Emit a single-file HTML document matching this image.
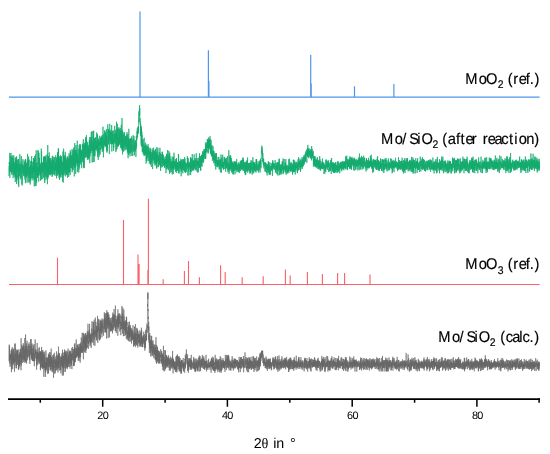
<!DOCTYPE html>
<html><head><meta charset="utf-8"><style>
html,body{margin:0;padding:0;background:#fff;}
body{width:550px;height:454px;overflow:hidden;}
svg{display:block;will-change:transform;}
text{font-family:"Liberation Sans", sans-serif;fill:#000;text-rendering:geometricPrecision;}
.lab text{stroke:#000;stroke-width:0.15px;}
</style></head><body>
<svg width="550" height="454" viewBox="0 0 550 454">
<rect width="550" height="454" fill="#fff"/>
<path d="M9.0,97.2H539.6M140.0,97.2V11.5M208.4,97.2V50.2M208.9,97.2V81.0M310.7,97.2V54.8M311.2,97.2V83.6M354.5,97.2V86.3M393.9,97.2V84.1" stroke="#4f95ea" stroke-width="1.2" fill="none"/>
<polyline points="9.00,166.2 9.08,175.9 9.17,175.0 9.25,162.4 9.33,164.0 9.42,162.3 9.50,170.4 9.58,165.9 9.67,171.8 9.75,152.9 9.83,177.8 9.92,165.7 10.00,171.4 10.08,165.5 10.17,163.8 10.25,170.0 10.33,171.0 10.42,165.2 10.50,165.6 10.58,171.8 10.67,160.5 10.75,155.8 10.83,169.8 10.92,162.1 11.00,153.0 11.08,161.1 11.17,163.7 11.25,158.4 11.33,156.3 11.42,167.5 11.50,173.8 11.58,165.6 11.67,161.9 11.75,170.2 11.83,172.6 11.92,165.3 12.00,171.4 12.08,175.1 12.17,166.1 12.25,161.7 12.33,170.2 12.42,169.5 12.50,157.5 12.58,158.4 12.67,163.0 12.75,161.8 12.83,155.3 12.92,168.9 13.00,171.8 13.08,162.6 13.17,178.1 13.25,174.1 13.33,172.7 13.42,171.1 13.50,175.2 13.58,158.6 13.67,172.8 13.75,172.7 13.83,155.5 13.92,171.0 14.00,166.7 14.08,174.2 14.17,165.4 14.25,168.5 14.33,171.1 14.42,162.3 14.50,173.1 14.58,168.0 14.67,172.4 14.75,165.1 14.83,176.8 14.92,173.3 15.00,167.7 15.08,173.6 15.17,178.2 15.25,182.0 15.33,157.6 15.42,175.5 15.50,172.4 15.58,168.4 15.67,161.8 15.75,178.2 15.83,159.9 15.92,173.2 16.00,178.6 16.08,157.5 16.17,167.0 16.25,159.7 16.33,170.9 16.42,180.2 16.50,183.9 16.58,156.3 16.67,165.0 16.75,174.3 16.83,180.7 16.92,172.3 17.00,163.9 17.08,171.4 17.17,169.2 17.25,167.8 17.33,164.0 17.42,172.1 17.50,171.6 17.58,168.7 17.67,167.8 17.75,160.1 17.83,165.9 17.92,178.1 18.00,168.0 18.08,159.0 18.17,179.1 18.25,173.3 18.33,184.7 18.42,169.9 18.50,166.1 18.58,159.0 18.67,179.1 18.75,186.9 18.83,163.6 18.92,164.9 19.00,173.9 19.08,163.6 19.17,167.6 19.25,167.1 19.33,171.0 19.42,166.7 19.50,169.8 19.58,176.3 19.67,166.6 19.75,172.0 19.83,154.2 19.92,159.2 20.00,175.5 20.08,165.4 20.17,173.9 20.25,173.7 20.33,179.3 20.42,175.6 20.50,177.1 20.58,169.0 20.67,164.7 20.75,164.5 20.83,166.3 20.92,161.7 21.00,165.9 21.08,169.2 21.17,171.7 21.25,167.4 21.33,156.0 21.42,169.4 21.50,171.5 21.58,177.8 21.67,174.1 21.75,165.3 21.83,164.7 21.92,184.5 22.00,175.4 22.08,183.2 22.17,185.4 22.25,164.1 22.33,172.8 22.42,173.3 22.50,174.1 22.58,173.9 22.67,171.5 22.75,171.3 22.83,159.2 22.92,168.9 23.00,164.7 23.08,171.0 23.17,166.7 23.25,174.5 23.33,176.0 23.42,172.3 23.50,172.4 23.58,170.8 23.67,166.9 23.75,168.9 23.83,166.6 23.92,172.9 24.00,170.2 24.08,174.3 24.17,160.6 24.25,176.6 24.33,164.7 24.42,164.9 24.50,168.8 24.58,166.1 24.67,172.3 24.75,166.1 24.83,162.5 24.92,164.1 25.00,179.7 25.08,170.6 25.17,161.8 25.25,170.3 25.33,159.0 25.42,183.2 25.50,159.3 25.58,173.7 25.67,174.2 25.75,159.8 25.83,172.5 25.92,177.5 26.00,173.7 26.08,172.2 26.17,177.2 26.25,171.5 26.33,172.8 26.42,169.4 26.50,174.9 26.58,163.6 26.67,176.1 26.75,166.7 26.83,162.5 26.92,173.0 27.00,182.6 27.08,177.3 27.17,166.7 27.25,175.4 27.33,167.2 27.42,169.5 27.50,171.1 27.58,153.8 27.67,171.8 27.75,163.1 27.83,165.5 27.92,159.9 28.00,159.6 28.08,163.7 28.17,176.4 28.25,182.4 28.33,170.2 28.42,178.2 28.50,168.5 28.58,156.6 28.67,171.4 28.75,173.5 28.83,167.2 28.92,172.5 29.00,174.4 29.08,164.0 29.17,159.6 29.25,168.6 29.33,168.7 29.42,167.6 29.50,177.2 29.58,182.5 29.67,167.1 29.75,175.1 29.83,176.8 29.92,175.2 30.00,177.6 30.08,167.2 30.17,175.3 30.25,184.5 30.33,175.7 30.42,165.5 30.50,174.3 30.58,179.0 30.67,172.6 30.75,165.8 30.83,180.9 30.92,160.9 31.00,173.4 31.08,169.7 31.17,161.2 31.25,178.5 31.33,172.3 31.42,161.4 31.50,174.0 31.58,166.6 31.67,156.1 31.75,164.7 31.83,171.5 31.92,174.2 32.00,170.8 32.08,169.9 32.17,173.0 32.25,168.1 32.33,178.0 32.42,169.8 32.50,171.6 32.58,173.4 32.67,161.9 32.75,164.4 32.83,180.4 32.92,171.8 33.00,167.4 33.08,171.8 33.17,165.9 33.25,171.3 33.33,164.6 33.42,171.3 33.50,158.0 33.58,178.8 33.67,165.6 33.75,157.9 33.83,162.0 33.92,166.6 34.00,170.3 34.08,161.0 34.17,172.0 34.25,186.3 34.33,160.0 34.42,171.5 34.50,166.9 34.58,170.4 34.67,156.1 34.75,160.8 34.83,172.3 34.92,168.7 35.00,180.7 35.08,163.9 35.17,170.2 35.25,186.1 35.33,163.5 35.42,154.5 35.50,168.7 35.58,168.6 35.67,174.9 35.75,169.8 35.83,163.5 35.92,170.4 36.00,186.0 36.08,177.9 36.17,150.3 36.25,167.8 36.33,162.6 36.42,173.2 36.50,167.6 36.58,182.6 36.67,175.4 36.75,175.1 36.83,170.1 36.92,168.4 37.00,171.2 37.08,178.0 37.17,172.5 37.25,166.2 37.33,177.8 37.42,170.0 37.50,168.1 37.58,163.0 37.67,164.6 37.75,164.1 37.83,150.1 37.92,175.9 38.00,172.6 38.08,167.1 38.17,176.0 38.25,171.7 38.33,171.2 38.42,150.9 38.50,166.9 38.58,172.3 38.67,180.0 38.75,181.6 38.83,178.7 38.92,160.2 39.00,152.8 39.08,172.5 39.17,168.7 39.25,175.3 39.33,167.5 39.42,170.0 39.50,157.7 39.58,171.6 39.67,165.2 39.75,170.9 39.83,171.6 39.92,167.5 40.00,170.6 40.08,168.2 40.17,173.7 40.25,171.9 40.33,164.4 40.42,164.1 40.50,180.7 40.58,167.6 40.67,175.3 40.75,171.1 40.83,164.2 40.92,162.9 41.00,169.1 41.08,170.0 41.17,172.6 41.25,148.6 41.33,164.0 41.42,167.5 41.50,179.5 41.58,151.4 41.67,171.3 41.75,164.3 41.83,171.2 41.92,164.6 42.00,170.7 42.08,179.2 42.17,170.6 42.25,171.1 42.33,170.7 42.42,162.7 42.50,171.9 42.58,166.5 42.67,162.3 42.75,167.7 42.83,166.4 42.92,173.3 43.00,167.7 43.08,164.2 43.17,178.3 43.25,175.0 43.33,176.9 43.42,172.2 43.50,167.1 43.58,164.9 43.67,156.5 43.75,174.6 43.83,168.6 43.92,157.3 44.00,167.6 44.08,157.8 44.17,169.0 44.25,159.3 44.33,158.8 44.42,168.6 44.50,167.2 44.58,156.0 44.67,173.0 44.75,183.1 44.83,157.2 44.92,180.6 45.00,162.8 45.08,164.2 45.17,166.4 45.25,157.4 45.33,176.8 45.42,171.1 45.50,162.3 45.58,165.6 45.67,156.8 45.75,165.1 45.83,174.2 45.92,155.4 46.00,164.5 46.08,168.6 46.17,174.9 46.25,177.1 46.33,164.3 46.42,162.2 46.50,170.7 46.58,164.9 46.67,165.3 46.75,175.1 46.83,179.4 46.92,169.3 47.00,166.0 47.08,171.4 47.17,154.0 47.25,167.2 47.33,159.8 47.42,184.2 47.50,172.4 47.58,168.3 47.67,165.9 47.75,145.0 47.83,172.3 47.92,178.8 48.00,162.1 48.08,172.1 48.17,172.3 48.25,156.3 48.33,173.8 48.42,176.8 48.50,168.8 48.58,166.7 48.67,172.7 48.75,156.3 48.83,167.8 48.92,174.6 49.00,158.3 49.08,174.1 49.17,164.1 49.25,152.4 49.33,166.3 49.42,160.2 49.50,169.3 49.58,158.8 49.67,174.4 49.75,161.8 49.83,169.5 49.92,162.8 50.00,164.7 50.08,175.4 50.17,168.5 50.25,164.2 50.33,158.1 50.42,175.1 50.50,172.1 50.58,164.6 50.67,168.6 50.75,159.6 50.83,159.7 50.92,161.1 51.00,169.4 51.08,169.0 51.17,161.6 51.25,172.1 51.33,172.4 51.42,168.1 51.50,174.2 51.58,164.8 51.67,166.0 51.75,170.2 51.83,166.6 51.92,172.4 52.00,158.0 52.08,176.9 52.17,161.3 52.25,165.6 52.33,156.0 52.42,171.0 52.50,175.8 52.58,174.3 52.67,172.6 52.75,155.8 52.83,161.2 52.92,163.5 53.00,160.2 53.08,174.6 53.17,168.0 53.25,166.5 53.33,170.1 53.42,160.0 53.50,160.3 53.58,160.5 53.67,170.2 53.75,169.1 53.83,170.7 53.92,174.3 54.00,157.1 54.08,162.7 54.17,167.7 54.25,157.2 54.33,162.9 54.42,167.7 54.50,174.4 54.58,174.2 54.67,166.8 54.75,165.1 54.83,174.2 54.92,164.0 55.00,169.0 55.08,175.9 55.17,164.0 55.25,162.3 55.33,166.5 55.42,170.8 55.50,169.9 55.58,167.6 55.67,170.4 55.75,155.3 55.83,160.5 55.92,167.7 56.00,160.0 56.08,157.1 56.17,158.0 56.25,160.0 56.33,165.2 56.42,159.3 56.50,168.1 56.58,178.4 56.67,165.4 56.75,175.4 56.83,168.5 56.92,158.6 57.00,164.6 57.08,159.5 57.17,171.8 57.25,158.3 57.33,175.7 57.42,170.5 57.50,152.2 57.58,171.9 57.67,160.5 57.75,160.8 57.83,173.3 57.92,153.7 58.00,168.1 58.08,154.7 58.17,169.7 58.25,153.8 58.33,148.1 58.42,169.1 58.50,174.6 58.58,149.3 58.67,172.1 58.75,167.1 58.83,164.0 58.92,169.2 59.00,177.8 59.08,157.6 59.17,170.2 59.25,168.7 59.33,156.3 59.42,177.6 59.50,179.9 59.58,159.6 59.67,178.4 59.75,166.6 59.83,165.1 59.92,176.7 60.00,167.8 60.08,168.5 60.17,176.8 60.25,175.2 60.33,172.4 60.42,156.4 60.50,155.2 60.58,174.0 60.67,159.7 60.75,167.2 60.83,158.6 60.92,164.8 61.00,157.2 61.08,177.5 61.17,159.0 61.25,165.2 61.33,164.8 61.42,174.5 61.50,156.2 61.58,165.8 61.67,164.6 61.75,169.8 61.83,169.3 61.92,162.8 62.00,167.7 62.08,163.4 62.17,169.3 62.25,165.3 62.33,161.5 62.42,165.8 62.50,168.5 62.58,181.7 62.67,162.6 62.75,168.1 62.83,176.1 62.92,151.5 63.00,153.9 63.08,157.7 63.17,165.1 63.25,182.5 63.33,168.5 63.42,174.1 63.50,164.2 63.58,148.6 63.67,149.6 63.75,172.6 63.83,166.8 63.92,156.5 64.00,173.2 64.08,154.8 64.17,173.2 64.25,175.4 64.33,160.0 64.42,157.6 64.50,171.0 64.58,157.6 64.67,171.1 64.75,156.8 64.83,170.6 64.92,165.7 65.00,162.0 65.08,158.7 65.17,166.5 65.25,151.8 65.33,162.9 65.42,162.0 65.50,169.4 65.58,156.0 65.67,176.4 65.75,162.4 65.83,156.7 65.92,174.0 66.00,169.5 66.08,163.1 66.17,158.3 66.25,164.4 66.33,159.6 66.42,162.1 66.50,174.9 66.58,166.9 66.67,165.1 66.75,166.5 66.83,163.6 66.92,169.8 67.00,170.0 67.08,161.4 67.17,164.6 67.25,174.3 67.33,166.7 67.42,162.5 67.50,177.8 67.58,163.7 67.67,156.1 67.75,168.2 67.83,157.4 67.92,160.1 68.00,165.7 68.08,162.6 68.17,158.2 68.25,159.6 68.33,159.2 68.42,171.2 68.50,158.3 68.58,159.3 68.67,177.0 68.75,159.3 68.83,173.2 68.92,172.0 69.00,161.9 69.08,153.2 69.17,166.0 69.25,167.4 69.33,169.4 69.42,163.2 69.50,170.9 69.58,172.1 69.67,155.4 69.75,172.3 69.83,163.7 69.92,158.7 70.00,160.3 70.08,175.2 70.17,169.1 70.25,150.2 70.33,162.9 70.42,161.3 70.50,161.0 70.58,156.4 70.67,152.2 70.75,167.9 70.83,155.7 70.92,159.5 71.00,157.9 71.08,157.0 71.17,166.9 71.25,164.4 71.33,157.2 71.42,155.4 71.50,158.5 71.58,168.2 71.67,162.5 71.75,163.2 71.83,159.3 71.92,159.8 72.00,162.9 72.08,149.0 72.17,172.3 72.25,156.0 72.33,157.5 72.42,170.3 72.50,162.7 72.58,161.4 72.67,157.2 72.75,150.6 72.83,162.3 72.92,169.1 73.00,154.9 73.08,170.1 73.17,153.3 73.25,155.9 73.33,164.2 73.42,160.7 73.50,165.4 73.58,155.7 73.67,153.7 73.75,148.0 73.83,152.4 73.92,153.3 74.00,150.2 74.08,162.5 74.17,155.9 74.25,147.0 74.33,176.4 74.42,154.6 74.50,151.8 74.58,165.0 74.67,167.9 74.75,143.1 74.83,150.2 74.92,153.3 75.00,167.5 75.08,157.8 75.17,154.4 75.25,159.5 75.33,167.7 75.42,150.3 75.50,156.9 75.58,150.2 75.67,173.9 75.75,171.5 75.83,165.6 75.92,158.3 76.00,163.5 76.08,145.0 76.17,160.8 76.25,149.9 76.33,149.9 76.42,154.0 76.50,156.3 76.58,161.9 76.67,163.2 76.75,160.2 76.83,152.1 76.92,162.8 77.00,157.4 77.08,166.0 77.17,152.0 77.25,140.7 77.33,154.7 77.42,172.1 77.50,160.9 77.58,156.4 77.67,163.5 77.75,160.9 77.83,160.5 77.92,154.0 78.00,157.8 78.08,158.6 78.17,152.9 78.25,148.9 78.33,158.0 78.42,163.4 78.50,161.2 78.58,160.1 78.67,160.1 78.75,172.6 78.83,158.3 78.92,163.4 79.00,169.4 79.08,156.7 79.17,145.2 79.25,163.1 79.33,167.3 79.42,158.2 79.50,158.4 79.58,156.5 79.67,147.9 79.75,163.2 79.83,154.1 79.92,144.3 80.00,154.6 80.08,144.1 80.17,148.8 80.25,155.5 80.33,149.2 80.42,162.3 80.50,145.5 80.58,156.8 80.67,158.7 80.75,164.6 80.83,161.0 80.92,156.4 81.00,155.3 81.08,154.3 81.17,162.1 81.25,150.2 81.33,157.9 81.42,153.8 81.50,155.9 81.58,152.5 81.67,168.2 81.75,149.8 81.83,155.7 81.92,155.8 82.00,157.9 82.08,156.8 82.17,156.5 82.25,160.1 82.33,143.7 82.42,153.6 82.50,145.4 82.58,154.9 82.67,145.6 82.75,147.0 82.83,152.8 82.92,162.2 83.00,156.8 83.08,154.9 83.17,162.1 83.25,146.7 83.33,139.2 83.42,150.0 83.50,150.9 83.58,160.8 83.67,166.6 83.75,144.0 83.83,168.2 83.92,162.7 84.00,158.0 84.08,154.8 84.17,168.0 84.25,152.9 84.33,149.2 84.42,153.2 84.50,143.3 84.58,155.3 84.67,151.4 84.75,154.2 84.83,154.4 84.92,145.1 85.00,158.0 85.08,145.3 85.17,157.6 85.25,141.5 85.33,154.2 85.42,146.4 85.50,152.0 85.58,147.4 85.67,137.4 85.75,144.3 85.83,152.0 85.92,155.5 86.00,141.9 86.08,137.6 86.17,145.7 86.25,149.9 86.33,147.1 86.42,135.2 86.50,156.7 86.58,157.3 86.67,155.9 86.75,144.9 86.83,151.5 86.92,149.7 87.00,141.7 87.08,156.5 87.17,151.4 87.25,147.6 87.33,159.8 87.42,155.6 87.50,156.1 87.58,158.3 87.67,155.1 87.75,142.3 87.83,147.9 87.92,156.8 88.00,145.4 88.08,150.5 88.17,152.8 88.25,159.5 88.33,158.5 88.42,155.9 88.50,148.9 88.58,155.9 88.67,153.4 88.75,148.9 88.83,158.6 88.92,153.0 89.00,144.9 89.08,157.9 89.17,148.0 89.25,153.4 89.33,139.8 89.42,149.4 89.50,143.4 89.58,143.2 89.67,137.2 89.75,163.1 89.83,148.3 89.92,150.8 90.00,156.3 90.08,148.4 90.17,152.4 90.25,140.4 90.33,150.3 90.42,146.3 90.50,152.1 90.58,150.0 90.67,140.0 90.75,137.0 90.83,142.3 90.92,153.4 91.00,151.4 91.08,151.2 91.17,135.7 91.25,131.9 91.33,144.5 91.42,146.3 91.50,137.5 91.58,150.6 91.67,147.2 91.75,140.7 91.83,142.6 91.92,149.0 92.00,131.3 92.08,147.6 92.17,162.4 92.25,146.3 92.33,148.7 92.42,141.5 92.50,145.5 92.58,151.1 92.67,151.3 92.75,146.7 92.83,150.1 92.92,147.9 93.00,135.6 93.08,131.0 93.17,162.1 93.25,152.6 93.33,147.0 93.42,136.3 93.50,139.2 93.58,155.8 93.67,130.7 93.75,145.1 93.83,152.6 93.92,147.9 94.00,151.7 94.08,146.1 94.17,162.0 94.25,140.3 94.33,138.2 94.42,148.5 94.50,155.7 94.58,146.3 94.67,153.2 94.75,143.2 94.83,139.0 94.92,155.3 95.00,156.3 95.08,156.0 95.17,143.6 95.25,139.0 95.33,138.1 95.42,144.8 95.50,149.9 95.58,149.4 95.67,137.1 95.75,147.3 95.83,146.2 95.92,146.6 96.00,145.8 96.08,144.7 96.17,149.6 96.25,146.7 96.33,147.2 96.42,141.5 96.50,148.2 96.58,145.0 96.67,132.4 96.75,148.7 96.83,143.9 96.92,151.4 97.00,144.5 97.08,144.9 97.17,146.8 97.25,145.3 97.33,142.6 97.42,134.1 97.50,156.8 97.58,135.4 97.67,143.1 97.75,149.3 97.83,147.5 97.92,148.6 98.00,149.9 98.08,152.9 98.17,146.8 98.25,159.9 98.33,138.6 98.42,146.3 98.50,142.6 98.58,141.4 98.67,146.6 98.75,153.8 98.83,140.3 98.92,140.2 99.00,149.1 99.08,148.0 99.17,156.7 99.25,150.9 99.33,145.9 99.42,142.4 99.50,145.7 99.58,143.3 99.67,135.8 99.75,144.3 99.83,143.2 99.92,142.8 100.00,141.5 100.08,154.6 100.17,148.4 100.25,149.9 100.33,140.2 100.42,137.6 100.50,142.2 100.58,145.4 100.67,141.7 100.75,142.7 100.83,149.7 100.92,145.6 101.00,137.6 101.08,141.0 101.17,139.6 101.25,144.7 101.33,136.3 101.42,142.4 101.50,147.8 101.58,143.6 101.67,137.8 101.75,139.6 101.83,144.1 101.92,146.3 102.00,148.4 102.08,142.3 102.17,135.0 102.25,152.0 102.33,145.0 102.42,145.6 102.50,144.9 102.58,136.6 102.67,141.0 102.75,144.5 102.83,149.3 102.92,143.2 103.00,126.7 103.08,141.3 103.17,144.9 103.25,150.7 103.33,147.0 103.42,157.4 103.50,151.4 103.58,150.9 103.67,148.3 103.75,133.9 103.83,147.7 103.92,146.1 104.00,139.1 104.08,145.9 104.17,144.9 104.25,139.4 104.33,141.4 104.42,140.5 104.50,143.5 104.58,139.5 104.67,145.4 104.75,130.2 104.83,140.2 104.92,131.5 105.00,138.9 105.08,145.0 105.17,141.9 105.25,141.1 105.33,142.1 105.42,142.8 105.50,134.8 105.58,147.0 105.67,132.2 105.75,138.6 105.83,142.4 105.92,136.1 106.00,142.6 106.08,145.7 106.17,133.8 106.25,140.7 106.33,138.8 106.42,129.1 106.50,139.8 106.58,136.0 106.67,149.1 106.75,135.5 106.83,151.3 106.92,137.5 107.00,152.6 107.08,144.0 107.17,143.4 107.25,145.5 107.33,146.0 107.42,149.1 107.50,151.0 107.58,131.8 107.67,132.6 107.75,124.3 107.83,137.8 107.92,144.8 108.00,142.4 108.08,140.7 108.17,137.8 108.25,136.0 108.33,138.1 108.42,142.2 108.50,128.9 108.58,144.2 108.67,130.7 108.75,138.7 108.83,135.7 108.92,137.3 109.00,133.0 109.08,132.3 109.17,137.9 109.25,132.6 109.33,154.0 109.42,136.6 109.50,135.1 109.58,135.7 109.67,132.5 109.75,123.9 109.83,137.4 109.92,140.8 110.00,129.6 110.08,138.9 110.17,131.4 110.25,138.6 110.33,141.0 110.42,141.8 110.50,141.5 110.58,134.5 110.67,144.2 110.75,136.1 110.83,141.0 110.92,143.1 111.00,137.0 111.08,130.9 111.17,142.6 111.25,132.0 111.33,133.4 111.42,132.1 111.50,144.0 111.58,137.8 111.67,125.0 111.75,143.3 111.83,151.5 111.92,149.8 112.00,135.3 112.08,139.3 112.17,141.9 112.25,144.3 112.33,139.0 112.42,132.1 112.50,143.4 112.58,142.6 112.67,130.7 112.75,136.5 112.83,140.4 112.92,138.8 113.00,142.0 113.08,143.6 113.17,142.1 113.25,138.1 113.33,130.5 113.42,142.5 113.50,147.3 113.58,150.8 113.67,138.6 113.75,138.6 113.83,147.6 113.92,140.0 114.00,140.8 114.08,143.1 114.17,134.1 114.25,142.3 114.33,133.7 114.42,137.9 114.50,138.0 114.58,135.9 114.67,125.9 114.75,133.7 114.83,140.8 114.92,138.4 115.00,136.3 115.08,141.4 115.17,143.0 115.25,144.0 115.33,133.9 115.42,139.0 115.50,136.8 115.58,133.5 115.67,129.8 115.75,138.3 115.83,133.6 115.92,152.1 116.00,138.4 116.08,137.7 116.17,136.6 116.25,150.5 116.33,133.4 116.42,138.1 116.50,121.7 116.58,138.4 116.67,139.0 116.75,145.9 116.83,130.6 116.92,139.1 117.00,149.1 117.08,136.2 117.17,138.2 117.25,134.0 117.33,123.7 117.42,138.8 117.50,146.6 117.58,136.6 117.67,128.2 117.75,141.1 117.83,140.0 117.92,145.6 118.00,145.1 118.08,137.9 118.17,142.0 118.25,128.7 118.33,146.4 118.42,140.8 118.50,143.0 118.58,146.2 118.67,138.0 118.75,138.8 118.83,134.5 118.92,127.2 119.00,139.0 119.08,140.8 119.17,133.3 119.25,144.2 119.33,140.5 119.42,142.7 119.50,135.3 119.58,129.3 119.67,144.7 119.75,143.7 119.83,139.4 119.92,137.5 120.00,138.4 120.08,139.3 120.17,137.0 120.25,128.0 120.33,144.9 120.42,131.1 120.50,138.2 120.58,138.4 120.67,141.9 120.75,130.5 120.83,147.6 120.92,144.3 121.00,145.0 121.08,148.1 121.17,135.6 121.25,124.8 121.33,142.5 121.42,148.4 121.50,147.6 121.58,137.3 121.67,140.0 121.75,142.3 121.83,129.7 121.92,136.6 122.00,118.0 122.08,150.3 122.17,136.8 122.25,150.3 122.33,141.0 122.42,130.8 122.50,154.4 122.58,131.1 122.67,144.8 122.75,148.8 122.83,138.0 122.92,133.8 123.00,147.6 123.08,141.7 123.17,134.0 123.25,134.9 123.33,139.1 123.42,147.4 123.50,139.8 123.58,145.6 123.67,151.7 123.75,149.4 123.83,150.4 123.92,149.3 124.00,132.1 124.08,149.3 124.17,143.9 124.25,141.2 124.33,135.5 124.42,132.5 124.50,135.4 124.58,142.1 124.67,135.1 124.75,137.3 124.83,138.6 124.92,146.4 125.00,140.6 125.08,141.6 125.17,150.5 125.25,140.6 125.33,146.2 125.42,136.3 125.50,144.7 125.58,143.5 125.67,143.8 125.75,140.0 125.83,136.7 125.92,141.1 126.00,140.1 126.08,149.2 126.17,148.5 126.25,135.9 126.33,146.9 126.42,140.3 126.50,146.0 126.58,140.4 126.67,134.5 126.75,149.5 126.83,146.1 126.92,136.1 127.00,132.1 127.08,140.3 127.17,136.5 127.25,141.4 127.33,147.4 127.42,152.6 127.50,141.6 127.58,152.1 127.67,150.8 127.75,141.3 127.83,133.9 127.92,149.1 128.00,147.7 128.08,158.2 128.17,152.7 128.25,148.8 128.33,154.3 128.42,137.9 128.50,145.4 128.58,138.6 128.67,154.8 128.75,147.8 128.83,128.8 128.92,152.7 129.00,139.1 129.08,149.2 129.17,141.7 129.25,146.1 129.33,148.5 129.42,145.9 129.50,139.1 129.58,153.2 129.67,147.3 129.75,144.8 129.83,149.2 129.92,141.8 130.00,156.3 130.08,146.4 130.17,147.3 130.25,147.2 130.33,139.7 130.42,138.2 130.50,146.5 130.58,147.4 130.67,153.3 130.75,148.0 130.83,138.9 130.92,148.5 131.00,150.4 131.08,151.4 131.17,147.5 131.25,138.3 131.33,152.4 131.42,141.3 131.50,149.0 131.58,136.4 131.67,150.2 131.75,141.1 131.83,152.1 131.92,156.1 132.00,152.6 132.08,138.9 132.17,140.3 132.25,140.7 132.33,149.7 132.42,147.9 132.50,146.8 132.58,147.7 132.67,149.3 132.75,149.7 132.83,155.8 132.92,145.6 133.00,147.1 133.08,135.2 133.17,138.2 133.25,141.9 133.33,139.0 133.42,147.1 133.50,151.8 133.58,143.3 133.67,143.0 133.75,142.8 133.83,146.4 133.92,142.5 134.00,136.0 134.08,147.3 134.17,147.5 134.25,149.9 134.33,145.6 134.42,146.2 134.50,155.3 134.58,145.0 134.67,149.7 134.75,145.4 134.83,142.4 134.92,142.4 135.00,140.2 135.08,144.8 135.17,141.3 135.25,142.2 135.33,151.4 135.42,143.6 135.50,150.7 135.58,145.6 135.67,148.8 135.75,140.4 135.83,144.5 135.92,156.9 136.00,147.9 136.08,148.7 136.17,144.2 136.25,147.4 136.33,135.9 136.42,137.4 136.50,144.2 136.58,146.1 136.67,138.9 136.75,139.8 136.83,138.5 136.92,139.1 137.00,133.0 137.08,131.3 137.17,138.3 137.25,128.6 137.33,132.2 137.42,133.3 137.50,130.5 137.58,136.9 137.67,132.4 137.75,133.6 137.83,127.6 137.92,128.2 138.00,134.0 138.08,132.1 138.17,126.5 138.25,129.9 138.33,127.7 138.42,126.2 138.50,132.7 138.58,120.6 138.67,120.4 138.75,122.4 138.83,117.6 138.92,111.4 139.00,120.3 139.08,117.1 139.17,115.2 139.25,114.6 139.33,114.3 139.42,109.3 139.50,115.8 139.58,105.0 139.67,115.2 139.75,108.1 139.83,115.2 139.92,122.1 140.00,118.1 140.08,118.2 140.17,124.8 140.25,121.9 140.33,122.5 140.42,123.9 140.50,135.3 140.58,132.0 140.67,132.1 140.75,124.4 140.83,135.0 140.92,125.9 141.00,136.2 141.08,128.6 141.17,145.6 141.25,127.2 141.33,143.2 141.42,141.6 141.50,128.8 141.58,137.4 141.67,146.7 141.75,145.6 141.83,131.6 141.92,138.0 142.00,135.0 142.08,136.2 142.17,138.6 142.25,151.8 142.33,143.3 142.42,141.8 142.50,141.5 142.58,147.0 142.67,147.4 142.75,139.4 142.83,152.0 142.92,139.1 143.00,139.0 143.08,147.5 143.17,154.2 143.25,143.9 143.33,147.3 143.42,152.7 143.50,149.5 143.58,152.3 143.67,152.0 143.75,148.2 143.83,150.3 143.92,152.0 144.00,147.4 144.08,155.8 144.17,137.8 144.25,143.4 144.33,155.5 144.42,150.6 144.50,145.4 144.58,150.7 144.67,154.4 144.75,146.3 144.83,153.2 144.92,148.9 145.00,149.1 145.08,149.5 145.17,155.5 145.25,144.5 145.33,148.4 145.42,153.7 145.50,144.4 145.58,142.7 145.67,153.6 145.75,150.9 145.83,150.3 145.92,151.9 146.00,146.4 146.08,163.7 146.17,146.6 146.25,149.5 146.33,144.7 146.42,149.8 146.50,159.6 146.58,152.2 146.67,155.2 146.75,150.0 146.83,161.5 146.92,153.4 147.00,146.5 147.08,156.7 147.17,151.1 147.25,156.1 147.33,153.8 147.42,154.3 147.50,154.0 147.58,149.0 147.67,146.1 147.75,158.5 147.83,153.1 147.92,155.3 148.00,151.6 148.08,144.0 148.17,147.8 148.25,161.1 148.33,150.4 148.42,152.5 148.50,147.2 148.58,151.9 148.67,152.8 148.75,153.6 148.83,154.4 148.92,151.7 149.00,152.1 149.08,154.9 149.17,156.7 149.25,154.5 149.33,163.8 149.42,156.3 149.50,156.2 149.58,152.2 149.67,160.5 149.75,150.5 149.83,147.7 149.92,150.9 150.00,158.8 150.08,150.2 150.17,162.2 150.25,155.8 150.33,148.5 150.42,154.9 150.50,164.8 150.58,151.9 150.67,149.7 150.75,158.7 150.83,162.6 150.92,161.2 151.00,154.7 151.08,157.3 151.17,158.0 151.25,162.2 151.33,167.0 151.42,156.0 151.50,162.9 151.58,154.9 151.67,159.5 151.75,152.1 151.83,153.0 151.92,158.8 152.00,152.4 152.08,161.1 152.17,148.5 152.25,157.3 152.33,156.5 152.42,155.3 152.50,157.6 152.58,162.3 152.67,169.1 152.75,150.2 152.83,158.6 152.92,156.3 153.00,152.8 153.08,158.6 153.17,153.0 153.25,156.9 153.33,154.8 153.42,147.6 153.50,158.6 153.58,159.6 153.67,152.9 153.75,160.1 153.83,159.3 153.92,155.9 154.00,163.5 154.08,151.3 154.17,160.8 154.25,156.6 154.33,152.7 154.42,156.9 154.50,156.1 154.58,161.8 154.67,150.7 154.75,157.0 154.83,155.8 154.92,165.6 155.00,152.6 155.08,163.1 155.17,149.6 155.25,159.8 155.33,157.5 155.42,160.0 155.50,154.8 155.58,148.8 155.67,150.8 155.75,164.6 155.83,159.3 155.92,154.2 156.00,162.7 156.08,154.8 156.17,154.9 156.25,152.6 156.33,164.1 156.42,167.9 156.50,153.9 156.58,159.9 156.67,163.3 156.75,168.7 156.83,147.2 156.92,159.3 157.00,161.8 157.08,151.6 157.17,160.7 157.25,159.7 157.33,162.2 157.42,156.0 157.50,160.8 157.58,156.0 157.67,161.6 157.75,159.7 157.83,157.2 157.92,147.7 158.00,166.9 158.08,164.3 158.17,163.2 158.25,155.9 158.33,157.4 158.42,167.1 158.50,162.7 158.58,155.1 158.67,159.4 158.75,159.9 158.83,158.3 158.92,154.8 159.00,165.3 159.08,162.2 159.17,158.5 159.25,152.0 159.33,156.7 159.42,159.5 159.50,163.6 159.58,157.8 159.67,164.8 159.75,160.3 159.83,156.1 159.92,147.8 160.00,154.2 160.08,152.7 160.17,159.1 160.25,161.4 160.33,166.4 160.42,159.8 160.50,154.4 160.58,171.0 160.67,161.4 160.75,158.7 160.83,158.8 160.92,153.7 161.00,163.1 161.08,161.9 161.17,167.6 161.25,165.3 161.33,164.3 161.42,166.1 161.50,158.9 161.58,158.2 161.67,160.1 161.75,154.5 161.83,159.7 161.92,158.9 162.00,163.6 162.08,160.4 162.17,151.6 162.25,160.7 162.33,167.2 162.42,152.0 162.50,157.1 162.58,160.7 162.67,154.5 162.75,158.1 162.83,161.0 162.92,154.6 163.00,162.2 163.08,162.7 163.17,154.9 163.25,161.0 163.33,166.0 163.42,160.1 163.50,163.0 163.58,164.0 163.67,160.0 163.75,165.7 163.83,162.9 163.92,156.5 164.00,163.6 164.08,165.2 164.17,165.0 164.25,158.3 164.33,163.4 164.42,167.7 164.50,162.4 164.58,166.9 164.67,167.5 164.75,161.3 164.83,164.5 164.92,160.2 165.00,166.5 165.08,161.1 165.17,159.0 165.25,161.5 165.33,161.3 165.42,163.4 165.50,163.9 165.58,156.3 165.67,158.8 165.75,163.5 165.83,164.0 165.92,162.2 166.00,173.1 166.08,167.1 166.17,161.6 166.25,165.3 166.33,168.2 166.42,163.7 166.50,154.0 166.58,162.5 166.67,162.4 166.75,162.5 166.83,153.7 166.92,169.3 167.00,161.5 167.08,166.6 167.17,161.0 167.25,163.2 167.33,167.6 167.42,162.8 167.50,167.3 167.58,150.0 167.67,160.6 167.75,161.5 167.83,160.2 167.92,162.0 168.00,168.8 168.08,157.3 168.17,155.1 168.25,162.6 168.33,170.4 168.42,167.5 168.50,168.8 168.58,168.5 168.67,159.5 168.75,163.4 168.83,150.9 168.92,160.1 169.00,165.7 169.08,155.9 169.17,153.6 169.25,157.1 169.33,164.1 169.42,168.4 169.50,173.9 169.58,169.7 169.67,156.3 169.75,152.7 169.83,163.9 169.92,168.1 170.00,156.0 170.08,161.0 170.17,161.3 170.25,163.6 170.33,162.6 170.42,165.8 170.50,168.3 170.58,163.9 170.67,167.0 170.75,172.7 170.83,159.0 170.92,158.9 171.00,166.0 171.08,172.1 171.17,164.5 171.25,168.8 171.33,162.4 171.42,168.0 171.50,161.1 171.58,167.0 171.67,162.0 171.75,165.8 171.83,170.2 171.92,168.9 172.00,161.4 172.08,168.1 172.17,156.5 172.25,168.7 172.33,174.6 172.42,166.7 172.50,166.6 172.58,164.6 172.67,168.1 172.75,162.4 172.83,167.5 172.92,163.3 173.00,162.6 173.08,165.1 173.17,164.3 173.25,156.8 173.33,174.0 173.42,165.3 173.50,157.1 173.58,169.6 173.67,164.6 173.75,165.7 173.83,168.0 173.92,160.8 174.00,152.7 174.08,164.4 174.17,166.0 174.25,169.4 174.33,161.6 174.42,162.0 174.50,166.8 174.58,163.6 174.67,163.9 174.75,166.2 174.83,160.7 174.92,161.6 175.00,161.0 175.08,165.3 175.17,163.7 175.25,162.1 175.33,167.6 175.42,169.8 175.50,171.7 175.58,167.9 175.67,163.3 175.75,169.2 175.83,159.0 175.92,165.6 176.00,167.7 176.08,167.9 176.17,160.3 176.25,158.8 176.33,172.8 176.42,163.2 176.50,158.2 176.58,160.0 176.67,165.6 176.75,170.8 176.83,165.6 176.92,170.9 177.00,166.6 177.08,167.7 177.17,170.0 177.25,164.0 177.33,167.0 177.42,164.0 177.50,162.9 177.58,168.6 177.67,162.1 177.75,166.1 177.83,162.3 177.92,165.4 178.00,163.5 178.08,170.6 178.17,166.2 178.25,166.2 178.33,173.1 178.42,154.1 178.50,161.0 178.58,154.2 178.67,165.8 178.75,167.8 178.83,168.7 178.92,167.1 179.00,162.1 179.08,173.6 179.17,167.3 179.25,164.8 179.33,161.1 179.42,167.8 179.50,163.9 179.58,164.1 179.67,167.0 179.75,167.0 179.83,162.5 179.92,171.6 180.00,161.7 180.08,161.2 180.17,167.4 180.25,166.6 180.33,166.4 180.42,164.3 180.50,166.2 180.58,163.6 180.67,158.9 180.75,169.2 180.83,161.6 180.92,165.0 181.00,169.2 181.08,166.1 181.17,176.3 181.25,159.9 181.33,162.7 181.42,166.4 181.50,171.8 181.58,164.9 181.67,159.7 181.75,170.9 181.83,161.9 181.92,165.1 182.00,169.7 182.08,163.0 182.17,163.9 182.25,168.0 182.33,165.0 182.42,167.1 182.50,161.8 182.58,165.3 182.67,161.1 182.75,159.1 182.83,173.4 182.92,167.8 183.00,169.8 183.08,161.6 183.17,165.7 183.25,164.9 183.33,159.7 183.42,168.1 183.50,162.7 183.58,164.9 183.67,159.2 183.75,170.0 183.83,169.0 183.92,167.4 184.00,161.8 184.08,163.4 184.17,171.0 184.25,164.5 184.33,166.9 184.42,166.3 184.50,160.9 184.58,172.2 184.67,157.2 184.75,166.6 184.83,165.3 184.92,158.8 185.00,167.1 185.08,167.9 185.17,165.9 185.25,162.1 185.33,167.6 185.42,170.4 185.50,166.6 185.58,173.0 185.67,169.3 185.75,168.9 185.83,171.5 185.92,162.8 186.00,163.4 186.08,167.8 186.17,167.8 186.25,172.0 186.33,170.4 186.42,166.3 186.50,166.5 186.58,164.4 186.67,164.0 186.75,163.6 186.83,169.4 186.92,163.5 187.00,164.0 187.08,166.2 187.17,163.3 187.25,164.5 187.33,156.3 187.42,167.1 187.50,164.2 187.58,166.3 187.67,163.4 187.75,157.7 187.83,175.5 187.92,166.2 188.00,166.3 188.08,158.1 188.17,168.3 188.25,167.4 188.33,164.2 188.42,166.8 188.50,167.0 188.58,164.4 188.67,161.4 188.75,171.4 188.83,167.0 188.92,165.1 189.00,175.3 189.08,166.5 189.17,165.1 189.25,167.0 189.33,164.1 189.42,166.7 189.50,162.1 189.58,163.0 189.67,164.7 189.75,167.1 189.83,167.3 189.92,168.2 190.00,169.0 190.08,166.7 190.17,167.8 190.25,164.1 190.33,164.6 190.42,169.9 190.50,157.3 190.58,167.1 190.67,175.0 190.75,157.8 190.83,171.7 190.92,158.1 191.00,166.9 191.08,172.1 191.17,171.5 191.25,161.5 191.33,159.9 191.42,159.3 191.50,168.2 191.58,163.6 191.67,165.2 191.75,166.2 191.83,166.8 191.92,167.3 192.00,165.6 192.08,158.4 192.17,171.0 192.25,154.0 192.33,170.1 192.42,162.4 192.50,164.1 192.58,162.7 192.67,163.4 192.75,164.8 192.83,163.7 192.92,160.3 193.00,168.3 193.08,162.4 193.17,170.3 193.25,164.1 193.33,161.8 193.42,166.5 193.50,168.3 193.58,160.9 193.67,163.5 193.75,170.5 193.83,160.5 193.92,161.1 194.00,165.3 194.08,159.6 194.17,154.4 194.25,157.7 194.33,166.0 194.42,167.2 194.50,166.9 194.58,166.0 194.67,159.3 194.75,167.2 194.83,169.1 194.92,161.5 195.00,168.2 195.08,162.8 195.17,165.0 195.25,165.7 195.33,158.1 195.42,170.2 195.50,160.7 195.58,163.7 195.67,162.1 195.75,166.0 195.83,165.8 195.92,164.1 196.00,169.8 196.08,165.1 196.17,162.3 196.25,153.2 196.33,162.8 196.42,162.7 196.50,160.3 196.58,160.3 196.67,166.2 196.75,168.0 196.83,171.4 196.92,168.3 197.00,160.8 197.08,164.6 197.17,158.0 197.25,166.5 197.33,164.9 197.42,161.0 197.50,163.0 197.58,162.4 197.67,160.8 197.75,168.6 197.83,172.8 197.92,166.6 198.00,167.5 198.08,163.8 198.17,161.7 198.25,171.9 198.33,161.5 198.42,164.6 198.50,162.4 198.58,165.2 198.67,162.6 198.75,165.2 198.83,157.6 198.92,162.3 199.00,168.1 199.08,158.4 199.17,159.8 199.25,167.9 199.33,164.0 199.42,166.6 199.50,153.3 199.58,162.8 199.67,157.0 199.75,156.5 199.83,163.7 199.92,166.7 200.00,155.9 200.08,157.4 200.17,159.4 200.25,161.2 200.33,156.3 200.42,170.6 200.50,163.8 200.58,159.9 200.67,159.2 200.75,170.5 200.83,170.1 200.92,159.1 201.00,162.3 201.08,165.9 201.17,156.0 201.25,158.3 201.33,166.0 201.42,157.7 201.50,158.6 201.58,154.9 201.67,157.1 201.75,162.8 201.83,156.6 201.92,154.6 202.00,157.2 202.08,166.7 202.17,160.2 202.25,157.1 202.33,159.8 202.42,160.8 202.50,159.4 202.58,151.6 202.67,159.9 202.75,157.7 202.83,154.9 202.92,152.8 203.00,162.3 203.08,155.9 203.17,150.9 203.25,162.9 203.33,155.4 203.42,158.8 203.50,156.4 203.58,161.3 203.67,161.1 203.75,161.0 203.83,159.2 203.92,149.7 204.00,149.3 204.08,156.6 204.17,151.7 204.25,157.2 204.33,155.8 204.42,149.3 204.50,150.6 204.58,149.9 204.67,150.7 204.75,153.2 204.83,156.5 204.92,158.8 205.00,149.4 205.08,150.8 205.17,158.9 205.25,156.1 205.33,153.2 205.42,142.6 205.50,147.7 205.58,152.1 205.67,148.8 205.75,158.8 205.83,151.0 205.92,151.4 206.00,145.7 206.08,144.1 206.17,146.8 206.25,146.7 206.33,148.0 206.42,150.1 206.50,149.3 206.58,152.0 206.67,142.4 206.75,148.3 206.83,148.2 206.92,153.3 207.00,145.9 207.08,147.8 207.17,143.0 207.25,141.2 207.33,139.0 207.42,143.1 207.50,143.6 207.58,145.0 207.67,147.3 207.75,140.2 207.83,148.1 207.92,139.0 208.00,151.9 208.08,150.0 208.17,142.6 208.25,141.6 208.33,153.4 208.42,137.4 208.50,146.2 208.58,142.3 208.67,143.4 208.75,147.1 208.83,146.4 208.92,140.8 209.00,149.0 209.08,145.4 209.17,140.6 209.25,148.4 209.33,143.9 209.42,147.8 209.50,142.7 209.58,146.5 209.67,138.9 209.75,146.9 209.83,138.8 209.92,146.6 210.00,136.1 210.08,146.1 210.17,149.5 210.25,148.8 210.33,151.8 210.42,143.2 210.50,153.8 210.58,154.3 210.67,143.5 210.75,145.4 210.83,146.5 210.92,149.0 211.00,150.1 211.08,139.9 211.17,152.2 211.25,149.2 211.33,146.5 211.42,154.5 211.50,149.7 211.58,155.8 211.67,153.7 211.75,150.6 211.83,156.7 211.92,155.5 212.00,150.7 212.08,145.2 212.17,151.0 212.25,155.8 212.33,152.7 212.42,160.8 212.50,155.1 212.58,155.1 212.67,156.1 212.75,151.3 212.83,154.5 212.92,152.6 213.00,146.3 213.08,148.7 213.17,158.7 213.25,154.3 213.33,155.8 213.42,150.7 213.50,154.3 213.58,159.8 213.67,157.3 213.75,155.1 213.83,163.3 213.92,157.2 214.00,156.3 214.08,162.2 214.17,151.2 214.25,160.2 214.33,153.9 214.42,155.3 214.50,155.9 214.58,159.2 214.67,159.2 214.75,160.1 214.83,159.9 214.92,164.6 215.00,165.9 215.08,162.2 215.17,162.5 215.25,158.2 215.33,155.5 215.42,162.2 215.50,160.1 215.58,163.4 215.67,153.1 215.75,169.5 215.83,155.5 215.92,160.6 216.00,164.4 216.08,155.3 216.17,158.6 216.25,153.0 216.33,155.4 216.42,153.5 216.50,156.2 216.58,162.3 216.67,160.0 216.75,166.2 216.83,166.7 216.92,161.4 217.00,160.7 217.08,160.5 217.17,159.9 217.25,166.8 217.33,162.7 217.42,160.6 217.50,161.1 217.58,164.1 217.67,160.5 217.75,163.3 217.83,162.0 217.92,167.4 218.00,166.7 218.08,156.9 218.17,161.8 218.25,165.2 218.33,160.8 218.42,165.7 218.50,163.9 218.58,164.9 218.67,162.4 218.75,163.9 218.83,164.8 218.92,157.2 219.00,159.3 219.08,159.0 219.17,169.4 219.25,159.9 219.33,164.5 219.42,163.7 219.50,161.1 219.58,160.3 219.67,166.4 219.75,161.8 219.83,169.3 219.92,164.0 220.00,163.6 220.08,162.5 220.17,163.1 220.25,163.6 220.33,169.3 220.42,172.4 220.50,159.1 220.58,164.5 220.67,166.3 220.75,160.2 220.83,161.2 220.92,161.9 221.00,154.5 221.08,166.2 221.17,163.6 221.25,163.4 221.33,164.1 221.42,164.8 221.50,172.7 221.58,164.6 221.67,167.1 221.75,157.5 221.83,165.3 221.92,162.8 222.00,163.4 222.08,160.6 222.17,161.0 222.25,165.8 222.33,166.9 222.42,165.9 222.50,161.6 222.58,165.4 222.67,154.6 222.75,167.8 222.83,164.1 222.92,165.3 223.00,168.7 223.08,162.7 223.17,166.5 223.25,162.7 223.33,166.4 223.42,162.8 223.50,165.5 223.58,169.9 223.67,162.0 223.75,162.1 223.83,163.2 223.92,165.6 224.00,169.0 224.08,162.3 224.17,156.8 224.25,162.1 224.33,158.6 224.42,162.5 224.50,164.7 224.58,161.0 224.67,162.1 224.75,157.6 224.83,160.5 224.92,161.9 225.00,168.8 225.08,168.7 225.17,161.0 225.25,163.3 225.33,164.9 225.42,167.6 225.50,158.5 225.58,164.5 225.67,171.8 225.75,164.5 225.83,165.7 225.92,164.8 226.00,160.4 226.08,168.4 226.17,165.9 226.25,165.5 226.33,167.6 226.42,167.9 226.50,157.8 226.58,166.7 226.67,162.8 226.75,165.6 226.83,162.3 226.92,161.8 227.00,168.6 227.08,165.0 227.17,164.0 227.25,164.0 227.33,165.4 227.42,165.0 227.50,156.2 227.58,161.8 227.67,164.2 227.75,167.9 227.83,170.2 227.92,161.7 228.00,172.4 228.08,165.5 228.17,167.0 228.25,163.2 228.33,163.0 228.42,170.6 228.50,164.4 228.58,164.9 228.67,169.6 228.75,171.7 228.83,150.2 228.92,164.6 229.00,165.3 229.08,172.1 229.17,173.9 229.25,165.2 229.33,166.8 229.42,168.6 229.50,169.7 229.58,164.2 229.67,168.6 229.75,162.8 229.83,155.5 229.92,160.3 230.00,166.3 230.08,168.4 230.17,157.1 230.25,158.8 230.33,165.4 230.42,155.6 230.50,167.6 230.58,169.4 230.67,155.6 230.75,168.5 230.83,164.9 230.92,170.9 231.00,166.7 231.08,164.8 231.17,166.2 231.25,169.2 231.33,157.9 231.42,165.9 231.50,160.4 231.58,167.6 231.67,165.9 231.75,172.6 231.83,165.8 231.92,165.5 232.00,163.6 232.08,168.5 232.17,165.1 232.25,163.3 232.33,171.8 232.42,172.5 232.50,164.3 232.58,162.2 232.67,170.1 232.75,162.9 232.83,174.3 232.92,165.5 233.00,169.6 233.08,161.2 233.17,165.9 233.25,170.1 233.33,167.7 233.42,164.1 233.50,174.3 233.58,168.8 233.67,165.3 233.75,163.9 233.83,165.1 233.92,171.1 234.00,163.3 234.08,166.3 234.17,163.1 234.25,170.8 234.33,165.6 234.42,169.3 234.50,161.4 234.58,164.1 234.67,168.8 234.75,169.7 234.83,162.0 234.92,168.8 235.00,174.4 235.08,165.2 235.17,168.6 235.25,161.4 235.33,168.0 235.42,164.1 235.50,169.1 235.58,166.1 235.67,162.0 235.75,170.4 235.83,165.5 235.92,162.6 236.00,166.6 236.08,162.8 236.17,167.8 236.25,166.1 236.33,165.0 236.42,168.8 236.50,161.7 236.58,170.0 236.67,159.1 236.75,172.3 236.83,167.1 236.92,165.5 237.00,163.7 237.08,168.4 237.17,165.9 237.25,165.8 237.33,170.2 237.42,164.9 237.50,165.6 237.58,168.1 237.67,170.4 237.75,166.0 237.83,167.1 237.92,166.7 238.00,169.2 238.08,172.0 238.17,163.1 238.25,166.1 238.33,166.4 238.42,168.7 238.50,172.1 238.58,166.5 238.67,167.4 238.75,170.7 238.83,162.1 238.92,163.8 239.00,165.0 239.08,166.6 239.17,167.5 239.25,164.7 239.33,173.0 239.42,164.1 239.50,165.9 239.58,170.6 239.67,169.5 239.75,166.6 239.83,168.0 239.92,169.7 240.00,166.6 240.08,169.0 240.17,163.3 240.25,166.9 240.33,160.7 240.42,163.4 240.50,162.5 240.58,171.2 240.67,165.0 240.75,167.8 240.83,163.3 240.92,166.0 241.00,165.7 241.08,163.6 241.17,169.8 241.25,160.7 241.33,169.0 241.42,167.0 241.50,163.7 241.58,166.8 241.67,161.0 241.75,166.6 241.83,160.4 241.92,169.0 242.00,164.9 242.08,160.0 242.17,162.0 242.25,160.9 242.33,165.6 242.42,169.8 242.50,162.5 242.58,162.4 242.67,163.6 242.75,167.1 242.83,157.8 242.92,168.8 243.00,168.1 243.08,157.7 243.17,170.9 243.25,160.7 243.33,165.8 243.42,170.9 243.50,160.7 243.58,159.9 243.67,162.5 243.75,162.7 243.83,162.3 243.92,164.7 244.00,164.8 244.08,164.8 244.17,165.9 244.25,163.5 244.33,167.8 244.42,166.6 244.50,162.9 244.58,173.2 244.67,162.0 244.75,167.2 244.83,163.9 244.92,168.0 245.00,168.6 245.08,169.8 245.17,171.8 245.25,163.6 245.33,175.0 245.42,168.2 245.50,163.8 245.58,161.8 245.67,175.1 245.75,172.7 245.83,166.7 245.92,169.6 246.00,171.6 246.08,167.2 246.17,165.3 246.25,166.7 246.33,169.9 246.42,166.9 246.50,162.4 246.58,169.6 246.67,160.7 246.75,164.2 246.83,171.4 246.92,167.8 247.00,167.8 247.08,167.3 247.17,170.6 247.25,166.7 247.33,159.9 247.42,167.8 247.50,157.5 247.58,159.6 247.67,172.7 247.75,170.7 247.83,165.3 247.92,166.7 248.00,167.3 248.08,170.6 248.17,164.2 248.25,163.8 248.33,164.7 248.42,163.5 248.50,167.9 248.58,165.6 248.67,169.7 248.75,163.3 248.83,166.7 248.92,164.5 249.00,163.4 249.08,171.4 249.17,165.9 249.25,163.4 249.33,167.2 249.42,163.4 249.50,169.2 249.58,170.1 249.67,170.7 249.75,163.3 249.83,166.5 249.92,173.7 250.00,163.2 250.08,171.6 250.17,172.5 250.25,162.2 250.33,171.4 250.42,169.8 250.50,170.2 250.58,173.1 250.67,168.8 250.75,167.4 250.83,169.3 250.92,165.9 251.00,168.9 251.08,160.0 251.17,170.1 251.25,165.3 251.33,169.1 251.42,168.3 251.50,167.5 251.58,167.6 251.67,167.4 251.75,161.3 251.83,165.2 251.92,171.4 252.00,163.5 252.08,163.4 252.17,174.7 252.25,171.5 252.33,172.7 252.42,167.1 252.50,168.1 252.58,169.9 252.67,169.2 252.75,166.9 252.83,157.2 252.92,164.6 253.00,161.8 253.08,172.8 253.17,165.8 253.25,166.5 253.33,168.2 253.42,167.2 253.50,169.0 253.58,165.0 253.67,161.8 253.75,173.3 253.83,164.6 253.92,165.5 254.00,164.3 254.08,165.2 254.17,167.2 254.25,169.8 254.33,163.4 254.42,168.1 254.50,164.7 254.58,171.3 254.67,162.8 254.75,167.5 254.83,169.6 254.92,162.3 255.00,167.5 255.08,167.6 255.17,164.3 255.25,166.3 255.33,170.5 255.42,167.9 255.50,165.6 255.58,166.3 255.67,168.6 255.75,171.5 255.83,169.8 255.92,169.6 256.00,172.5 256.08,161.6 256.17,162.0 256.25,159.1 256.33,169.9 256.42,159.0 256.50,166.8 256.58,169.5 256.67,159.0 256.75,164.6 256.83,166.0 256.92,169.4 257.00,161.6 257.08,167.9 257.17,169.2 257.25,167.3 257.33,167.3 257.42,171.1 257.50,167.5 257.58,166.7 257.67,165.6 257.75,168.9 257.83,165.7 257.92,168.9 258.00,166.9 258.08,164.9 258.17,163.8 258.25,166.8 258.33,167.7 258.42,167.8 258.50,170.3 258.58,167.7 258.67,169.4 258.75,172.9 258.83,169.1 258.92,162.5 259.00,161.2 259.08,168.3 259.17,164.6 259.25,166.8 259.33,161.6 259.42,170.1 259.50,169.6 259.58,161.5 259.67,166.2 259.75,164.1 259.83,160.5 259.92,167.0 260.00,164.1 260.08,165.9 260.17,172.3 260.25,168.4 260.33,167.4 260.42,162.0 260.50,159.0 260.58,166.9 260.67,161.2 260.75,161.9 260.83,160.0 260.92,161.1 261.00,168.3 261.08,158.4 261.17,157.8 261.25,158.8 261.33,158.3 261.42,152.4 261.50,149.6 261.58,152.9 261.67,153.5 261.75,150.9 261.83,145.6 261.92,149.6 262.00,151.3 262.08,152.4 262.17,147.5 262.25,151.7 262.33,155.4 262.42,154.5 262.50,151.0 262.58,155.3 262.67,157.2 262.75,160.7 262.83,153.3 262.92,161.9 263.00,158.6 263.08,161.5 263.17,163.7 263.25,158.9 263.33,159.5 263.42,162.3 263.50,165.5 263.58,161.6 263.67,158.9 263.75,161.6 263.83,165.6 263.92,168.4 264.00,163.0 264.08,163.8 264.17,164.5 264.25,164.8 264.33,162.2 264.42,164.0 264.50,166.4 264.58,166.1 264.67,165.9 264.75,162.6 264.83,164.2 264.92,163.7 265.00,169.8 265.08,171.2 265.17,167.5 265.25,171.9 265.33,165.5 265.42,165.6 265.50,162.3 265.58,167.5 265.67,165.2 265.75,167.1 265.83,168.5 265.92,166.1 266.00,163.1 266.08,166.8 266.17,166.8 266.25,167.1 266.33,169.4 266.42,166.4 266.50,166.2 266.58,173.0 266.67,170.8 266.75,166.9 266.83,164.1 266.92,165.8 267.00,168.6 267.08,169.5 267.17,175.5 267.25,166.6 267.33,168.0 267.42,166.3 267.50,167.8 267.58,166.2 267.67,163.9 267.75,171.0 267.83,168.0 267.92,171.9 268.00,165.9 268.08,168.5 268.17,169.9 268.25,161.4 268.33,163.3 268.42,170.2 268.50,168.1 268.58,161.6 268.67,165.3 268.75,164.3 268.83,166.2 268.92,173.0 269.00,165.9 269.08,174.7 269.17,167.0 269.25,165.4 269.33,173.2 269.42,171.1 269.50,172.6 269.58,174.5 269.67,171.5 269.75,169.4 269.83,162.2 269.92,165.2 270.00,169.5 270.08,168.7 270.17,170.5 270.25,166.4 270.33,171.8 270.42,174.8 270.50,170.0 270.58,170.9 270.67,169.8 270.75,171.2 270.83,168.8 270.92,166.4 271.00,168.8 271.08,168.5 271.17,163.0 271.25,168.9 271.33,168.2 271.42,168.8 271.50,166.2 271.58,169.7 271.67,170.2 271.75,165.7 271.83,169.2 271.92,170.7 272.00,170.6 272.08,165.0 272.17,164.6 272.25,168.1 272.33,164.5 272.42,176.0 272.50,161.0 272.58,165.3 272.67,165.5 272.75,166.4 272.83,160.1 272.92,167.4 273.00,164.6 273.08,166.1 273.17,162.4 273.25,164.8 273.33,167.3 273.42,167.5 273.50,164.0 273.58,165.4 273.67,164.9 273.75,164.6 273.83,167.2 273.92,163.5 274.00,169.8 274.08,165.3 274.17,169.0 274.25,164.6 274.33,168.6 274.42,167.2 274.50,167.8 274.58,169.3 274.67,169.1 274.75,168.2 274.83,168.1 274.92,163.3 275.00,167.4 275.08,160.2 275.17,160.1 275.25,166.5 275.33,166.8 275.42,172.6 275.50,169.8 275.58,171.3 275.67,166.5 275.75,169.0 275.83,171.5 275.92,166.5 276.00,168.7 276.08,167.9 276.17,164.5 276.25,164.6 276.33,162.8 276.42,168.9 276.50,166.7 276.58,165.3 276.67,168.8 276.75,165.7 276.83,171.1 276.92,174.0 277.00,169.1 277.08,165.3 277.17,162.6 277.25,174.3 277.33,165.0 277.42,163.6 277.50,169.6 277.58,162.0 277.67,166.1 277.75,166.8 277.83,166.3 277.92,163.7 278.00,175.6 278.08,166.2 278.17,168.8 278.25,167.6 278.33,162.2 278.42,165.7 278.50,168.2 278.58,170.6 278.67,166.3 278.75,168.2 278.83,166.4 278.92,169.5 279.00,159.2 279.08,169.5 279.17,165.4 279.25,165.5 279.33,158.7 279.42,160.1 279.50,169.5 279.58,175.2 279.67,165.1 279.75,165.2 279.83,169.1 279.92,168.4 280.00,165.5 280.08,166.9 280.17,166.2 280.25,169.6 280.33,170.1 280.42,173.4 280.50,170.6 280.58,169.7 280.67,168.0 280.75,170.7 280.83,164.2 280.92,174.8 281.00,168.5 281.08,172.3 281.17,164.9 281.25,171.0 281.33,168.9 281.42,167.0 281.50,165.3 281.58,164.6 281.67,173.7 281.75,171.7 281.83,168.0 281.92,168.3 282.00,165.2 282.08,161.4 282.17,161.6 282.25,165.6 282.33,167.1 282.42,163.7 282.50,170.4 282.58,169.4 282.67,168.2 282.75,161.7 282.83,167.0 282.92,167.6 283.00,163.4 283.08,158.5 283.17,174.2 283.25,169.8 283.33,166.4 283.42,173.1 283.50,171.5 283.58,169.3 283.67,168.5 283.75,170.4 283.83,172.7 283.92,168.0 284.00,167.0 284.08,169.7 284.17,159.0 284.25,168.1 284.33,166.4 284.42,167.7 284.50,167.2 284.58,169.0 284.67,168.2 284.75,168.0 284.83,167.4 284.92,169.4 285.00,166.1 285.08,171.2 285.17,162.1 285.25,168.5 285.33,167.8 285.42,163.5 285.50,166.4 285.58,172.4 285.67,167.4 285.75,164.9 285.83,159.1 285.92,169.0 286.00,168.2 286.08,170.0 286.17,174.8 286.25,167.9 286.33,168.4 286.42,165.6 286.50,167.7 286.58,167.8 286.67,170.5 286.75,169.8 286.83,165.3 286.92,166.3 287.00,172.6 287.08,164.7 287.17,170.5 287.25,173.5 287.33,170.2 287.42,168.8 287.50,172.6 287.58,169.2 287.67,167.9 287.75,167.3 287.83,171.9 287.92,170.3 288.00,173.2 288.08,166.8 288.17,166.9 288.25,166.5 288.33,168.9 288.42,165.6 288.50,171.1 288.58,169.1 288.67,164.7 288.75,159.2 288.83,161.8 288.92,172.9 289.00,167.8 289.08,168.5 289.17,166.6 289.25,169.4 289.33,161.5 289.42,158.7 289.50,162.5 289.58,168.2 289.67,170.4 289.75,169.6 289.83,167.6 289.92,163.7 290.00,170.7 290.08,167.1 290.17,167.9 290.25,167.7 290.33,166.4 290.42,165.5 290.50,165.9 290.58,163.6 290.67,168.8 290.75,167.3 290.83,171.4 290.92,161.8 291.00,171.9 291.08,167.6 291.17,167.3 291.25,165.1 291.33,165.1 291.42,162.8 291.50,167.3 291.58,167.1 291.67,170.2 291.75,170.6 291.83,166.1 291.92,166.9 292.00,166.6 292.08,171.2 292.17,168.1 292.25,168.3 292.33,170.1 292.42,167.4 292.50,174.6 292.58,164.5 292.67,171.9 292.75,172.4 292.83,163.7 292.92,169.9 293.00,168.5 293.08,170.5 293.17,163.5 293.25,168.3 293.33,159.8 293.42,166.4 293.50,172.3 293.58,167.0 293.67,159.8 293.75,162.7 293.83,163.5 293.92,170.8 294.00,165.0 294.08,162.1 294.17,171.1 294.25,168.2 294.33,168.4 294.42,164.6 294.50,172.1 294.58,166.8 294.67,160.5 294.75,163.3 294.83,162.2 294.92,166.6 295.00,169.7 295.08,164.6 295.17,165.1 295.25,174.5 295.33,167.3 295.42,165.2 295.50,167.1 295.58,162.7 295.67,168.8 295.75,170.2 295.83,164.9 295.92,170.3 296.00,165.9 296.08,167.8 296.17,164.3 296.25,164.1 296.33,161.7 296.42,167.5 296.50,165.8 296.58,165.8 296.67,162.8 296.75,162.7 296.83,164.5 296.92,168.2 297.00,167.6 297.08,164.2 297.17,167.5 297.25,172.4 297.33,166.8 297.42,173.2 297.50,167.8 297.58,170.8 297.67,164.5 297.75,170.2 297.83,162.2 297.92,167.0 298.00,165.0 298.08,159.4 298.17,161.5 298.25,169.9 298.33,167.7 298.42,170.4 298.50,166.6 298.58,157.1 298.67,166.7 298.75,163.9 298.83,164.1 298.92,164.2 299.00,163.1 299.08,162.4 299.17,169.8 299.25,167.1 299.33,163.3 299.42,164.1 299.50,164.4 299.58,166.7 299.67,166.0 299.75,161.1 299.83,163.8 299.92,161.3 300.00,158.6 300.08,168.1 300.17,160.8 300.25,163.6 300.33,161.7 300.42,167.4 300.50,171.9 300.58,166.7 300.67,167.8 300.75,160.4 300.83,165.2 300.92,165.2 301.00,169.5 301.08,159.8 301.17,161.1 301.25,164.0 301.33,162.7 301.42,167.0 301.50,166.3 301.58,165.1 301.67,164.5 301.75,166.6 301.83,162.0 301.92,160.5 302.00,157.2 302.08,167.0 302.17,165.1 302.25,165.4 302.33,163.3 302.42,168.7 302.50,159.7 302.58,167.0 302.67,159.9 302.75,161.2 302.83,158.5 302.92,162.8 303.00,161.4 303.08,163.7 303.17,160.2 303.25,157.3 303.33,163.8 303.42,166.2 303.50,164.2 303.58,161.4 303.67,162.8 303.75,155.5 303.83,160.0 303.92,165.0 304.00,162.4 304.08,157.9 304.17,163.5 304.25,160.0 304.33,162.8 304.42,155.4 304.50,158.2 304.58,161.0 304.67,160.7 304.75,161.4 304.83,159.3 304.92,158.5 305.00,160.6 305.08,161.8 305.17,153.6 305.25,157.4 305.33,157.6 305.42,158.7 305.50,161.4 305.58,153.3 305.67,159.4 305.75,151.5 305.83,154.6 305.92,155.2 306.00,155.9 306.08,154.5 306.17,154.6 306.25,155.0 306.33,155.1 306.42,149.5 306.50,150.8 306.58,153.9 306.67,156.9 306.75,158.3 306.83,162.9 306.92,154.9 307.00,151.7 307.08,154.7 307.17,156.2 307.25,154.2 307.33,149.9 307.42,153.0 307.50,153.0 307.58,148.2 307.67,148.7 307.75,156.6 307.83,144.9 307.92,152.8 308.00,151.2 308.08,156.6 308.17,153.9 308.25,148.8 308.33,155.8 308.42,149.6 308.50,158.1 308.58,156.8 308.67,150.9 308.75,153.7 308.83,151.7 308.92,148.0 309.00,154.6 309.08,152.4 309.17,153.8 309.25,154.5 309.33,155.7 309.42,154.5 309.50,150.7 309.58,151.4 309.67,152.5 309.75,150.8 309.83,150.5 309.92,156.6 310.00,153.1 310.08,157.9 310.17,149.1 310.25,151.7 310.33,150.5 310.42,150.8 310.50,151.3 310.58,152.0 310.67,151.1 310.75,158.7 310.83,155.1 310.92,150.6 311.00,151.4 311.08,155.9 311.17,155.4 311.25,151.8 311.33,157.1 311.42,149.4 311.50,152.8 311.58,160.4 311.67,146.1 311.75,154.3 311.83,158.5 311.92,154.9 312.00,153.0 312.08,152.8 312.17,149.0 312.25,151.7 312.33,156.6 312.42,154.7 312.50,156.7 312.58,156.5 312.67,158.1 312.75,151.8 312.83,156.5 312.92,156.6 313.00,156.8 313.08,154.5 313.17,150.9 313.25,160.5 313.33,161.3 313.42,166.7 313.50,159.0 313.58,164.5 313.67,161.2 313.75,158.1 313.83,161.2 313.92,155.8 314.00,160.6 314.08,159.6 314.17,156.6 314.25,164.3 314.33,164.1 314.42,162.0 314.50,160.4 314.58,166.2 314.67,160.4 314.75,156.5 314.83,157.9 314.92,163.5 315.00,162.1 315.08,156.5 315.17,166.0 315.25,162.4 315.33,167.2 315.42,165.6 315.50,160.5 315.58,162.4 315.67,159.7 315.75,159.4 315.83,161.3 315.92,164.1 316.00,167.1 316.08,159.6 316.17,165.0 316.25,162.9 316.33,162.1 316.42,166.7 316.50,161.8 316.58,167.7 316.67,162.0 316.75,160.1 316.83,164.5 316.92,158.5 317.00,159.5 317.08,162.9 317.17,163.6 317.25,162.7 317.33,157.1 317.42,159.3 317.50,165.5 317.58,165.7 317.67,160.5 317.75,164.9 317.83,164.7 317.92,167.5 318.00,161.7 318.08,169.1 318.17,163.2 318.25,169.1 318.33,167.4 318.42,161.0 318.50,163.4 318.58,165.4 318.67,167.9 318.75,159.9 318.83,162.9 318.92,166.7 319.00,166.3 319.08,161.2 319.17,161.7 319.25,166.2 319.33,161.4 319.42,165.6 319.50,168.0 319.58,165.0 319.67,156.0 319.75,168.9 319.83,168.9 319.92,169.8 320.00,168.0 320.08,159.4 320.17,169.9 320.25,166.3 320.33,168.3 320.42,164.7 320.50,164.4 320.58,164.5 320.67,170.7 320.75,166.3 320.83,164.7 320.92,161.1 321.00,167.0 321.08,165.5 321.17,166.0 321.25,168.8 321.33,168.0 321.42,165.6 321.50,166.3 321.58,165.9 321.67,168.0 321.75,168.0 321.83,166.1 321.92,162.8 322.00,168.6 322.08,168.8 322.17,162.2 322.25,167.1 322.33,164.5 322.42,158.5 322.50,165.7 322.58,169.0 322.67,163.4 322.75,163.5 322.83,169.3 322.92,162.2 323.00,162.8 323.08,164.9 323.17,168.0 323.25,168.1 323.33,164.2 323.42,165.0 323.50,166.3 323.58,164.7 323.67,163.1 323.75,162.4 323.83,168.5 323.92,165.3 324.00,174.1 324.08,168.2 324.17,163.6 324.25,166.2 324.33,167.3 324.42,167.5 324.50,167.7 324.58,167.7 324.67,165.7 324.75,168.4 324.83,173.6 324.92,164.8 325.00,165.0 325.08,168.7 325.17,170.5 325.25,169.1 325.33,170.4 325.42,166.2 325.50,165.6 325.58,168.5 325.67,168.6 325.75,172.0 325.83,171.6 325.92,160.2 326.00,169.0 326.08,164.2 326.17,159.3 326.25,167.7 326.33,165.9 326.42,165.3 326.50,162.1 326.58,163.0 326.67,165.7 326.75,161.4 326.83,166.1 326.92,166.9 327.00,166.0 327.08,167.5 327.17,166.3 327.25,162.6 327.33,163.0 327.42,167.0 327.50,169.8 327.58,167.0 327.67,164.9 327.75,167.1 327.83,160.5 327.92,163.2 328.00,165.3 328.08,166.3 328.17,165.5 328.25,165.7 328.33,162.6 328.42,164.7 328.50,167.4 328.58,160.4 328.67,162.6 328.75,165.4 328.83,171.6 328.92,168.9 329.00,171.9 329.08,171.2 329.17,165.1 329.25,166.4 329.33,162.7 329.42,170.6 329.50,169.1 329.58,168.7 329.67,168.9 329.75,168.2 329.83,167.4 329.92,167.6 330.00,170.8 330.08,164.1 330.17,163.2 330.25,166.7 330.33,170.6 330.42,167.5 330.50,166.1 330.58,169.6 330.67,166.5 330.75,160.4 330.83,163.4 330.92,159.7 331.00,166.0 331.08,165.3 331.17,168.3 331.25,173.9 331.33,164.8 331.42,166.8 331.50,165.5 331.58,158.0 331.67,164.3 331.75,164.4 331.83,167.8 331.92,164.0 332.00,162.5 332.08,168.8 332.17,166.6 332.25,163.9 332.33,164.3 332.42,165.9 332.50,164.6 332.58,171.7 332.67,162.5 332.75,170.8 332.83,167.1 332.92,168.1 333.00,170.2 333.08,162.6 333.17,169.8 333.25,162.5 333.33,165.4 333.42,164.1 333.50,172.6 333.58,172.4 333.67,169.5 333.75,168.7 333.83,165.2 333.92,172.8 334.00,171.7 334.08,162.9 334.17,166.6 334.25,165.8 334.33,166.7 334.42,171.5 334.50,163.8 334.58,167.4 334.67,172.5 334.75,170.0 334.83,172.9 334.92,163.8 335.00,168.5 335.08,171.7 335.17,169.3 335.25,168.2 335.33,165.4 335.42,162.1 335.50,172.1 335.58,165.7 335.67,164.6 335.75,170.0 335.83,164.2 335.92,162.6 336.00,165.2 336.08,166.9 336.17,168.1 336.25,168.9 336.33,170.4 336.42,166.8 336.50,168.4 336.58,166.8 336.67,165.0 336.75,168.5 336.83,168.4 336.92,172.9 337.00,169.2 337.08,164.9 337.17,169.2 337.25,166.4 337.33,172.5 337.42,161.5 337.50,165.0 337.58,165.0 337.67,167.6 337.75,166.8 337.83,161.9 337.92,161.0 338.00,167.8 338.08,172.1 338.17,172.1 338.25,165.9 338.33,168.8 338.42,164.4 338.50,162.4 338.58,171.3 338.67,169.5 338.75,166.2 338.83,166.0 338.92,170.3 339.00,168.3 339.08,166.2 339.17,168.2 339.25,167.3 339.33,165.9 339.42,164.9 339.50,170.4 339.58,165.7 339.67,163.4 339.75,173.3 339.83,171.4 339.92,169.0 340.00,167.1 340.08,167.9 340.17,162.4 340.25,167.1 340.33,168.1 340.42,166.5 340.50,168.5 340.58,164.5 340.67,167.6 340.75,161.8 340.83,166.9 340.92,164.9 341.00,162.5 341.08,165.5 341.17,166.9 341.25,164.8 341.33,169.8 341.42,164.4 341.50,169.8 341.58,169.0 341.67,164.6 341.75,171.3 341.83,162.0 341.92,168.3 342.00,166.7 342.08,168.9 342.17,161.2 342.25,162.4 342.33,163.6 342.42,166.3 342.50,166.5 342.58,166.2 342.67,165.3 342.75,163.8 342.83,161.5 342.92,164.6 343.00,167.7 343.08,169.3 343.17,164.2 343.25,169.4 343.33,161.4 343.42,168.4 343.50,162.2 343.58,166.5 343.67,162.5 343.75,162.5 343.83,163.8 343.92,170.3 344.00,163.4 344.08,167.6 344.17,166.0 344.25,166.5 344.33,166.5 344.42,167.5 344.50,161.4 344.58,165.5 344.67,166.5 344.75,163.3 344.83,166.4 344.92,161.8 345.00,167.6 345.08,162.8 345.17,164.2 345.25,167.7 345.33,168.6 345.42,163.1 345.50,162.9 345.58,168.2 345.67,156.1 345.75,169.3 345.83,169.1 345.92,161.3 346.00,168.7 346.08,165.9 346.17,166.2 346.25,157.1 346.33,163.0 346.42,164.0 346.50,163.3 346.58,163.3 346.67,163.6 346.75,155.7 346.83,163.8 346.92,162.2 347.00,164.1 347.08,162.8 347.17,164.4 347.25,165.3 347.33,170.2 347.42,161.6 347.50,169.8 347.58,163.4 347.67,161.3 347.75,159.4 347.83,167.0 347.92,159.1 348.00,167.1 348.08,165.2 348.17,162.2 348.25,161.8 348.33,165.6 348.42,164.5 348.50,166.4 348.58,163.9 348.67,162.2 348.75,165.6 348.83,159.9 348.92,166.6 349.00,163.9 349.08,160.1 349.17,160.4 349.25,162.6 349.33,157.7 349.42,168.2 349.50,166.8 349.58,160.0 349.67,163.2 349.75,169.1 349.83,164.8 349.92,160.1 350.00,156.3 350.08,158.0 350.17,167.3 350.25,164.4 350.33,157.7 350.42,165.7 350.50,162.1 350.58,161.0 350.67,161.5 350.75,161.7 350.83,168.7 350.92,160.0 351.00,161.8 351.08,167.5 351.17,168.1 351.25,159.8 351.33,169.9 351.42,166.6 351.50,158.0 351.58,168.9 351.67,158.0 351.75,165.1 351.83,159.0 351.92,156.9 352.00,165.6 352.08,164.2 352.17,162.5 352.25,163.4 352.33,162.4 352.42,161.9 352.50,159.2 352.58,164.7 352.67,162.8 352.75,161.9 352.83,160.9 352.92,161.8 353.00,157.7 353.08,161.7 353.17,159.4 353.25,167.0 353.33,159.5 353.42,161.2 353.50,162.8 353.58,165.4 353.67,164.2 353.75,162.8 353.83,169.9 353.92,162.6 354.00,163.8 354.08,170.8 354.17,159.7 354.25,165.9 354.33,164.2 354.42,158.3 354.50,160.6 354.58,165.4 354.67,157.8 354.75,162.0 354.83,165.8 354.92,161.8 355.00,163.5 355.08,160.4 355.17,160.5 355.25,160.6 355.33,161.4 355.42,164.7 355.50,162.9 355.58,169.2 355.67,164.4 355.75,163.5 355.83,170.1 355.92,162.2 356.00,159.9 356.08,163.1 356.17,158.9 356.25,164.3 356.33,167.1 356.42,164.7 356.50,161.2 356.58,162.1 356.67,164.2 356.75,166.5 356.83,161.2 356.92,161.1 357.00,162.8 357.08,163.2 357.17,163.7 357.25,164.1 357.33,159.9 357.42,162.0 357.50,166.0 357.58,162.0 357.67,161.8 357.75,163.5 357.83,163.8 357.92,170.5 358.00,159.8 358.08,162.9 358.17,169.2 358.25,162.6 358.33,163.7 358.42,157.6 358.50,165.7 358.58,165.4 358.67,165.2 358.75,159.3 358.83,163.7 358.92,162.2 359.00,165.3 359.08,162.4 359.17,165.0 359.25,158.0 359.33,161.3 359.42,153.6 359.50,161.9 359.58,165.0 359.67,161.5 359.75,170.2 359.83,159.1 359.92,161.2 360.00,159.3 360.08,160.7 360.17,160.8 360.25,157.5 360.33,159.2 360.42,169.3 360.50,161.6 360.58,165.6 360.67,158.3 360.75,162.2 360.83,160.4 360.92,162.0 361.00,160.9 361.08,162.0 361.17,162.8 361.25,165.5 361.33,166.7 361.42,158.3 361.50,155.9 361.58,162.1 361.67,162.8 361.75,165.2 361.83,166.4 361.92,160.6 362.00,169.8 362.08,163.7 362.17,157.0 362.25,166.1 362.33,163.9 362.42,163.9 362.50,157.7 362.58,162.0 362.67,163.6 362.75,162.5 362.83,165.4 362.92,167.3 363.00,168.2 363.08,167.3 363.17,162.7 363.25,168.9 363.33,164.1 363.42,166.1 363.50,162.4 363.58,158.6 363.67,155.7 363.75,163.9 363.83,161.1 363.92,163.3 364.00,166.4 364.08,158.3 364.17,157.5 364.25,164.3 364.33,164.7 364.42,162.6 364.50,161.8 364.58,158.2 364.67,163.3 364.75,161.1 364.83,165.0 364.92,166.8 365.00,161.8 365.08,165.0 365.17,164.3 365.25,166.0 365.33,168.8 365.42,165.9 365.50,166.1 365.58,166.4 365.67,162.4 365.75,163.8 365.83,165.0 365.92,168.0 366.00,168.2 366.08,171.5 366.17,160.3 366.25,163.8 366.33,158.2 366.42,162.2 366.50,158.5 366.58,167.9 366.67,166.6 366.75,160.5 366.83,165.2 366.92,166.6 367.00,170.0 367.08,166.9 367.17,164.6 367.25,163.9 367.33,166.3 367.42,165.3 367.50,162.7 367.58,160.2 367.67,167.8 367.75,161.9 367.83,163.4 367.92,167.0 368.00,164.2 368.08,168.2 368.17,160.7 368.25,167.0 368.33,160.0 368.42,159.4 368.50,157.9 368.58,164.8 368.67,162.2 368.75,159.8 368.83,168.4 368.92,161.2 369.00,164.1 369.08,165.3 369.17,162.9 369.25,165.7 369.33,166.5 369.42,164.1 369.50,167.9 369.58,162.5 369.67,160.9 369.75,165.2 369.83,161.2 369.92,165.7 370.00,164.1 370.08,162.9 370.17,166.4 370.25,166.3 370.33,155.8 370.42,163.4 370.50,165.0 370.58,166.1 370.67,162.7 370.75,160.7 370.83,164.9 370.92,166.8 371.00,157.6 371.08,159.5 371.17,162.6 371.25,154.7 371.33,162.5 371.42,167.3 371.50,161.0 371.58,165.0 371.67,161.6 371.75,166.0 371.83,166.7 371.92,168.9 372.00,164.8 372.08,168.1 372.17,165.9 372.25,163.0 372.33,169.5 372.42,162.6 372.50,165.1 372.58,172.7 372.67,167.5 372.75,161.8 372.83,165.6 372.92,162.7 373.00,164.1 373.08,159.6 373.17,165.3 373.25,159.4 373.33,165.9 373.42,165.9 373.50,167.5 373.58,172.1 373.67,159.1 373.75,160.6 373.83,161.3 373.92,162.7 374.00,167.6 374.08,163.5 374.17,162.7 374.25,160.9 374.33,162.5 374.42,163.2 374.50,164.3 374.58,159.9 374.67,164.4 374.75,166.6 374.83,165.8 374.92,160.5 375.00,167.4 375.08,167.4 375.17,165.7 375.25,160.6 375.33,159.8 375.42,164.8 375.50,161.3 375.58,160.2 375.67,167.7 375.75,167.8 375.83,166.9 375.92,169.1 376.00,167.8 376.08,160.9 376.17,168.6 376.25,162.2 376.33,166.2 376.42,170.0 376.50,166.2 376.58,170.0 376.67,165.0 376.75,163.5 376.83,162.4 376.92,164.3 377.00,159.1 377.08,164.6 377.17,164.4 377.25,163.0 377.33,157.3 377.42,157.6 377.50,167.2 377.58,156.1 377.67,169.4 377.75,162.4 377.83,166.0 377.92,160.0 378.00,162.7 378.08,164.1 378.17,166.8 378.25,170.5 378.33,168.1 378.42,160.0 378.50,164.9 378.58,164.3 378.67,162.7 378.75,166.8 378.83,170.2 378.92,163.3 379.00,168.6 379.08,169.6 379.17,161.3 379.25,170.8 379.33,170.6 379.42,165.9 379.50,170.6 379.58,165.7 379.67,168.8 379.75,167.1 379.83,162.0 379.92,165.8 380.00,164.4 380.08,163.3 380.17,161.1 380.25,162.3 380.33,160.8 380.42,168.7 380.50,158.3 380.58,165.2 380.67,162.9 380.75,160.7 380.83,167.4 380.92,162.3 381.00,169.0 381.08,164.3 381.17,166.1 381.25,164.5 381.33,167.1 381.42,168.1 381.50,163.4 381.58,164.9 381.67,170.9 381.75,163.0 381.83,171.0 381.92,163.6 382.00,163.1 382.08,159.3 382.17,162.1 382.25,159.1 382.33,163.1 382.42,167.3 382.50,164.8 382.58,163.0 382.67,161.5 382.75,162.7 382.83,160.1 382.92,160.7 383.00,171.5 383.08,165.8 383.17,161.9 383.25,167.3 383.33,170.0 383.42,162.9 383.50,164.6 383.58,160.8 383.67,159.7 383.75,163.2 383.83,173.1 383.92,162.5 384.00,159.6 384.08,169.8 384.17,168.6 384.25,166.6 384.33,170.0 384.42,163.9 384.50,166.0 384.58,167.7 384.67,164.0 384.75,166.6 384.83,164.2 384.92,166.6 385.00,165.6 385.08,158.4 385.17,165.4 385.25,160.3 385.33,162.2 385.42,159.5 385.50,167.1 385.58,164.0 385.67,163.8 385.75,169.2 385.83,167.4 385.92,164.3 386.00,158.1 386.08,167.3 386.17,164.2 386.25,159.9 386.33,167.5 386.42,163.0 386.50,164.8 386.58,168.1 386.67,167.0 386.75,163.0 386.83,170.0 386.92,168.9 387.00,171.4 387.08,164.9 387.17,165.8 387.25,168.6 387.33,166.6 387.42,165.6 387.50,164.8 387.58,164.1 387.67,162.9 387.75,163.0 387.83,166.5 387.92,164.1 388.00,160.4 388.08,165.3 388.17,170.7 388.25,169.7 388.33,158.4 388.42,162.3 388.50,167.8 388.58,165.4 388.67,165.4 388.75,164.7 388.83,165.1 388.92,161.8 389.00,169.1 389.08,161.7 389.17,164.7 389.25,170.3 389.33,168.8 389.42,165.2 389.50,165.2 389.58,163.2 389.67,163.5 389.75,164.4 389.83,169.7 389.92,163.8 390.00,167.1 390.08,166.7 390.17,166.6 390.25,164.3 390.33,167.7 390.42,165.8 390.50,165.6 390.58,163.7 390.67,158.1 390.75,167.7 390.83,167.8 390.92,163.6 391.00,164.7 391.08,166.2 391.17,162.0 391.25,167.6 391.33,167.7 391.42,168.1 391.50,168.4 391.58,159.0 391.67,167.1 391.75,163.8 391.83,169.0 391.92,168.8 392.00,168.0 392.08,165.1 392.17,173.3 392.25,165.2 392.33,161.9 392.42,168.6 392.50,160.5 392.58,171.8 392.67,168.7 392.75,169.8 392.83,168.9 392.92,166.7 393.00,161.0 393.08,163.4 393.17,167.3 393.25,164.7 393.33,166.6 393.42,163.1 393.50,162.8 393.58,166.4 393.67,167.9 393.75,165.4 393.83,162.2 393.92,159.9 394.00,172.2 394.08,161.6 394.17,162.5 394.25,163.0 394.33,168.4 394.42,162.9 394.50,167.2 394.58,166.4 394.67,161.6 394.75,165.9 394.83,161.3 394.92,164.9 395.00,167.9 395.08,161.5 395.17,162.4 395.25,164.0 395.33,164.8 395.42,166.5 395.50,157.8 395.58,159.3 395.67,167.0 395.75,165.0 395.83,165.4 395.92,166.1 396.00,164.8 396.08,163.9 396.17,165.7 396.25,167.6 396.33,166.5 396.42,165.4 396.50,161.9 396.58,166.1 396.67,161.5 396.75,163.1 396.83,165.8 396.92,165.7 397.00,169.0 397.08,168.3 397.17,167.0 397.25,164.3 397.33,165.3 397.42,164.6 397.50,171.1 397.58,166.9 397.67,163.2 397.75,162.6 397.83,169.5 397.92,162.5 398.00,166.6 398.08,166.0 398.17,168.9 398.25,162.5 398.33,166.9 398.42,166.1 398.50,157.2 398.58,169.9 398.67,165.8 398.75,164.7 398.83,168.3 398.92,160.8 399.00,166.1 399.08,162.2 399.17,161.4 399.25,160.2 399.33,160.0 399.42,168.2 399.50,168.3 399.58,165.8 399.67,168.9 399.75,165.6 399.83,163.8 399.92,161.9 400.00,168.0 400.08,168.2 400.17,169.7 400.25,162.8 400.33,164.5 400.42,161.0 400.50,169.3 400.58,167.8 400.67,167.2 400.75,165.4 400.83,165.0 400.92,164.3 401.00,169.1 401.08,163.4 401.17,168.4 401.25,166.5 401.33,162.2 401.42,160.7 401.50,162.9 401.58,165.4 401.67,161.2 401.75,167.6 401.83,169.3 401.92,167.3 402.00,159.9 402.08,157.7 402.17,168.4 402.25,170.4 402.33,164.2 402.42,167.2 402.50,164.6 402.58,163.4 402.67,168.8 402.75,163.7 402.83,168.3 402.92,171.2 403.00,165.1 403.08,171.7 403.17,161.2 403.25,168.5 403.33,160.5 403.42,173.5 403.50,165.6 403.58,162.9 403.67,170.9 403.75,160.4 403.83,167.0 403.92,163.0 404.00,170.1 404.08,165.2 404.17,168.4 404.25,165.4 404.33,161.8 404.42,158.3 404.50,171.4 404.58,166.3 404.67,161.7 404.75,164.5 404.83,168.8 404.92,160.5 405.00,173.0 405.08,164.7 405.17,164.3 405.25,169.8 405.33,166.2 405.42,162.1 405.50,168.5 405.58,167.0 405.67,169.2 405.75,162.4 405.83,161.7 405.92,167.6 406.00,164.0 406.08,158.3 406.17,163.5 406.25,167.6 406.33,163.0 406.42,169.7 406.50,163.8 406.58,165.1 406.67,160.0 406.75,162.8 406.83,164.8 406.92,167.4 407.00,166.1 407.08,169.0 407.17,158.2 407.25,165.5 407.33,164.9 407.42,158.1 407.50,165.3 407.58,162.9 407.67,166.9 407.75,164.3 407.83,167.1 407.92,162.4 408.00,169.7 408.08,166.8 408.17,171.4 408.25,165.0 408.33,163.7 408.42,165.9 408.50,163.9 408.58,161.9 408.67,165.5 408.75,165.2 408.83,163.2 408.92,164.1 409.00,162.2 409.08,165.9 409.17,160.9 409.25,171.1 409.33,165.5 409.42,168.6 409.50,161.4 409.58,165.8 409.67,165.0 409.75,168.7 409.83,168.3 409.92,159.9 410.00,169.3 410.08,160.4 410.17,169.9 410.25,165.2 410.33,161.4 410.42,167.8 410.50,164.1 410.58,162.1 410.67,162.9 410.75,167.0 410.83,160.8 410.92,162.5 411.00,171.6 411.08,162.8 411.17,166.7 411.25,166.9 411.33,168.6 411.42,168.4 411.50,156.9 411.58,163.8 411.67,169.4 411.75,162.8 411.83,171.5 411.92,166.3 412.00,161.3 412.08,167.3 412.17,172.0 412.25,163.2 412.33,167.3 412.42,162.4 412.50,163.5 412.58,165.8 412.67,167.1 412.75,165.1 412.83,157.3 412.92,173.4 413.00,161.8 413.08,159.2 413.17,167.3 413.25,166.1 413.33,160.6 413.42,171.2 413.50,163.1 413.58,160.7 413.67,166.8 413.75,167.6 413.83,173.4 413.92,160.3 414.00,161.1 414.08,164.5 414.17,163.9 414.25,165.2 414.33,163.0 414.42,160.2 414.50,163.9 414.58,167.8 414.67,168.1 414.75,163.2 414.83,167.2 414.92,166.8 415.00,163.8 415.08,164.2 415.17,165.6 415.25,173.4 415.33,166.0 415.42,162.4 415.50,164.9 415.58,163.5 415.67,169.3 415.75,158.1 415.83,161.7 415.92,166.3 416.00,166.8 416.08,165.5 416.17,167.9 416.25,160.9 416.33,166.7 416.42,161.6 416.50,161.1 416.58,167.1 416.67,162.7 416.75,164.2 416.83,167.5 416.92,161.9 417.00,167.5 417.08,173.0 417.17,164.8 417.25,168.7 417.33,168.0 417.42,161.2 417.50,160.8 417.58,165.5 417.67,158.2 417.75,165.6 417.83,166.3 417.92,167.0 418.00,167.0 418.08,170.0 418.17,164.3 418.25,170.0 418.33,167.2 418.42,167.2 418.50,164.9 418.58,168.7 418.67,162.9 418.75,167.9 418.83,169.2 418.92,163.2 419.00,162.2 419.08,162.9 419.17,165.3 419.25,166.7 419.33,168.4 419.42,171.9 419.50,171.0 419.58,166.4 419.67,164.2 419.75,161.4 419.83,168.3 419.92,167.2 420.00,164.5 420.08,164.9 420.17,165.1 420.25,156.7 420.33,165.3 420.42,166.6 420.50,165.0 420.58,161.9 420.67,165.6 420.75,167.1 420.83,171.6 420.92,169.1 421.00,167.5 421.08,165.3 421.17,160.9 421.25,163.9 421.33,160.8 421.42,165.1 421.50,169.1 421.58,169.0 421.67,168.5 421.75,165.5 421.83,168.8 421.92,164.5 422.00,158.8 422.08,165.9 422.17,165.6 422.25,159.6 422.33,163.7 422.42,157.2 422.50,163.8 422.58,169.6 422.67,163.3 422.75,169.9 422.83,166.2 422.92,163.0 423.00,159.4 423.08,168.0 423.17,167.7 423.25,160.4 423.33,164.0 423.42,169.2 423.50,162.9 423.58,166.8 423.67,158.9 423.75,162.3 423.83,167.9 423.92,161.4 424.00,160.6 424.08,160.0 424.17,164.2 424.25,160.1 424.33,165.1 424.42,167.3 424.50,170.6 424.58,164.1 424.67,170.9 424.75,167.3 424.83,164.7 424.92,167.2 425.00,166.2 425.08,170.5 425.17,168.0 425.25,165.1 425.33,168.3 425.42,166.2 425.50,166.0 425.58,166.3 425.67,171.6 425.75,161.4 425.83,165.2 425.92,161.8 426.00,168.4 426.08,169.2 426.17,170.0 426.25,164.3 426.33,165.6 426.42,168.1 426.50,166.1 426.58,166.4 426.67,166.1 426.75,166.4 426.83,165.1 426.92,167.0 427.00,160.5 427.08,164.0 427.17,161.0 427.25,165.2 427.33,163.0 427.42,167.3 427.50,169.7 427.58,161.3 427.67,162.8 427.75,166.6 427.83,170.3 427.92,168.1 428.00,167.0 428.08,165.3 428.17,164.0 428.25,166.8 428.33,167.2 428.42,166.0 428.50,163.5 428.58,160.0 428.67,162.6 428.75,164.2 428.83,161.5 428.92,166.6 429.00,160.7 429.08,164.4 429.17,166.6 429.25,168.2 429.33,166.3 429.42,169.5 429.50,163.5 429.58,162.8 429.67,169.1 429.75,162.5 429.83,164.9 429.92,159.6 430.00,169.2 430.08,167.9 430.17,162.9 430.25,159.6 430.33,166.3 430.42,166.4 430.50,169.4 430.58,171.7 430.67,166.2 430.75,164.7 430.83,164.6 430.92,164.4 431.00,160.8 431.08,162.4 431.17,165.1 431.25,159.9 431.33,161.0 431.42,169.5 431.50,163.2 431.58,168.1 431.67,169.1 431.75,165.5 431.83,168.2 431.92,164.8 432.00,162.5 432.08,165.1 432.17,165.7 432.25,165.8 432.33,165.7 432.42,164.1 432.50,169.0 432.58,164.8 432.67,164.0 432.75,168.6 432.83,157.6 432.92,165.4 433.00,170.4 433.08,165.7 433.17,170.2 433.25,164.6 433.33,163.7 433.42,164.9 433.50,161.9 433.58,164.3 433.67,164.0 433.75,168.2 433.83,166.8 433.92,164.8 434.00,163.0 434.08,173.4 434.17,164.8 434.25,170.2 434.33,161.5 434.42,163.0 434.50,169.6 434.58,161.8 434.67,161.9 434.75,165.3 434.83,163.0 434.92,164.5 435.00,166.0 435.08,168.4 435.17,166.1 435.25,166.5 435.33,169.9 435.42,170.2 435.50,164.3 435.58,159.3 435.67,162.1 435.75,169.1 435.83,163.9 435.92,163.1 436.00,164.0 436.08,170.8 436.17,165.7 436.25,164.2 436.33,163.1 436.42,161.8 436.50,173.3 436.58,165.2 436.67,166.0 436.75,164.4 436.83,169.1 436.92,162.1 437.00,159.1 437.08,163.6 437.17,166.6 437.25,172.6 437.33,156.9 437.42,162.6 437.50,164.7 437.58,162.9 437.67,162.9 437.75,165.8 437.83,166.5 437.92,163.3 438.00,169.2 438.08,165.2 438.17,165.9 438.25,163.8 438.33,166.7 438.42,166.9 438.50,167.7 438.58,162.8 438.67,167.6 438.75,163.6 438.83,165.8 438.92,168.0 439.00,170.6 439.08,164.0 439.17,161.8 439.25,166.0 439.33,169.6 439.42,164.4 439.50,173.3 439.58,159.2 439.67,170.6 439.75,169.4 439.83,169.2 439.92,162.7 440.00,170.1 440.08,169.4 440.17,169.7 440.25,164.8 440.33,164.7 440.42,169.9 440.50,166.7 440.58,164.3 440.67,162.7 440.75,166.4 440.83,161.0 440.92,167.5 441.00,166.0 441.08,160.3 441.17,167.0 441.25,169.6 441.33,166.4 441.42,161.1 441.50,163.5 441.58,168.3 441.67,156.6 441.75,164.3 441.83,169.4 441.92,164.6 442.00,163.6 442.08,168.2 442.17,170.9 442.25,166.8 442.33,161.0 442.42,160.1 442.50,164.7 442.58,159.4 442.67,165.2 442.75,168.5 442.83,156.6 442.92,164.9 443.00,166.6 443.08,163.7 443.17,166.8 443.25,167.2 443.33,169.0 443.42,173.3 443.50,166.6 443.58,162.5 443.67,162.0 443.75,161.3 443.83,167.9 443.92,166.6 444.00,167.0 444.08,166.1 444.17,170.8 444.25,169.2 444.33,168.9 444.42,163.2 444.50,164.4 444.58,161.1 444.67,163.3 444.75,165.8 444.83,161.4 444.92,163.3 445.00,172.3 445.08,164.9 445.17,160.4 445.25,161.3 445.33,165.2 445.42,168.3 445.50,165.2 445.58,168.4 445.67,166.5 445.75,161.7 445.83,168.9 445.92,163.9 446.00,171.8 446.08,163.5 446.17,165.0 446.25,163.6 446.33,164.6 446.42,167.0 446.50,164.8 446.58,169.5 446.67,166.9 446.75,170.8 446.83,165.7 446.92,169.8 447.00,169.5 447.08,165.0 447.17,173.3 447.25,170.6 447.33,167.3 447.42,164.8 447.50,165.2 447.58,164.9 447.67,166.5 447.75,161.7 447.83,165.7 447.92,160.4 448.00,171.1 448.08,168.1 448.17,171.1 448.25,173.3 448.33,167.1 448.42,172.3 448.50,166.8 448.58,167.7 448.67,162.4 448.75,165.8 448.83,170.4 448.92,167.2 449.00,164.3 449.08,165.6 449.17,163.1 449.25,163.3 449.33,160.7 449.42,169.3 449.50,169.2 449.58,165.2 449.67,161.1 449.75,164.8 449.83,172.3 449.92,161.1 450.00,163.9 450.08,164.0 450.17,168.2 450.25,161.3 450.33,166.4 450.42,162.8 450.50,164.4 450.58,161.5 450.67,167.3 450.75,163.9 450.83,163.6 450.92,169.2 451.00,166.7 451.08,173.3 451.17,167.0 451.25,165.8 451.33,166.0 451.42,173.3 451.50,169.8 451.58,164.6 451.67,166.6 451.75,163.8 451.83,167.8 451.92,163.9 452.00,163.7 452.08,167.1 452.17,170.1 452.25,168.4 452.33,168.1 452.42,165.7 452.50,157.5 452.58,165.0 452.67,162.8 452.75,167.4 452.83,171.4 452.92,168.1 453.00,158.5 453.08,165.6 453.17,164.8 453.25,168.0 453.33,165.3 453.42,159.1 453.50,162.5 453.58,164.4 453.67,158.6 453.75,165.1 453.83,164.6 453.92,165.0 454.00,165.1 454.08,163.4 454.17,165.1 454.25,165.5 454.33,168.7 454.42,162.3 454.50,157.9 454.58,173.3 454.67,168.0 454.75,165.6 454.83,172.6 454.92,161.6 455.00,162.8 455.08,164.0 455.17,167.1 455.25,163.9 455.33,168.1 455.42,164.3 455.50,169.8 455.58,167.0 455.67,159.9 455.75,165.3 455.83,161.6 455.92,165.0 456.00,165.4 456.08,173.0 456.17,164.6 456.25,160.0 456.33,165.8 456.42,161.5 456.50,171.6 456.58,167.8 456.67,170.7 456.75,160.3 456.83,161.9 456.92,166.4 457.00,160.7 457.08,162.1 457.17,162.8 457.25,164.9 457.33,160.2 457.42,158.4 457.50,170.2 457.58,163.5 457.67,164.8 457.75,167.4 457.83,166.9 457.92,163.2 458.00,163.9 458.08,170.8 458.17,169.6 458.25,167.9 458.33,168.8 458.42,159.0 458.50,165.9 458.58,164.5 458.67,158.9 458.75,166.6 458.83,167.6 458.92,166.3 459.00,159.3 459.08,164.7 459.17,166.2 459.25,164.6 459.33,166.4 459.42,167.1 459.50,170.3 459.58,166.2 459.67,173.3 459.75,166.2 459.83,166.4 459.92,168.1 460.00,165.2 460.08,164.4 460.17,169.7 460.25,158.2 460.33,159.5 460.42,172.5 460.50,168.0 460.58,167.3 460.67,161.6 460.75,165.1 460.83,162.3 460.92,164.5 461.00,162.0 461.08,169.4 461.17,167.7 461.25,166.3 461.33,166.8 461.42,165.1 461.50,161.6 461.58,171.3 461.67,167.7 461.75,164.9 461.83,167.5 461.92,169.8 462.00,169.5 462.08,167.8 462.17,168.3 462.25,164.7 462.33,170.1 462.42,168.7 462.50,168.8 462.58,161.1 462.67,167.7 462.75,167.8 462.83,168.2 462.92,156.7 463.00,159.2 463.08,166.5 463.17,162.3 463.25,166.8 463.33,165.2 463.42,168.4 463.50,163.6 463.58,161.8 463.67,167.2 463.75,164.5 463.83,161.4 463.92,158.7 464.00,173.2 464.08,164.2 464.17,164.6 464.25,158.7 464.33,161.9 464.42,164.9 464.50,166.5 464.58,168.1 464.67,162.8 464.75,167.0 464.83,169.3 464.92,163.6 465.00,165.2 465.08,159.2 465.17,162.6 465.25,160.7 465.33,167.7 465.42,164.8 465.50,170.8 465.58,166.0 465.67,168.1 465.75,167.1 465.83,166.1 465.92,161.7 466.00,171.0 466.08,165.1 466.17,159.1 466.25,163.4 466.33,161.6 466.42,169.4 466.50,169.0 466.58,170.6 466.67,168.2 466.75,163.2 466.83,158.9 466.92,162.2 467.00,166.8 467.08,156.6 467.17,163.3 467.25,168.3 467.33,162.5 467.42,165.0 467.50,162.3 467.58,171.4 467.67,172.1 467.75,161.9 467.83,162.5 467.92,165.9 468.00,165.7 468.08,166.9 468.17,167.7 468.25,168.9 468.33,169.7 468.42,172.1 468.50,166.2 468.58,164.0 468.67,165.4 468.75,173.2 468.83,168.6 468.92,168.2 469.00,170.4 469.08,170.0 469.17,173.2 469.25,163.0 469.33,162.7 469.42,168.4 469.50,168.6 469.58,164.4 469.67,160.2 469.75,164.8 469.83,163.4 469.92,165.4 470.00,169.5 470.08,168.2 470.17,161.8 470.25,163.1 470.33,166.4 470.42,169.6 470.50,165.5 470.58,166.4 470.67,160.4 470.75,164.0 470.83,162.9 470.92,166.3 471.00,164.7 471.08,162.6 471.17,161.8 471.25,166.3 471.33,163.3 471.42,169.4 471.50,166.0 471.58,164.6 471.67,168.6 471.75,157.7 471.83,168.6 471.92,163.0 472.00,168.0 472.08,158.2 472.17,162.2 472.25,158.1 472.33,165.6 472.42,167.1 472.50,160.6 472.58,171.5 472.67,165.3 472.75,161.5 472.83,172.1 472.92,164.0 473.00,170.4 473.08,156.6 473.17,172.8 473.25,166.0 473.33,165.3 473.42,166.5 473.50,161.4 473.58,168.5 473.67,166.9 473.75,162.5 473.83,163.4 473.92,161.3 474.00,166.6 474.08,168.2 474.17,165.8 474.25,164.6 474.33,163.5 474.42,167.8 474.50,170.3 474.58,164.8 474.67,162.4 474.75,173.2 474.83,160.0 474.92,166.2 475.00,165.0 475.08,169.8 475.17,164.8 475.25,159.6 475.33,161.4 475.42,165.7 475.50,165.2 475.58,163.0 475.67,163.4 475.75,159.9 475.83,160.2 475.92,163.1 476.00,162.9 476.08,164.8 476.17,161.3 476.25,170.7 476.33,159.3 476.42,168.3 476.50,167.2 476.58,170.8 476.67,170.1 476.75,160.8 476.83,166.6 476.92,168.0 477.00,168.6 477.08,167.1 477.17,163.4 477.25,169.8 477.33,165.0 477.42,163.7 477.50,166.0 477.58,163.9 477.67,163.1 477.75,165.8 477.83,173.2 477.92,166.5 478.00,165.7 478.08,163.9 478.17,166.6 478.25,161.4 478.33,167.1 478.42,166.4 478.50,165.7 478.58,167.1 478.67,157.4 478.75,167.7 478.83,167.3 478.92,167.3 479.00,165.4 479.08,168.4 479.17,164.8 479.25,169.8 479.33,165.1 479.42,169.8 479.50,166.3 479.58,165.3 479.67,162.0 479.75,167.6 479.83,166.7 479.92,165.6 480.00,166.8 480.08,165.9 480.17,162.3 480.25,161.4 480.33,167.6 480.42,166.1 480.50,170.6 480.58,172.3 480.67,168.3 480.75,167.6 480.83,167.4 480.92,165.8 481.00,163.3 481.08,156.6 481.17,168.1 481.25,167.5 481.33,165.6 481.42,165.9 481.50,168.8 481.58,168.6 481.67,166.1 481.75,164.6 481.83,167.5 481.92,168.2 482.00,173.0 482.08,162.4 482.17,167.1 482.25,162.5 482.33,163.9 482.42,173.2 482.50,164.0 482.58,165.0 482.67,163.5 482.75,168.4 482.83,164.0 482.92,159.8 483.00,165.9 483.08,168.3 483.17,165.4 483.25,166.0 483.33,163.1 483.42,162.2 483.50,165.4 483.58,161.5 483.67,163.9 483.75,162.0 483.83,164.6 483.92,168.1 484.00,165.3 484.08,169.3 484.17,166.6 484.25,164.9 484.33,162.3 484.42,165.7 484.50,161.4 484.58,167.9 484.67,160.8 484.75,160.6 484.83,157.9 484.92,159.6 485.00,165.7 485.08,162.7 485.17,163.8 485.25,167.4 485.33,157.8 485.42,164.5 485.50,166.5 485.58,168.8 485.67,165.8 485.75,163.0 485.83,168.5 485.92,168.5 486.00,172.9 486.08,172.7 486.17,164.6 486.25,170.0 486.33,166.0 486.42,161.9 486.50,167.7 486.58,169.8 486.67,157.3 486.75,169.9 486.83,162.5 486.92,170.8 487.00,166.1 487.08,165.8 487.17,170.1 487.25,164.2 487.33,172.4 487.42,162.0 487.50,163.3 487.58,161.6 487.67,167.1 487.75,165.1 487.83,168.0 487.92,169.0 488.00,168.0 488.08,169.0 488.17,169.0 488.25,165.0 488.33,162.7 488.42,161.9 488.50,167.8 488.58,163.4 488.67,161.9 488.75,162.4 488.83,164.5 488.92,166.0 489.00,164.3 489.08,161.7 489.17,167.0 489.25,157.6 489.33,164.1 489.42,168.7 489.50,166.0 489.58,169.2 489.67,165.5 489.75,167.1 489.83,165.3 489.92,163.6 490.00,166.4 490.08,168.4 490.17,158.4 490.25,162.3 490.33,157.9 490.42,161.9 490.50,160.7 490.58,163.4 490.67,164.0 490.75,168.2 490.83,169.2 490.92,162.2 491.00,163.3 491.08,167.1 491.17,162.8 491.25,163.6 491.33,158.6 491.42,167.4 491.50,165.8 491.58,161.7 491.67,160.4 491.75,161.3 491.83,166.4 491.92,163.3 492.00,160.8 492.08,163.8 492.17,167.8 492.25,169.2 492.33,169.5 492.42,160.9 492.50,165.9 492.58,166.0 492.67,167.3 492.75,167.0 492.83,161.8 492.92,162.5 493.00,163.7 493.08,167.4 493.17,163.3 493.25,162.4 493.33,168.5 493.42,170.0 493.50,162.0 493.58,164.6 493.67,168.9 493.75,163.7 493.83,168.2 493.92,160.2 494.00,164.3 494.08,167.3 494.17,170.2 494.25,168.3 494.33,159.6 494.42,159.8 494.50,162.1 494.58,167.8 494.67,167.5 494.75,168.7 494.83,167.4 494.92,163.1 495.00,163.7 495.08,162.0 495.17,167.8 495.25,160.8 495.33,155.5 495.42,165.9 495.50,169.2 495.58,162.4 495.67,166.4 495.75,161.6 495.83,168.5 495.92,163.8 496.00,164.0 496.08,161.8 496.17,163.0 496.25,162.8 496.33,163.0 496.42,168.9 496.50,161.7 496.58,165.8 496.67,167.8 496.75,161.2 496.83,157.8 496.92,166.6 497.00,159.4 497.08,162.4 497.17,164.7 497.25,165.9 497.33,164.1 497.42,162.6 497.50,168.4 497.58,165.8 497.67,171.5 497.75,162.0 497.83,164.7 497.92,164.9 498.00,166.8 498.08,165.8 498.17,165.1 498.25,171.6 498.33,164.5 498.42,166.5 498.50,165.7 498.58,163.0 498.67,167.5 498.75,158.8 498.83,168.9 498.92,159.8 499.00,164.0 499.08,165.4 499.17,163.4 499.25,163.3 499.33,169.1 499.42,173.1 499.50,168.5 499.58,165.6 499.67,162.9 499.75,155.4 499.83,169.1 499.92,168.0 500.00,169.5 500.08,168.4 500.17,169.5 500.25,163.0 500.33,162.4 500.42,161.6 500.50,164.9 500.58,164.4 500.67,165.4 500.75,161.0 500.83,165.6 500.92,167.7 501.00,165.3 501.08,156.5 501.17,164.9 501.25,163.8 501.33,168.1 501.42,164.5 501.50,167.1 501.58,163.7 501.67,166.1 501.75,168.3 501.83,164.1 501.92,166.0 502.00,165.6 502.08,167.1 502.17,164.6 502.25,166.6 502.33,158.9 502.42,164.2 502.50,167.8 502.58,167.2 502.67,161.8 502.75,162.3 502.83,166.3 502.92,166.2 503.00,166.5 503.08,165.2 503.17,165.4 503.25,168.5 503.33,161.9 503.42,160.4 503.50,168.4 503.58,162.4 503.67,167.3 503.75,162.7 503.83,161.3 503.92,170.1 504.00,164.8 504.08,160.3 504.17,164.2 504.25,164.4 504.33,164.3 504.42,165.5 504.50,161.1 504.58,164.0 504.67,166.5 504.75,167.0 504.83,165.2 504.92,162.3 505.00,158.4 505.08,169.8 505.17,161.2 505.25,163.4 505.33,165.0 505.42,166.4 505.50,164.9 505.58,162.2 505.67,164.8 505.75,171.8 505.83,173.1 505.92,164.2 506.00,167.1 506.08,159.1 506.17,165.7 506.25,167.3 506.33,164.0 506.42,171.0 506.50,167.9 506.58,167.0 506.67,156.5 506.75,162.9 506.83,167.3 506.92,163.3 507.00,159.1 507.08,163.1 507.17,170.0 507.25,167.2 507.33,167.9 507.42,165.6 507.50,170.3 507.58,156.5 507.67,161.0 507.75,171.4 507.83,168.5 507.92,165.8 508.00,163.9 508.08,159.0 508.17,163.6 508.25,164.5 508.33,161.9 508.42,169.6 508.50,168.4 508.58,164.1 508.67,168.0 508.75,164.9 508.83,165.9 508.92,163.4 509.00,173.0 509.08,160.0 509.17,164.5 509.25,168.4 509.33,168.4 509.42,159.6 509.50,161.9 509.58,164.7 509.67,162.4 509.75,157.0 509.83,164.2 509.92,164.5 510.00,168.7 510.08,159.4 510.17,168.5 510.25,164.3 510.33,167.0 510.42,163.9 510.50,172.8 510.58,153.0 510.67,169.0 510.75,163.5 510.83,164.3 510.92,169.7 511.00,164.4 511.08,165.8 511.17,169.9 511.25,163.1 511.33,171.8 511.42,169.2 511.50,164.3 511.58,165.8 511.67,162.7 511.75,166.0 511.83,168.0 511.92,168.4 512.00,165.8 512.08,163.3 512.17,162.9 512.25,160.5 512.33,164.1 512.42,167.1 512.50,163.1 512.58,162.8 512.67,161.5 512.75,167.0 512.83,164.2 512.92,159.7 513.00,168.7 513.08,168.6 513.17,165.1 513.25,163.9 513.33,164.9 513.42,162.0 513.50,168.4 513.58,169.6 513.67,168.5 513.75,165.8 513.83,165.8 513.92,166.8 514.00,170.7 514.08,162.4 514.17,165.0 514.25,162.8 514.33,161.0 514.42,166.2 514.50,168.8 514.58,161.5 514.67,168.3 514.75,167.3 514.83,166.6 514.92,169.6 515.00,162.9 515.08,170.4 515.17,163.9 515.25,166.8 515.33,159.9 515.42,168.3 515.50,162.5 515.58,163.2 515.67,161.6 515.75,165.7 515.83,169.4 515.92,166.8 516.00,163.9 516.08,162.5 516.17,161.6 516.25,163.9 516.33,159.7 516.42,163.8 516.50,168.6 516.58,164.8 516.67,164.5 516.75,163.0 516.83,167.4 516.92,167.1 517.00,169.7 517.08,162.7 517.17,161.3 517.25,163.0 517.33,160.9 517.42,164.8 517.50,163.5 517.58,162.1 517.67,164.8 517.75,168.3 517.83,167.3 517.92,162.9 518.00,165.1 518.08,166.0 518.17,167.1 518.25,161.0 518.33,160.7 518.42,166.1 518.50,161.7 518.58,163.7 518.67,164.1 518.75,168.0 518.83,163.4 518.92,165.5 519.00,164.2 519.08,163.1 519.17,167.8 519.25,163.4 519.33,166.5 519.42,165.9 519.50,158.8 519.58,159.5 519.67,156.5 519.75,165.9 519.83,165.8 519.92,163.2 520.00,163.2 520.08,163.9 520.17,162.8 520.25,164.8 520.33,164.8 520.42,162.0 520.50,169.6 520.58,168.3 520.67,163.6 520.75,172.1 520.83,173.0 520.92,169.0 521.00,168.9 521.08,163.0 521.17,163.9 521.25,159.7 521.33,163.6 521.42,168.2 521.50,163.6 521.58,159.4 521.67,170.3 521.75,171.5 521.83,170.0 521.92,159.9 522.00,167.7 522.08,162.2 522.17,164.5 522.25,167.3 522.33,170.0 522.42,162.9 522.50,163.8 522.58,160.8 522.67,165.0 522.75,161.7 522.83,163.3 522.92,167.5 523.00,164.9 523.08,165.4 523.17,165.9 523.25,167.6 523.33,169.6 523.42,161.1 523.50,159.6 523.58,166.7 523.67,167.3 523.75,169.6 523.83,167.6 523.92,170.7 524.00,162.9 524.08,162.9 524.17,168.3 524.25,162.0 524.33,162.7 524.42,166.3 524.50,164.1 524.58,168.1 524.67,163.7 524.75,171.0 524.83,161.6 524.92,167.3 525.00,159.7 525.08,169.7 525.17,163.1 525.25,167.5 525.33,156.4 525.42,162.5 525.50,170.5 525.58,165.6 525.67,165.3 525.75,167.9 525.83,173.0 525.92,161.4 526.00,164.7 526.08,163.5 526.17,167.3 526.25,162.7 526.33,159.8 526.42,160.0 526.50,167.2 526.58,165.7 526.67,167.9 526.75,159.7 526.83,162.0 526.92,163.2 527.00,167.8 527.08,166.5 527.17,164.5 527.25,161.7 527.33,165.7 527.42,163.4 527.50,168.0 527.58,170.8 527.67,165.4 527.75,161.3 527.83,172.9 527.92,167.1 528.00,166.8 528.08,165.4 528.17,165.6 528.25,165.3 528.33,165.9 528.42,160.1 528.50,162.7 528.58,164.7 528.67,165.5 528.75,165.7 528.83,166.5 528.92,159.0 529.00,161.8 529.08,162.8 529.17,165.5 529.25,164.4 529.33,171.6 529.42,163.8 529.50,164.2 529.58,159.9 529.67,171.1 529.75,165.3 529.83,164.7 529.92,162.9 530.00,165.3 530.08,163.9 530.17,169.1 530.25,162.4 530.33,159.6 530.42,163.3 530.50,167.0 530.58,166.2 530.67,168.3 530.75,166.9 530.83,167.0 530.92,153.4 531.00,168.1 531.08,166.7 531.17,166.2 531.25,159.7 531.33,163.5 531.42,162.8 531.50,159.0 531.58,169.4 531.67,169.9 531.75,168.7 531.83,167.0 531.92,170.0 532.00,159.5 532.08,169.3 532.17,158.3 532.25,165.6 532.33,165.4 532.42,166.7 532.50,167.2 532.58,167.4 532.67,162.7 532.75,162.8 532.83,162.3 532.92,165.4 533.00,163.9 533.08,153.8 533.17,168.2 533.25,161.2 533.33,163.4 533.42,162.5 533.50,162.5 533.58,166.9 533.67,162.7 533.75,160.2 533.83,162.8 533.92,161.6 534.00,159.9 534.08,168.0 534.17,168.8 534.25,160.2 534.33,170.2 534.42,171.1 534.50,160.4 534.58,166.4 534.67,164.1 534.75,167.7 534.83,156.4 534.92,167.0 535.00,163.8 535.08,166.6 535.17,167.9 535.25,157.2 535.33,164.8 535.42,165.0 535.50,167.0 535.58,168.7 535.67,167.5 535.75,162.0 535.83,167.3 535.92,162.5 536.00,167.5 536.08,164.4 536.17,164.4 536.25,165.4 536.33,159.7 536.42,163.9 536.50,161.0 536.58,168.1 536.67,169.2 536.75,160.2 536.83,157.6 536.92,165.8 537.00,163.1 537.08,161.9 537.17,172.5 537.25,163.6 537.33,161.6 537.42,164.1 537.50,165.9 537.58,170.2 537.67,166.0 537.75,160.8 537.83,163.4 537.92,171.1 538.00,159.2 538.08,164.8 538.17,168.9 538.25,165.9 538.33,164.3 538.42,162.1 538.50,165.5 538.58,166.7 538.67,165.7 538.75,168.4 538.83,165.7 538.92,169.3 539.00,165.5 539.08,168.0 539.17,158.8 539.25,170.8 539.33,169.2 539.42,167.3 539.50,161.7 539.58,165.6" stroke="#14aa6e" stroke-width="0.7" fill="none" stroke-linejoin="round"/>
<path d="M9.0,284.5H539.6M57.5,284.5V257.8M123.5,284.5V220.0M138.0,284.5V254.4M139.1,284.5V264.0M148.4,284.5V198.8M147.9,284.5V270.0M163.2,284.5V279.2M184.4,284.5V271.0M188.5,284.5V261.0M199.4,284.5V277.2M220.6,284.5V265.2M225.2,284.5V272.0M242.2,284.5V277.2M263.2,284.5V276.2M285.4,284.5V269.4M290.2,284.5V275.4M307.4,284.5V272.0M322.4,284.5V274.0M337.6,284.5V273.0M344.6,284.5V273.0M370.0,284.5V274.6" stroke="#fa6068" stroke-width="1.1" fill="none"/>
<polyline points="9.00,361.2 9.08,359.3 9.17,357.7 9.25,344.6 9.33,360.5 9.42,345.7 9.50,363.3 9.58,361.6 9.67,362.9 9.75,362.9 9.83,359.8 9.92,355.0 10.00,356.3 10.08,366.9 10.17,354.8 10.25,356.8 10.33,353.9 10.42,355.2 10.50,356.4 10.58,359.7 10.67,356.5 10.75,356.1 10.83,354.6 10.92,358.7 11.00,350.4 11.08,358.5 11.17,365.8 11.25,353.8 11.33,358.0 11.42,372.2 11.50,352.5 11.58,348.9 11.67,355.8 11.75,368.8 11.83,359.1 11.92,351.3 12.00,361.6 12.08,358.4 12.17,354.9 12.25,347.1 12.33,364.3 12.42,353.4 12.50,360.1 12.58,358.9 12.67,369.3 12.75,365.2 12.83,351.7 12.92,356.9 13.00,364.5 13.08,350.7 13.17,356.2 13.25,359.8 13.33,349.1 13.42,351.3 13.50,348.6 13.58,360.2 13.67,355.3 13.75,363.9 13.83,359.2 13.92,361.9 14.00,358.1 14.08,362.9 14.17,358.0 14.25,352.9 14.33,365.5 14.42,364.3 14.50,371.8 14.58,357.8 14.67,355.3 14.75,350.2 14.83,343.6 14.92,351.1 15.00,361.5 15.08,353.5 15.17,343.6 15.25,362.2 15.33,355.3 15.42,356.6 15.50,356.2 15.58,357.9 15.67,361.5 15.75,348.7 15.83,357.4 15.92,355.8 16.00,365.4 16.08,352.8 16.17,368.3 16.25,362.3 16.33,368.2 16.42,354.7 16.50,363.5 16.58,360.9 16.67,350.2 16.75,357.3 16.83,356.2 16.92,353.3 17.00,354.4 17.08,350.5 17.17,356.2 17.25,360.9 17.33,354.4 17.42,349.9 17.50,365.0 17.58,356.8 17.67,351.3 17.75,357.6 17.83,355.8 17.92,362.5 18.00,355.9 18.08,359.1 18.17,350.5 18.25,349.3 18.33,356.5 18.42,369.7 18.50,359.6 18.58,369.7 18.67,361.1 18.75,361.0 18.83,354.9 18.92,358.1 19.00,368.5 19.08,364.9 19.17,354.4 19.25,355.2 19.33,365.6 19.42,354.8 19.50,363.0 19.58,352.4 19.67,361.2 19.75,366.4 19.83,362.3 19.92,358.8 20.00,358.1 20.08,349.5 20.17,357.0 20.25,363.9 20.33,363.7 20.42,359.3 20.50,349.6 20.58,353.8 20.67,358.4 20.75,356.9 20.83,348.7 20.92,360.4 21.00,370.3 21.08,338.1 21.17,356.7 21.25,365.6 21.33,353.7 21.42,353.7 21.50,357.0 21.58,359.2 21.67,353.5 21.75,361.5 21.83,344.7 21.92,359.4 22.00,357.7 22.08,354.6 22.17,357.7 22.25,355.6 22.33,363.0 22.42,352.5 22.50,354.9 22.58,347.0 22.67,348.5 22.75,353.5 22.83,345.8 22.92,349.9 23.00,347.0 23.08,351.8 23.17,355.3 23.25,360.0 23.33,343.2 23.42,353.2 23.50,359.3 23.58,362.2 23.67,362.3 23.75,345.8 23.83,351.0 23.92,357.2 24.00,359.3 24.08,355.4 24.17,355.3 24.25,355.0 24.33,349.1 24.42,354.4 24.50,358.1 24.58,351.4 24.67,360.1 24.75,338.1 24.83,351.2 24.92,362.9 25.00,358.1 25.08,361.3 25.17,353.7 25.25,346.0 25.33,349.8 25.42,361.6 25.50,342.0 25.58,334.5 25.67,342.7 25.75,349.5 25.83,350.1 25.92,355.8 26.00,347.6 26.08,362.3 26.17,356.1 26.25,349.5 26.33,346.5 26.42,343.5 26.50,352.8 26.58,363.6 26.67,351.1 26.75,346.0 26.83,351.6 26.92,348.9 27.00,346.6 27.08,340.8 27.17,351.4 27.25,360.3 27.33,358.7 27.42,357.3 27.50,352.7 27.58,354.2 27.67,357.3 27.75,351.1 27.83,353.0 27.92,349.0 28.00,357.8 28.08,345.8 28.17,355.1 28.25,356.1 28.33,355.9 28.42,355.1 28.50,348.3 28.58,347.6 28.67,348.5 28.75,348.6 28.83,344.2 28.92,348.1 29.00,347.0 29.08,342.5 29.17,352.7 29.25,345.4 29.33,351.9 29.42,359.0 29.50,360.2 29.58,350.4 29.67,356.2 29.75,351.7 29.83,364.0 29.92,359.7 30.00,356.6 30.08,349.3 30.17,348.8 30.25,353.5 30.33,350.2 30.42,349.0 30.50,354.6 30.58,343.4 30.67,339.0 30.75,344.8 30.83,344.1 30.92,350.4 31.00,345.9 31.08,349.9 31.17,339.3 31.25,359.7 31.33,353.5 31.42,346.3 31.50,353.2 31.58,358.6 31.67,356.4 31.75,351.1 31.83,355.3 31.92,356.9 32.00,344.8 32.08,343.5 32.17,348.5 32.25,357.8 32.33,360.7 32.42,353.0 32.50,361.0 32.58,358.2 32.67,352.0 32.75,348.1 32.83,348.8 32.92,353.1 33.00,360.9 33.08,357.7 33.17,345.2 33.25,345.7 33.33,357.7 33.42,354.2 33.50,347.6 33.58,357.2 33.67,361.3 33.75,358.0 33.83,354.1 33.92,361.3 34.00,351.3 34.08,344.0 34.17,348.3 34.25,355.1 34.33,366.3 34.42,353.7 34.50,357.5 34.58,356.8 34.67,359.7 34.75,361.2 34.83,358.3 34.92,353.9 35.00,351.5 35.08,348.6 35.17,339.4 35.25,354.2 35.33,349.9 35.42,355.0 35.50,354.3 35.58,349.0 35.67,352.2 35.75,357.6 35.83,356.2 35.92,350.2 36.00,351.0 36.08,358.8 36.17,356.9 36.25,357.4 36.33,354.7 36.42,360.0 36.50,356.3 36.58,369.7 36.67,353.2 36.75,351.9 36.83,365.7 36.92,355.7 37.00,351.7 37.08,358.8 37.17,342.9 37.25,359.0 37.33,356.6 37.42,358.1 37.50,352.0 37.58,364.4 37.67,358.6 37.75,356.8 37.83,359.0 37.92,352.2 38.00,356.3 38.08,348.4 38.17,350.8 38.25,359.0 38.33,358.1 38.42,361.8 38.50,353.7 38.58,357.0 38.67,353.7 38.75,359.3 38.83,362.4 38.92,364.2 39.00,361.3 39.08,353.5 39.17,359.4 39.25,352.2 39.33,347.2 39.42,359.4 39.50,359.0 39.58,362.9 39.67,363.4 39.75,351.6 39.83,353.5 39.92,358.8 40.00,359.4 40.08,361.4 40.17,351.5 40.25,357.7 40.33,363.0 40.42,370.3 40.50,352.1 40.58,368.9 40.67,357.9 40.75,351.3 40.83,367.4 40.92,353.6 41.00,353.1 41.08,364.1 41.17,366.1 41.25,360.5 41.33,356.0 41.42,351.6 41.50,361.0 41.58,346.9 41.67,352.1 41.75,366.7 41.83,364.3 41.92,367.8 42.00,363.2 42.08,354.3 42.17,363.7 42.25,350.5 42.33,365.1 42.42,369.1 42.50,355.5 42.58,367.3 42.67,361.6 42.75,360.6 42.83,350.1 42.92,360.8 43.00,366.8 43.08,351.9 43.17,359.1 43.25,357.9 43.33,352.6 43.42,368.2 43.50,362.3 43.58,362.6 43.67,368.1 43.75,358.1 43.83,376.8 43.92,360.0 44.00,356.0 44.08,366.4 44.17,365.0 44.25,354.1 44.33,357.6 44.42,367.7 44.50,364.6 44.58,365.3 44.67,368.0 44.75,351.7 44.83,370.3 44.92,363.2 45.00,367.2 45.08,357.7 45.17,367.4 45.25,364.7 45.33,377.0 45.42,362.3 45.50,372.0 45.58,366.9 45.67,372.3 45.75,364.6 45.83,366.0 45.92,350.4 46.00,354.1 46.08,369.3 46.17,365.7 46.25,367.8 46.33,361.8 46.42,367.9 46.50,357.4 46.58,363.0 46.67,370.4 46.75,369.6 46.83,360.8 46.92,363.7 47.00,364.7 47.08,362.6 47.17,362.8 47.25,357.9 47.33,366.7 47.42,357.4 47.50,357.8 47.58,370.8 47.67,374.0 47.75,374.1 47.83,365.5 47.92,360.4 48.00,367.8 48.08,372.4 48.17,364.2 48.25,361.1 48.33,353.8 48.42,353.7 48.50,373.4 48.58,355.0 48.67,359.6 48.75,361.8 48.83,364.9 48.92,356.0 49.00,363.7 49.08,366.9 49.17,363.9 49.25,359.9 49.33,361.4 49.42,352.4 49.50,367.1 49.58,360.5 49.67,355.6 49.75,363.3 49.83,360.7 49.92,365.6 50.00,367.1 50.08,370.3 50.17,352.1 50.25,364.6 50.33,365.0 50.42,355.1 50.50,369.8 50.58,361.6 50.67,364.9 50.75,365.2 50.83,358.8 50.92,368.2 51.00,369.1 51.08,364.5 51.17,348.6 51.25,371.4 51.33,362.7 51.42,359.8 51.50,360.1 51.58,357.3 51.67,361.4 51.75,367.1 51.83,357.2 51.92,364.8 52.00,360.1 52.08,362.1 52.17,361.4 52.25,365.4 52.33,369.4 52.42,363.5 52.50,368.8 52.58,372.2 52.67,355.2 52.75,368.2 52.83,361.9 52.92,362.6 53.00,369.3 53.08,362.3 53.17,360.1 53.25,371.0 53.33,369.8 53.42,366.2 53.50,377.8 53.58,358.1 53.67,354.4 53.75,362.6 53.83,357.3 53.92,366.0 54.00,360.5 54.08,360.4 54.17,364.0 54.25,359.1 54.33,352.8 54.42,359.7 54.50,368.0 54.58,365.3 54.67,369.4 54.75,373.7 54.83,369.1 54.92,363.6 55.00,359.7 55.08,366.6 55.17,373.2 55.25,372.2 55.33,369.3 55.42,359.2 55.50,367.2 55.58,367.9 55.67,370.9 55.75,356.4 55.83,359.7 55.92,364.5 56.00,364.4 56.08,360.2 56.17,366.5 56.25,361.9 56.33,370.0 56.42,360.8 56.50,364.7 56.58,351.4 56.67,364.7 56.75,359.6 56.83,367.6 56.92,362.4 57.00,370.5 57.08,360.3 57.17,355.0 57.25,364.7 57.33,366.7 57.42,359.0 57.50,355.8 57.58,367.6 57.67,369.3 57.75,367.4 57.83,363.7 57.92,363.1 58.00,372.6 58.08,367.7 58.17,357.8 58.25,353.2 58.33,366.6 58.42,367.2 58.50,346.7 58.58,358.6 58.67,368.5 58.75,361.1 58.83,367.7 58.92,356.5 59.00,357.1 59.08,352.9 59.17,362.6 59.25,360.4 59.33,353.0 59.42,363.6 59.50,359.6 59.58,361.4 59.67,370.7 59.75,368.2 59.83,365.4 59.92,360.6 60.00,355.6 60.08,358.7 60.17,360.3 60.25,369.7 60.33,357.1 60.42,359.2 60.50,362.3 60.58,364.6 60.67,368.6 60.75,370.0 60.83,361.4 60.92,373.4 61.00,366.1 61.08,357.6 61.17,356.5 61.25,359.7 61.33,360.6 61.42,366.6 61.50,357.3 61.58,358.7 61.67,357.1 61.75,363.5 61.83,353.5 61.92,365.1 62.00,357.3 62.08,360.6 62.17,364.3 62.25,363.5 62.33,375.7 62.42,356.5 62.50,349.7 62.58,354.1 62.67,366.5 62.75,355.5 62.83,367.6 62.92,360.3 63.00,365.9 63.08,352.7 63.17,367.5 63.25,368.2 63.33,356.1 63.42,369.1 63.50,375.4 63.58,361.4 63.67,356.0 63.75,357.9 63.83,359.7 63.92,367.2 64.00,371.9 64.08,358.9 64.17,359.9 64.25,352.3 64.33,357.6 64.42,363.9 64.50,349.5 64.58,365.1 64.67,366.3 64.75,368.1 64.83,357.7 64.92,351.9 65.00,359.4 65.08,355.0 65.17,350.7 65.25,356.5 65.33,352.8 65.42,371.9 65.50,365.1 65.58,365.8 65.67,354.2 65.75,368.6 65.83,358.4 65.92,365.5 66.00,354.6 66.08,364.1 66.17,350.7 66.25,359.4 66.33,358.9 66.42,352.4 66.50,360.4 66.58,356.9 66.67,357.9 66.75,364.4 66.83,367.6 66.92,358.9 67.00,367.4 67.08,365.7 67.17,364.2 67.25,369.1 67.33,351.1 67.42,367.5 67.50,361.9 67.58,357.4 67.67,358.7 67.75,365.5 67.83,366.5 67.92,363.7 68.00,352.8 68.08,348.5 68.17,359.7 68.25,363.1 68.33,355.4 68.42,364.4 68.50,362.8 68.58,362.1 68.67,354.8 68.75,366.4 68.83,364.8 68.92,367.0 69.00,361.3 69.08,351.7 69.17,361.2 69.25,364.0 69.33,358.1 69.42,352.3 69.50,362.1 69.58,362.5 69.67,351.5 69.75,354.5 69.83,350.3 69.92,360.5 70.00,359.6 70.08,368.6 70.17,353.2 70.25,366.1 70.33,357.1 70.42,359.9 70.50,351.1 70.58,358.4 70.67,355.1 70.75,357.5 70.83,359.2 70.92,360.9 71.00,362.8 71.08,357.8 71.17,352.8 71.25,363.8 71.33,358.3 71.42,354.3 71.50,365.7 71.58,359.4 71.67,361.9 71.75,347.9 71.83,354.0 71.92,369.2 72.00,360.4 72.08,360.3 72.17,353.4 72.25,356.6 72.33,359.5 72.42,356.9 72.50,356.6 72.58,347.1 72.67,352.6 72.75,354.5 72.83,360.3 72.92,360.0 73.00,356.9 73.08,352.7 73.17,352.7 73.25,358.3 73.33,349.0 73.42,355.5 73.50,354.9 73.58,355.2 73.67,366.2 73.75,355.7 73.83,361.5 73.92,365.7 74.00,359.4 74.08,356.4 74.17,349.1 74.25,365.6 74.33,349.8 74.42,344.4 74.50,362.3 74.58,347.6 74.67,349.1 74.75,351.8 74.83,349.0 74.92,343.2 75.00,356.9 75.08,358.5 75.17,359.9 75.25,355.3 75.33,353.0 75.42,352.1 75.50,362.1 75.58,359.9 75.67,352.4 75.75,356.6 75.83,347.9 75.92,357.5 76.00,348.3 76.08,353.5 76.17,352.9 76.25,339.4 76.33,357.9 76.42,353.8 76.50,349.3 76.58,349.6 76.67,353.0 76.75,352.5 76.83,356.0 76.92,354.1 77.00,356.7 77.08,354.5 77.17,344.9 77.25,344.8 77.33,355.5 77.42,355.0 77.50,352.6 77.58,345.0 77.67,348.4 77.75,347.7 77.83,356.1 77.92,347.5 78.00,344.2 78.08,347.4 78.17,353.6 78.25,360.8 78.33,348.8 78.42,358.0 78.50,348.9 78.58,348.9 78.67,346.4 78.75,355.7 78.83,348.3 78.92,356.5 79.00,348.6 79.08,360.8 79.17,352.0 79.25,351.0 79.33,343.8 79.42,357.9 79.50,352.2 79.58,350.8 79.67,350.4 79.75,347.4 79.83,347.1 79.92,352.0 80.00,343.9 80.08,349.0 80.17,362.7 80.25,348.9 80.33,347.9 80.42,354.6 80.50,343.8 80.58,357.3 80.67,349.2 80.75,342.4 80.83,348.2 80.92,344.9 81.00,352.8 81.08,346.0 81.17,352.7 81.25,337.4 81.33,345.9 81.42,350.6 81.50,351.1 81.58,348.4 81.67,352.3 81.75,352.4 81.83,347.8 81.92,348.9 82.00,352.8 82.08,348.4 82.17,332.7 82.25,338.2 82.33,343.4 82.42,351.0 82.50,347.4 82.58,350.6 82.67,352.6 82.75,349.8 82.83,341.1 82.92,351.3 83.00,338.6 83.08,338.8 83.17,343.6 83.25,332.9 83.33,355.4 83.42,359.3 83.50,344.6 83.58,343.3 83.67,333.3 83.75,348.2 83.83,341.0 83.92,338.0 84.00,336.8 84.08,344.0 84.17,343.3 84.25,343.7 84.33,340.8 84.42,334.3 84.50,352.4 84.58,348.7 84.67,340.5 84.75,336.0 84.83,337.9 84.92,347.6 85.00,346.4 85.08,345.0 85.17,350.2 85.25,340.0 85.33,351.4 85.42,344.0 85.50,333.3 85.58,345.8 85.67,344.6 85.75,338.7 85.83,352.9 85.92,333.1 86.00,343.9 86.08,344.7 86.17,338.2 86.25,342.5 86.33,349.7 86.42,335.6 86.50,335.7 86.58,339.9 86.67,344.7 86.75,348.1 86.83,345.0 86.92,335.1 87.00,347.8 87.08,345.4 87.17,347.2 87.25,331.6 87.33,331.2 87.42,337.0 87.50,338.1 87.58,340.5 87.67,334.2 87.75,334.2 87.83,342.7 87.92,327.9 88.00,323.7 88.08,340.1 88.17,344.2 88.25,341.3 88.33,348.9 88.42,341.3 88.50,343.6 88.58,344.1 88.67,339.5 88.75,331.6 88.83,337.5 88.92,337.8 89.00,333.8 89.08,342.6 89.17,335.6 89.25,329.9 89.33,338.3 89.42,332.5 89.50,341.2 89.58,323.9 89.67,328.2 89.75,337.9 89.83,339.2 89.92,338.2 90.00,346.4 90.08,336.1 90.17,334.5 90.25,342.1 90.33,335.4 90.42,339.5 90.50,344.4 90.58,336.1 90.67,336.3 90.75,333.4 90.83,339.0 90.92,340.3 91.00,342.6 91.08,340.4 91.17,348.0 91.25,337.3 91.33,337.1 91.42,334.7 91.50,341.8 91.58,336.7 91.67,334.5 91.75,328.6 91.83,335.2 91.92,340.8 92.00,321.2 92.08,329.4 92.17,330.4 92.25,330.9 92.33,335.7 92.42,333.2 92.50,336.1 92.58,336.9 92.67,342.9 92.75,333.6 92.83,337.0 92.92,333.6 93.00,335.8 93.08,332.8 93.17,322.1 93.25,336.9 93.33,340.7 93.42,329.1 93.50,334.2 93.58,334.1 93.67,322.0 93.75,345.2 93.83,342.3 93.92,340.6 94.00,339.5 94.08,328.8 94.17,319.6 94.25,333.2 94.33,333.9 94.42,331.8 94.50,330.7 94.58,338.8 94.67,337.5 94.75,332.8 94.83,330.0 94.92,345.8 95.00,337.4 95.08,333.2 95.17,325.1 95.25,323.6 95.33,317.6 95.42,330.9 95.50,333.9 95.58,331.2 95.67,332.1 95.75,333.5 95.83,336.8 95.92,321.8 96.00,324.7 96.08,336.9 96.17,333.4 96.25,334.6 96.33,325.9 96.42,340.2 96.50,332.2 96.58,330.1 96.67,326.3 96.75,332.4 96.83,332.2 96.92,330.6 97.00,340.5 97.08,337.9 97.17,331.0 97.25,327.7 97.33,328.4 97.42,332.9 97.50,315.9 97.58,332.6 97.67,329.5 97.75,342.9 97.83,333.2 97.92,329.6 98.00,330.8 98.08,326.9 98.17,326.4 98.25,330.0 98.33,318.8 98.42,330.3 98.50,320.6 98.58,326.0 98.67,325.9 98.75,334.0 98.83,338.9 98.92,338.1 99.00,327.1 99.08,328.4 99.17,329.9 99.25,330.5 99.33,336.0 99.42,333.4 99.50,329.4 99.58,340.5 99.67,334.5 99.75,339.9 99.83,328.9 99.92,319.4 100.00,331.0 100.08,330.1 100.17,323.0 100.25,330.4 100.33,320.5 100.42,331.1 100.50,338.7 100.58,335.3 100.67,330.4 100.75,326.9 100.83,332.9 100.92,322.5 101.00,321.4 101.08,320.8 101.17,330.5 101.25,320.6 101.33,331.5 101.42,333.9 101.50,331.9 101.58,327.3 101.67,330.3 101.75,320.8 101.83,328.8 101.92,337.3 102.00,335.9 102.08,318.4 102.17,327.0 102.25,325.4 102.33,332.5 102.42,328.7 102.50,326.5 102.58,323.3 102.67,327.8 102.75,326.1 102.83,327.2 102.92,325.9 103.00,319.6 103.08,329.0 103.17,329.1 103.25,327.7 103.33,327.9 103.42,333.3 103.50,332.5 103.58,335.7 103.67,330.1 103.75,330.9 103.83,326.3 103.92,320.0 104.00,319.2 104.08,328.8 104.17,326.5 104.25,328.8 104.33,312.3 104.42,324.2 104.50,326.0 104.58,323.1 104.67,323.6 104.75,314.7 104.83,324.3 104.92,332.1 105.00,318.2 105.08,327.9 105.17,320.5 105.25,325.7 105.33,332.8 105.42,324.9 105.50,326.7 105.58,328.3 105.67,324.4 105.75,331.8 105.83,313.0 105.92,321.7 106.00,313.5 106.08,315.7 106.17,324.4 106.25,317.5 106.33,322.1 106.42,332.2 106.50,327.5 106.58,338.5 106.67,323.8 106.75,324.8 106.83,310.1 106.92,324.2 107.00,321.7 107.08,327.0 107.17,324.5 107.25,320.5 107.33,312.9 107.42,328.6 107.50,320.1 107.58,314.2 107.67,326.3 107.75,312.5 107.83,320.4 107.92,312.0 108.00,322.2 108.08,314.0 108.17,338.1 108.25,330.3 108.33,326.4 108.42,325.7 108.50,327.5 108.58,328.6 108.67,325.2 108.75,317.3 108.83,324.5 108.92,314.5 109.00,321.4 109.08,325.8 109.17,317.2 109.25,326.0 109.33,320.6 109.42,337.3 109.50,321.2 109.58,326.3 109.67,327.0 109.75,324.2 109.83,325.2 109.92,321.8 110.00,324.1 110.08,324.4 110.17,328.2 110.25,330.7 110.33,323.3 110.42,331.6 110.50,323.4 110.58,318.0 110.67,320.9 110.75,319.6 110.83,322.2 110.92,323.8 111.00,324.7 111.08,330.3 111.17,327.8 111.25,320.9 111.33,326.6 111.42,323.0 111.50,327.9 111.58,330.6 111.67,322.7 111.75,327.8 111.83,331.3 111.92,325.5 112.00,316.9 112.08,322.6 112.17,318.0 112.25,329.0 112.33,324.4 112.42,325.0 112.50,333.4 112.58,327.5 112.67,323.9 112.75,312.6 112.83,320.0 112.92,319.0 113.00,321.9 113.08,315.8 113.17,326.6 113.25,330.2 113.33,320.8 113.42,314.4 113.50,323.5 113.58,321.4 113.67,328.6 113.75,322.4 113.83,318.4 113.92,314.7 114.00,322.8 114.08,309.1 114.17,316.3 114.25,326.8 114.33,321.7 114.42,322.3 114.50,321.2 114.58,314.5 114.67,320.3 114.75,325.2 114.83,325.5 114.92,316.4 115.00,322.9 115.08,327.8 115.17,323.9 115.25,331.2 115.33,322.4 115.42,305.6 115.50,322.3 115.58,323.2 115.67,326.2 115.75,325.2 115.83,331.1 115.92,325.8 116.00,323.4 116.08,319.2 116.17,320.9 116.25,329.8 116.33,333.2 116.42,324.2 116.50,323.3 116.58,321.0 116.67,323.5 116.75,322.5 116.83,319.3 116.92,327.3 117.00,315.7 117.08,322.9 117.17,323.0 117.25,325.8 117.33,321.1 117.42,316.5 117.50,321.4 117.58,316.0 117.67,319.9 117.75,317.5 117.83,335.8 117.92,309.3 118.00,314.9 118.08,328.9 118.17,320.6 118.25,313.8 118.33,325.4 118.42,327.2 118.50,321.9 118.58,326.8 118.67,314.0 118.75,318.3 118.83,322.8 118.92,322.7 119.00,317.7 119.08,318.2 119.17,318.0 119.25,317.0 119.33,318.4 119.42,318.2 119.50,324.1 119.58,313.3 119.67,324.3 119.75,331.6 119.83,320.5 119.92,318.7 120.00,316.0 120.08,318.4 120.17,314.4 120.25,322.8 120.33,320.7 120.42,325.7 120.50,322.9 120.58,325.9 120.67,330.0 120.75,326.9 120.83,335.2 120.92,328.0 121.00,318.8 121.08,325.0 121.17,325.9 121.25,322.2 121.33,325.8 121.42,324.9 121.50,329.2 121.58,320.8 121.67,316.1 121.75,319.0 121.83,310.3 121.92,306.0 122.00,315.2 122.08,318.3 122.17,317.4 122.25,328.4 122.33,315.4 122.42,314.8 122.50,333.5 122.58,313.2 122.67,326.7 122.75,321.8 122.83,307.7 122.92,328.4 123.00,320.9 123.08,325.2 123.17,324.4 123.25,325.2 123.33,328.6 123.42,336.2 123.50,325.3 123.58,322.7 123.67,329.2 123.75,326.8 123.83,309.6 123.92,327.0 124.00,322.2 124.08,323.3 124.17,316.4 124.25,336.0 124.33,327.9 124.42,322.6 124.50,322.9 124.58,324.4 124.67,325.0 124.75,330.3 124.83,328.1 124.92,323.0 125.00,324.7 125.08,329.8 125.17,320.7 125.25,324.1 125.33,332.2 125.42,326.8 125.50,335.3 125.58,320.5 125.67,324.6 125.75,322.7 125.83,322.5 125.92,332.1 126.00,334.0 126.08,328.6 126.17,327.5 126.25,338.7 126.33,337.9 126.42,316.7 126.50,328.4 126.58,317.2 126.67,320.1 126.75,325.4 126.83,322.7 126.92,332.9 127.00,327.2 127.08,328.4 127.17,329.4 127.25,340.1 127.33,331.9 127.42,332.1 127.50,333.5 127.58,337.6 127.67,331.0 127.75,330.5 127.83,338.4 127.92,332.1 128.00,322.0 128.08,324.1 128.17,329.0 128.25,334.5 128.33,327.3 128.42,340.6 128.50,334.5 128.58,330.6 128.67,325.2 128.75,336.5 128.83,336.1 128.92,325.9 129.00,340.4 129.08,340.0 129.17,341.6 129.25,333.0 129.33,338.7 129.42,321.5 129.50,335.9 129.58,331.2 129.67,333.2 129.75,336.5 129.83,329.9 129.92,333.0 130.00,328.5 130.08,329.6 130.17,327.8 130.25,336.3 130.33,341.6 130.42,328.8 130.50,325.2 130.58,333.2 130.67,336.8 130.75,336.0 130.83,327.8 130.92,334.6 131.00,329.8 131.08,332.2 131.17,333.9 131.25,332.3 131.33,337.4 131.42,331.9 131.50,343.5 131.58,335.6 131.67,328.5 131.75,340.6 131.83,339.9 131.92,336.6 132.00,335.2 132.08,331.8 132.17,340.1 132.25,334.6 132.33,340.1 132.42,332.2 132.50,338.3 132.58,329.9 132.67,337.5 132.75,338.9 132.83,332.6 132.92,337.8 133.00,325.3 133.08,335.3 133.17,334.4 133.25,339.4 133.33,335.8 133.42,341.7 133.50,346.7 133.58,336.7 133.67,341.1 133.75,345.6 133.83,341.7 133.92,342.5 134.00,335.3 134.08,338.7 134.17,331.0 134.25,341.5 134.33,339.1 134.42,339.2 134.50,326.6 134.58,342.7 134.67,345.5 134.75,344.8 134.83,339.7 134.92,344.6 135.00,337.6 135.08,333.8 135.17,337.2 135.25,333.6 135.33,347.1 135.42,324.1 135.50,338.9 135.58,332.9 135.67,334.6 135.75,341.5 135.83,337.3 135.92,343.6 136.00,336.9 136.08,337.0 136.17,338.2 136.25,344.5 136.33,334.0 136.42,336.0 136.50,334.7 136.58,335.3 136.67,331.1 136.75,327.8 136.83,340.2 136.92,345.4 137.00,340.3 137.08,334.7 137.17,345.6 137.25,328.6 137.33,340.5 137.42,331.4 137.50,337.3 137.58,330.8 137.67,329.9 137.75,335.1 137.83,347.6 137.92,340.0 138.00,331.4 138.08,336.4 138.17,338.3 138.25,334.2 138.33,335.2 138.42,336.6 138.50,343.4 138.58,340.1 138.67,334.5 138.75,337.5 138.83,333.9 138.92,341.4 139.00,340.0 139.08,339.9 139.17,342.4 139.25,341.7 139.33,346.4 139.42,334.9 139.50,342.7 139.58,338.0 139.67,340.2 139.75,336.3 139.83,330.3 139.92,336.8 140.00,335.8 140.08,333.4 140.17,337.2 140.25,345.2 140.33,337.5 140.42,342.8 140.50,346.5 140.58,344.7 140.67,341.8 140.75,344.2 140.83,337.2 140.92,332.7 141.00,331.7 141.08,344.4 141.17,346.6 141.25,332.3 141.33,339.8 141.42,327.7 141.50,343.5 141.58,339.2 141.67,330.1 141.75,342.4 141.83,342.9 141.92,344.2 142.00,339.3 142.08,341.2 142.17,335.5 142.25,347.3 142.33,338.3 142.42,346.6 142.50,342.9 142.58,339.0 142.67,347.0 142.75,336.9 142.83,342.2 142.92,341.1 143.00,339.7 143.08,341.4 143.17,344.1 143.25,338.6 143.33,338.0 143.42,339.5 143.50,337.7 143.58,335.5 143.67,341.9 143.75,331.7 143.83,340.0 143.92,338.0 144.00,341.1 144.08,342.7 144.17,341.6 144.25,340.2 144.33,347.0 144.42,337.6 144.50,334.2 144.58,339.0 144.67,343.8 144.75,349.4 144.83,350.8 144.92,342.1 145.00,346.1 145.08,348.5 145.17,337.9 145.25,347.9 145.33,342.6 145.42,339.8 145.50,343.1 145.58,343.6 145.67,330.1 145.75,340.5 145.83,341.1 145.92,336.3 146.00,340.6 146.08,337.5 146.17,335.2 146.25,338.3 146.33,328.6 146.42,340.3 146.50,340.4 146.58,338.7 146.67,339.3 146.75,333.6 146.83,331.9 146.92,324.8 147.00,323.6 147.08,326.7 147.17,332.9 147.25,325.6 147.33,328.2 147.42,322.6 147.50,304.0 147.58,306.4 147.67,298.8 147.75,292.3 147.83,297.6 147.92,299.0 148.00,293.2 148.08,306.9 148.17,311.1 148.25,309.4 148.33,318.9 148.42,316.8 148.50,325.3 148.58,330.9 148.67,321.8 148.75,340.2 148.83,326.5 148.92,336.7 149.00,335.2 149.08,342.9 149.17,335.2 149.25,337.9 149.33,352.9 149.42,350.0 149.50,346.4 149.58,339.2 149.67,344.8 149.75,333.1 149.83,340.0 149.92,346.3 150.00,348.3 150.08,343.0 150.17,348.5 150.25,349.3 150.33,340.6 150.42,346.8 150.50,345.6 150.58,353.0 150.67,340.1 150.75,348.6 150.83,345.8 150.92,356.6 151.00,335.7 151.08,355.3 151.17,346.2 151.25,349.9 151.33,340.1 151.42,341.2 151.50,346.4 151.58,348.1 151.67,336.0 151.75,344.8 151.83,345.9 151.92,347.4 152.00,351.6 152.08,349.9 152.17,347.2 152.25,342.6 152.33,340.9 152.42,349.2 152.50,355.9 152.58,349.0 152.67,353.5 152.75,343.7 152.83,348.4 152.92,348.3 153.00,340.4 153.08,352.6 153.17,353.2 153.25,350.9 153.33,351.6 153.42,351.4 153.50,346.5 153.58,348.5 153.67,350.1 153.75,357.9 153.83,344.6 153.92,350.7 154.00,355.1 154.08,353.7 154.17,345.6 154.25,344.6 154.33,348.1 154.42,352.1 154.50,354.6 154.58,349.9 154.67,351.5 154.75,349.1 154.83,347.2 154.92,356.9 155.00,359.4 155.08,350.6 155.17,347.5 155.25,354.5 155.33,344.7 155.42,345.4 155.50,352.3 155.58,360.2 155.67,350.0 155.75,352.1 155.83,359.1 155.92,339.8 156.00,337.2 156.08,362.2 156.17,356.9 156.25,350.5 156.33,354.8 156.42,356.6 156.50,351.3 156.58,363.7 156.67,345.1 156.75,360.2 156.83,354.6 156.92,353.7 157.00,354.1 157.08,350.1 157.17,352.2 157.25,351.0 157.33,346.7 157.42,356.1 157.50,347.4 157.58,349.2 157.67,362.6 157.75,351.4 157.83,360.9 157.92,360.0 158.00,355.0 158.08,360.8 158.17,351.7 158.25,350.3 158.33,352.3 158.42,352.9 158.50,356.9 158.58,363.6 158.67,351.0 158.75,353.6 158.83,354.9 158.92,356.3 159.00,353.7 159.08,361.4 159.17,353.6 159.25,351.2 159.33,363.1 159.42,358.9 159.50,355.7 159.58,351.9 159.67,356.7 159.75,359.3 159.83,363.2 159.92,363.7 160.00,355.1 160.08,356.9 160.17,355.8 160.25,357.0 160.33,354.8 160.42,355.3 160.50,356.3 160.58,357.6 160.67,349.2 160.75,355.5 160.83,360.7 160.92,359.5 161.00,360.7 161.08,361.0 161.17,360.2 161.25,362.6 161.33,358.1 161.42,352.7 161.50,363.7 161.58,359.9 161.67,350.9 161.75,362.2 161.83,362.1 161.92,352.9 162.00,360.7 162.08,358.7 162.17,360.6 162.25,356.5 162.33,366.5 162.42,355.1 162.50,354.7 162.58,357.5 162.67,359.2 162.75,357.1 162.83,366.1 162.92,355.3 163.00,369.9 163.08,353.7 163.17,362.0 163.25,367.7 163.33,370.3 163.42,345.8 163.50,354.0 163.58,357.5 163.67,358.4 163.75,363.7 163.83,356.8 163.92,360.2 164.00,357.1 164.08,364.6 164.17,371.4 164.25,364.5 164.33,366.4 164.42,362.2 164.50,360.1 164.58,363.7 164.67,364.1 164.75,350.1 164.83,358.2 164.92,370.6 165.00,364.2 165.08,362.6 165.17,360.1 165.25,360.2 165.33,361.2 165.42,350.4 165.50,369.1 165.58,363.5 165.67,358.5 165.75,367.4 165.83,361.4 165.92,367.8 166.00,359.3 166.08,365.4 166.17,355.0 166.25,365.7 166.33,355.7 166.42,362.1 166.50,363.8 166.58,355.3 166.67,362.7 166.75,360.3 166.83,362.7 166.92,366.4 167.00,362.3 167.08,367.6 167.17,358.9 167.25,358.4 167.33,366.4 167.42,357.5 167.50,364.0 167.58,359.0 167.67,362.2 167.75,364.2 167.83,359.5 167.92,359.7 168.00,356.6 168.08,366.0 168.17,358.9 168.25,358.7 168.33,362.3 168.42,355.3 168.50,359.3 168.58,364.0 168.67,363.0 168.75,359.8 168.83,360.6 168.92,367.8 169.00,363.1 169.08,360.6 169.17,362.3 169.25,364.9 169.33,370.5 169.42,358.0 169.50,364.6 169.58,360.6 169.67,364.1 169.75,360.7 169.83,360.0 169.92,359.7 170.00,361.1 170.08,363.8 170.17,370.7 170.25,359.1 170.33,356.6 170.42,361.4 170.50,369.4 170.58,369.2 170.67,369.0 170.75,365.6 170.83,363.5 170.92,358.8 171.00,363.8 171.08,364.8 171.17,361.8 171.25,361.1 171.33,359.0 171.42,365.3 171.50,363.0 171.58,367.3 171.67,361.2 171.75,361.4 171.83,368.4 171.92,363.5 172.00,357.8 172.08,361.0 172.17,359.9 172.25,363.2 172.33,356.6 172.42,366.6 172.50,366.6 172.58,350.9 172.67,363.7 172.75,363.7 172.83,362.2 172.92,368.4 173.00,360.3 173.08,373.4 173.17,360.1 173.25,365.4 173.33,360.6 173.42,361.4 173.50,363.7 173.58,358.7 173.67,366.5 173.75,365.2 173.83,366.7 173.92,367.4 174.00,361.5 174.08,363.9 174.17,363.8 174.25,369.0 174.33,364.3 174.42,361.5 174.50,366.1 174.58,363.3 174.67,368.1 174.75,370.1 174.83,368.7 174.92,362.1 175.00,368.4 175.08,361.7 175.17,363.6 175.25,368.6 175.33,365.9 175.42,372.0 175.50,368.1 175.58,365.7 175.67,369.3 175.75,365.4 175.83,369.9 175.92,356.7 176.00,364.6 176.08,361.5 176.17,364.4 176.25,362.8 176.33,372.2 176.42,367.1 176.50,364.5 176.58,368.2 176.67,355.6 176.75,370.0 176.83,357.1 176.92,365.4 177.00,372.2 177.08,360.5 177.17,361.4 177.25,356.4 177.33,357.8 177.42,354.4 177.50,365.4 177.58,363.1 177.67,366.2 177.75,363.1 177.83,361.4 177.92,363.3 178.00,360.3 178.08,356.1 178.17,363.8 178.25,366.4 178.33,369.3 178.42,367.2 178.50,363.7 178.58,357.0 178.67,364.5 178.75,366.1 178.83,364.6 178.92,362.9 179.00,366.3 179.08,356.2 179.17,367.3 179.25,371.3 179.33,360.1 179.42,367.1 179.50,357.8 179.58,362.0 179.67,367.4 179.75,367.2 179.83,364.2 179.92,371.5 180.00,366.9 180.08,358.0 180.17,370.7 180.25,365.3 180.33,370.9 180.42,361.2 180.50,361.5 180.58,363.2 180.67,366.1 180.75,367.6 180.83,362.1 180.92,373.8 181.00,361.3 181.08,363.3 181.17,372.5 181.25,371.9 181.33,370.6 181.42,366.3 181.50,359.9 181.58,373.3 181.67,360.0 181.75,362.6 181.83,364.9 181.92,365.5 182.00,368.7 182.08,365.1 182.17,365.9 182.25,366.5 182.33,363.6 182.42,365.6 182.50,360.3 182.58,361.2 182.67,364.7 182.75,363.3 182.83,366.9 182.92,364.7 183.00,365.6 183.08,368.2 183.17,358.0 183.25,360.4 183.33,361.4 183.42,371.3 183.50,362.9 183.58,371.2 183.67,368.3 183.75,364.9 183.83,366.0 183.92,366.6 184.00,362.8 184.08,369.9 184.17,366.1 184.25,364.3 184.33,362.0 184.42,366.4 184.50,366.3 184.58,367.3 184.67,372.7 184.75,366.5 184.83,361.7 184.92,361.5 185.00,359.2 185.08,360.1 185.17,358.8 185.25,367.0 185.33,355.0 185.42,368.4 185.50,360.5 185.58,357.4 185.67,359.0 185.75,361.4 185.83,361.2 185.92,358.4 186.00,363.3 186.08,353.5 186.17,353.5 186.25,358.2 186.33,349.4 186.42,350.2 186.50,354.7 186.58,355.4 186.67,356.4 186.75,358.0 186.83,357.0 186.92,359.1 187.00,359.9 187.08,360.1 187.17,364.5 187.25,361.7 187.33,365.3 187.42,362.5 187.50,366.2 187.58,354.4 187.67,370.7 187.75,360.2 187.83,362.3 187.92,361.9 188.00,370.9 188.08,358.6 188.17,362.8 188.25,363.1 188.33,372.9 188.42,369.4 188.50,361.0 188.58,363.2 188.67,364.8 188.75,361.4 188.83,369.7 188.92,365.6 189.00,358.1 189.08,364.7 189.17,364.2 189.25,362.7 189.33,365.4 189.42,367.1 189.50,363.5 189.58,362.2 189.67,365.8 189.75,358.1 189.83,366.5 189.92,359.6 190.00,365.1 190.08,363.8 190.17,366.5 190.25,362.4 190.33,366.0 190.42,358.4 190.50,369.7 190.58,366.6 190.67,368.1 190.75,362.6 190.83,365.4 190.92,363.0 191.00,364.5 191.08,360.5 191.17,364.3 191.25,354.8 191.33,368.6 191.42,360.0 191.50,367.8 191.58,369.7 191.67,367.1 191.75,360.3 191.83,365.8 191.92,367.2 192.00,367.5 192.08,366.2 192.17,364.9 192.25,363.4 192.33,363.6 192.42,365.2 192.50,364.3 192.58,363.5 192.67,363.3 192.75,364.8 192.83,362.4 192.92,368.0 193.00,364.8 193.08,369.0 193.17,361.9 193.25,361.3 193.33,362.6 193.42,364.2 193.50,364.6 193.58,368.2 193.67,356.9 193.75,365.5 193.83,358.5 193.92,361.1 194.00,363.9 194.08,364.7 194.17,369.4 194.25,363.7 194.33,369.1 194.42,366.9 194.50,363.9 194.58,368.0 194.67,362.9 194.75,366.7 194.83,371.6 194.92,360.6 195.00,364.4 195.08,358.7 195.17,363.6 195.25,362.3 195.33,371.2 195.42,367.7 195.50,365.2 195.58,366.4 195.67,371.9 195.75,363.9 195.83,363.5 195.92,370.4 196.00,367.4 196.08,358.5 196.17,367.1 196.25,364.7 196.33,363.9 196.42,363.4 196.50,363.0 196.58,365.3 196.67,367.9 196.75,361.3 196.83,366.4 196.92,359.3 197.00,363.8 197.08,368.4 197.17,364.8 197.25,363.6 197.33,370.3 197.42,366.9 197.50,366.0 197.58,367.0 197.67,360.1 197.75,363.8 197.83,371.5 197.92,367.6 198.00,371.0 198.08,361.6 198.17,363.5 198.25,368.0 198.33,368.2 198.42,357.6 198.50,365.1 198.58,363.9 198.67,362.5 198.75,366.2 198.83,361.4 198.92,365.9 199.00,366.6 199.08,362.2 199.17,364.3 199.25,355.5 199.33,365.8 199.42,363.9 199.50,357.7 199.58,357.6 199.67,363.4 199.75,371.6 199.83,364.5 199.92,359.7 200.00,362.8 200.08,356.2 200.17,361.5 200.25,360.8 200.33,364.2 200.42,368.1 200.50,362.7 200.58,371.0 200.67,363.6 200.75,364.8 200.83,363.2 200.92,360.1 201.00,361.4 201.08,362.2 201.17,367.4 201.25,363.3 201.33,358.6 201.42,365.0 201.50,365.1 201.58,360.0 201.67,365.5 201.75,364.7 201.83,359.2 201.92,367.4 202.00,358.9 202.08,360.9 202.17,366.4 202.25,358.3 202.33,354.9 202.42,361.7 202.50,364.6 202.58,364.1 202.67,362.4 202.75,359.1 202.83,368.0 202.92,367.4 203.00,364.7 203.08,365.8 203.17,357.5 203.25,366.6 203.33,369.0 203.42,367.1 203.50,367.4 203.58,365.0 203.67,364.8 203.75,356.2 203.83,362.3 203.92,365.0 204.00,360.8 204.08,358.7 204.17,362.8 204.25,361.0 204.33,368.6 204.42,362.8 204.50,363.7 204.58,369.1 204.67,360.4 204.75,365.3 204.83,370.0 204.92,361.2 205.00,362.8 205.08,367.9 205.17,367.6 205.25,362.3 205.33,362.4 205.42,362.3 205.50,361.4 205.58,366.9 205.67,363.3 205.75,361.7 205.83,361.7 205.92,367.4 206.00,354.9 206.08,362.9 206.17,365.2 206.25,361.9 206.33,360.8 206.42,366.2 206.50,365.2 206.58,371.4 206.67,362.1 206.75,365.9 206.83,360.7 206.92,368.8 207.00,368.0 207.08,366.7 207.17,368.2 207.25,367.0 207.33,366.1 207.42,364.4 207.50,367.8 207.58,366.5 207.67,363.3 207.75,364.3 207.83,365.2 207.92,369.9 208.00,364.7 208.08,364.0 208.17,360.0 208.25,367.4 208.33,365.4 208.42,365.2 208.50,365.2 208.58,366.5 208.67,358.7 208.75,361.3 208.83,363.6 208.92,367.4 209.00,366.1 209.08,367.7 209.17,365.8 209.25,366.7 209.33,362.1 209.42,362.6 209.50,363.7 209.58,363.6 209.67,366.9 209.75,364.6 209.83,364.6 209.92,364.3 210.00,369.6 210.08,362.9 210.17,366.8 210.25,362.6 210.33,365.7 210.42,365.8 210.50,363.8 210.58,360.9 210.67,365.7 210.75,365.2 210.83,363.6 210.92,361.1 211.00,363.4 211.08,372.7 211.17,362.9 211.25,359.0 211.33,358.7 211.42,366.9 211.50,358.2 211.58,366.4 211.67,362.6 211.75,365.1 211.83,364.4 211.92,367.5 212.00,362.7 212.08,364.0 212.17,361.2 212.25,356.7 212.33,368.7 212.42,359.3 212.50,366.1 212.58,367.7 212.67,365.6 212.75,361.0 212.83,370.1 212.92,360.1 213.00,367.4 213.08,368.7 213.17,359.7 213.25,366.9 213.33,361.4 213.42,366.3 213.50,357.5 213.58,371.0 213.67,367.2 213.75,364.9 213.83,362.7 213.92,370.1 214.00,366.6 214.08,366.3 214.17,363.4 214.25,363.8 214.33,364.5 214.42,361.9 214.50,365.7 214.58,371.3 214.67,366.9 214.75,368.0 214.83,366.8 214.92,372.9 215.00,363.4 215.08,358.6 215.17,354.9 215.25,363.4 215.33,366.2 215.42,369.0 215.50,360.0 215.58,363.2 215.67,370.6 215.75,359.5 215.83,361.8 215.92,364.0 216.00,361.3 216.08,364.9 216.17,358.1 216.25,362.4 216.33,362.7 216.42,368.4 216.50,366.6 216.58,366.8 216.67,360.9 216.75,369.2 216.83,364.0 216.92,365.0 217.00,358.9 217.08,360.4 217.17,362.1 217.25,369.6 217.33,360.6 217.42,364.3 217.50,362.7 217.58,367.7 217.67,363.9 217.75,370.4 217.83,361.1 217.92,372.2 218.00,364.5 218.08,360.1 218.17,367.1 218.25,364.2 218.33,361.3 218.42,369.3 218.50,362.7 218.58,360.2 218.67,365.6 218.75,367.3 218.83,367.0 218.92,359.1 219.00,370.2 219.08,365.3 219.17,366.6 219.25,360.4 219.33,359.1 219.42,362.3 219.50,364.4 219.58,372.3 219.67,365.2 219.75,364.9 219.83,369.4 219.92,370.1 220.00,367.7 220.08,362.9 220.17,358.5 220.25,356.2 220.33,363.1 220.42,361.8 220.50,367.4 220.58,371.5 220.67,362.8 220.75,363.6 220.83,360.5 220.92,357.6 221.00,364.7 221.08,368.0 221.17,372.8 221.25,359.7 221.33,368.0 221.42,370.8 221.50,360.8 221.58,364.2 221.67,370.1 221.75,362.7 221.83,363.9 221.92,366.2 222.00,369.8 222.08,366.7 222.17,363.5 222.25,367.6 222.33,361.7 222.42,360.2 222.50,363.9 222.58,364.4 222.67,365.5 222.75,365.8 222.83,363.1 222.92,358.1 223.00,358.4 223.08,363.6 223.17,367.7 223.25,361.5 223.33,362.8 223.42,367.2 223.50,360.2 223.58,367.4 223.67,363.1 223.75,362.9 223.83,367.1 223.92,362.5 224.00,368.4 224.08,360.9 224.17,361.7 224.25,363.0 224.33,367.4 224.42,361.2 224.50,365.8 224.58,366.2 224.67,368.8 224.75,362.6 224.83,366.2 224.92,368.0 225.00,371.9 225.08,364.7 225.17,366.3 225.25,365.3 225.33,354.9 225.42,365.0 225.50,364.0 225.58,360.2 225.67,361.2 225.75,363.7 225.83,364.7 225.92,364.1 226.00,358.7 226.08,364.5 226.17,367.6 226.25,363.8 226.33,369.0 226.42,370.0 226.50,368.2 226.58,362.8 226.67,363.7 226.75,354.9 226.83,363.4 226.92,362.8 227.00,360.9 227.08,355.5 227.17,367.0 227.25,367.8 227.33,363.2 227.42,367.0 227.50,362.6 227.58,356.6 227.67,363.6 227.75,362.2 227.83,360.8 227.92,363.4 228.00,355.3 228.08,357.9 228.17,367.6 228.25,363.2 228.33,365.4 228.42,359.7 228.50,354.9 228.58,358.4 228.67,368.4 228.75,365.7 228.83,356.4 228.92,361.2 229.00,359.3 229.08,364.0 229.17,370.4 229.25,361.8 229.33,365.5 229.42,363.5 229.50,362.3 229.58,360.3 229.67,361.1 229.75,366.2 229.83,365.8 229.92,366.8 230.00,361.4 230.08,361.7 230.17,364.7 230.25,363.6 230.33,360.9 230.42,362.3 230.50,370.0 230.58,363.6 230.67,366.2 230.75,367.6 230.83,363.8 230.92,370.7 231.00,365.4 231.08,367.3 231.17,362.9 231.25,367.0 231.33,364.3 231.42,366.7 231.50,362.2 231.58,362.3 231.67,364.1 231.75,367.1 231.83,359.6 231.92,364.7 232.00,364.1 232.08,368.3 232.17,356.2 232.25,359.0 232.33,367.2 232.42,365.7 232.50,366.3 232.58,364.6 232.67,365.6 232.75,366.1 232.83,367.7 232.92,359.9 233.00,361.5 233.08,368.4 233.17,368.4 233.25,361.0 233.33,370.6 233.42,366.4 233.50,367.7 233.58,363.6 233.67,361.4 233.75,364.5 233.83,364.1 233.92,360.4 234.00,364.7 234.08,364.5 234.17,358.4 234.25,361.4 234.33,363.8 234.42,361.5 234.50,366.7 234.58,368.5 234.67,360.5 234.75,359.1 234.83,365.7 234.92,367.3 235.00,358.7 235.08,360.6 235.17,365.5 235.25,368.2 235.33,365.3 235.42,361.1 235.50,363.6 235.58,361.6 235.67,359.0 235.75,364.6 235.83,367.4 235.92,367.7 236.00,364.9 236.08,361.5 236.17,360.0 236.25,366.5 236.33,360.7 236.42,365.1 236.50,365.4 236.58,361.7 236.67,363.4 236.75,362.4 236.83,366.6 236.92,361.8 237.00,363.7 237.08,364.9 237.17,359.9 237.25,362.4 237.33,362.3 237.42,364.7 237.50,360.1 237.58,363.9 237.67,365.2 237.75,369.0 237.83,364.3 237.92,369.5 238.00,365.7 238.08,366.5 238.17,361.7 238.25,362.1 238.33,365.8 238.42,362.0 238.50,369.7 238.58,364.7 238.67,372.4 238.75,362.2 238.83,366.3 238.92,366.0 239.00,364.8 239.08,365.5 239.17,356.8 239.25,364.4 239.33,367.8 239.42,363.9 239.50,359.6 239.58,362.7 239.67,364.2 239.75,367.2 239.83,361.8 239.92,368.0 240.00,361.5 240.08,367.4 240.17,364.9 240.25,372.1 240.33,366.3 240.42,368.3 240.50,362.9 240.58,357.3 240.67,364.1 240.75,364.3 240.83,361.5 240.92,363.9 241.00,357.5 241.08,363.0 241.17,361.8 241.25,368.8 241.33,364.0 241.42,364.1 241.50,363.9 241.58,357.1 241.67,360.3 241.75,368.1 241.83,365.8 241.92,359.0 242.00,364.6 242.08,362.3 242.17,365.2 242.25,364.0 242.33,363.5 242.42,359.0 242.50,362.5 242.58,360.7 242.67,362.6 242.75,366.7 242.83,364.9 242.92,365.5 243.00,366.3 243.08,359.6 243.17,362.7 243.25,367.1 243.33,367.8 243.42,356.0 243.50,360.0 243.58,364.9 243.67,372.3 243.75,361.1 243.83,363.0 243.92,364.2 244.00,366.5 244.08,358.7 244.17,361.3 244.25,361.8 244.33,361.1 244.42,361.6 244.50,365.2 244.58,367.8 244.67,365.6 244.75,364.4 244.83,363.4 244.92,361.2 245.00,352.4 245.08,359.3 245.17,367.4 245.25,367.7 245.33,365.5 245.42,364.7 245.50,363.8 245.58,365.2 245.67,362.2 245.75,360.4 245.83,358.8 245.92,364.0 246.00,360.3 246.08,357.1 246.17,362.2 246.25,360.7 246.33,366.4 246.42,368.7 246.50,365.8 246.58,366.8 246.67,370.5 246.75,359.4 246.83,359.6 246.92,363.9 247.00,362.5 247.08,364.7 247.17,367.8 247.25,363.8 247.33,357.8 247.42,372.2 247.50,360.3 247.58,359.5 247.67,367.7 247.75,358.0 247.83,359.8 247.92,364.0 248.00,361.1 248.08,364.4 248.17,367.8 248.25,363.2 248.33,362.5 248.42,364.5 248.50,365.0 248.58,372.2 248.67,360.6 248.75,368.4 248.83,363.0 248.92,365.4 249.00,356.9 249.08,360.1 249.17,359.5 249.25,357.9 249.33,361.6 249.42,369.1 249.50,358.0 249.58,368.5 249.67,363.1 249.75,363.7 249.83,358.7 249.92,364.3 250.00,368.6 250.08,361.6 250.17,363.9 250.25,363.5 250.33,362.1 250.42,360.1 250.50,367.6 250.58,366.3 250.67,361.2 250.75,367.7 250.83,360.6 250.92,363.9 251.00,358.0 251.08,356.8 251.17,361.8 251.25,369.6 251.33,364.0 251.42,367.5 251.50,369.7 251.58,364.9 251.67,360.9 251.75,364.1 251.83,362.0 251.92,365.6 252.00,361.8 252.08,368.5 252.17,367.6 252.25,364.6 252.33,364.1 252.42,365.5 252.50,363.6 252.58,364.5 252.67,367.2 252.75,361.5 252.83,362.4 252.92,363.1 253.00,356.1 253.08,368.4 253.17,360.9 253.25,369.0 253.33,356.8 253.42,356.5 253.50,362.5 253.58,364.0 253.67,367.2 253.75,366.6 253.83,368.5 253.92,364.0 254.00,372.0 254.08,366.7 254.17,357.7 254.25,358.3 254.33,360.9 254.42,363.3 254.50,361.3 254.58,364.6 254.67,368.1 254.75,358.4 254.83,361.5 254.92,369.9 255.00,369.8 255.08,370.2 255.17,364.6 255.25,368.1 255.33,365.2 255.42,357.9 255.50,361.3 255.58,366.1 255.67,364.0 255.75,360.4 255.83,360.1 255.92,365.0 256.00,364.4 256.08,361.6 256.17,367.6 256.25,361.8 256.33,361.8 256.42,363.6 256.50,363.2 256.58,363.0 256.67,356.4 256.75,371.6 256.83,365.5 256.92,364.7 257.00,361.3 257.08,362.9 257.17,364.9 257.25,361.1 257.33,366.1 257.42,365.6 257.50,362.1 257.58,360.6 257.67,365.8 257.75,371.2 257.83,364.0 257.92,366.5 258.00,362.6 258.08,360.2 258.17,367.0 258.25,361.9 258.33,370.5 258.42,360.7 258.50,357.5 258.58,363.8 258.67,365.6 258.75,365.6 258.83,362.9 258.92,358.3 259.00,366.3 259.08,358.9 259.17,370.1 259.25,360.3 259.33,361.4 259.42,361.1 259.50,366.8 259.58,368.5 259.67,363.3 259.75,363.3 259.83,354.7 259.92,364.6 260.00,353.0 260.08,364.8 260.17,362.2 260.25,357.6 260.33,363.1 260.42,362.7 260.50,366.3 260.58,362.0 260.67,359.8 260.75,360.4 260.83,354.2 260.92,361.0 261.00,353.6 261.08,355.4 261.17,352.0 261.25,354.6 261.33,357.9 261.42,352.8 261.50,355.5 261.58,350.7 261.67,356.2 261.75,357.5 261.83,354.5 261.92,353.9 262.00,350.8 262.08,356.4 262.17,358.3 262.25,353.6 262.33,354.5 262.42,353.3 262.50,350.9 262.58,355.3 262.67,350.7 262.75,360.4 262.83,363.0 262.92,360.5 263.00,358.9 263.08,357.7 263.17,358.8 263.25,354.6 263.33,360.0 263.42,359.7 263.50,362.0 263.58,366.1 263.67,361.4 263.75,360.5 263.83,363.8 263.92,358.8 264.00,363.7 264.08,361.8 264.17,358.5 264.25,363.9 264.33,363.5 264.42,361.8 264.50,364.6 264.58,361.7 264.67,360.4 264.75,362.9 264.83,357.8 264.92,365.1 265.00,366.0 265.08,362.7 265.17,368.0 265.25,366.3 265.33,364.2 265.42,365.5 265.50,366.6 265.58,362.0 265.67,365.3 265.75,366.0 265.83,365.5 265.92,362.4 266.00,368.0 266.08,356.5 266.17,362.4 266.25,363.8 266.33,369.1 266.42,358.6 266.50,359.9 266.58,359.8 266.67,362.8 266.75,360.9 266.83,359.9 266.92,366.6 267.00,363.2 267.08,363.4 267.17,361.2 267.25,362.5 267.33,363.1 267.42,370.8 267.50,359.9 267.58,361.9 267.67,361.9 267.75,363.0 267.83,366.1 267.92,359.0 268.00,360.1 268.08,367.5 268.17,364.6 268.25,368.8 268.33,361.4 268.42,358.6 268.50,361.7 268.58,361.4 268.67,366.0 268.75,361.0 268.83,364.1 268.92,366.3 269.00,364.3 269.08,362.7 269.17,362.8 269.25,364.6 269.33,366.1 269.42,359.6 269.50,359.2 269.58,369.1 269.67,358.8 269.75,362.8 269.83,360.9 269.92,368.1 270.00,364.7 270.08,368.4 270.17,368.2 270.25,361.6 270.33,364.6 270.42,358.5 270.50,362.1 270.58,366.5 270.67,365.5 270.75,365.3 270.83,364.2 270.92,362.5 271.00,366.3 271.08,364.6 271.17,364.0 271.25,367.5 271.33,362.7 271.42,370.3 271.50,363.4 271.58,369.7 271.67,364.7 271.75,362.5 271.83,363.4 271.92,366.5 272.00,365.8 272.08,366.3 272.17,365.0 272.25,363.4 272.33,362.1 272.42,361.7 272.50,363.2 272.58,357.7 272.67,364.8 272.75,364.3 272.83,363.6 272.92,361.1 273.00,363.9 273.08,366.3 273.17,360.5 273.25,360.6 273.33,362.9 273.42,364.7 273.50,360.1 273.58,366.3 273.67,357.4 273.75,369.5 273.83,359.3 273.92,360.3 274.00,361.9 274.08,359.3 274.17,363.2 274.25,361.5 274.33,368.9 274.42,364.0 274.50,366.9 274.58,364.3 274.67,367.9 274.75,365.5 274.83,359.4 274.92,362.7 275.00,365.3 275.08,365.5 275.17,357.1 275.25,360.8 275.33,358.6 275.42,358.8 275.50,364.2 275.58,364.2 275.67,356.2 275.75,359.7 275.83,367.2 275.92,367.8 276.00,366.6 276.08,360.0 276.17,364.4 276.25,367.5 276.33,363.7 276.42,362.5 276.50,361.7 276.58,364.9 276.67,366.9 276.75,369.8 276.83,363.5 276.92,364.2 277.00,358.8 277.08,367.7 277.17,361.7 277.25,368.6 277.33,361.4 277.42,363.6 277.50,366.1 277.58,364.7 277.67,356.1 277.75,363.1 277.83,364.4 277.92,371.9 278.00,368.5 278.08,369.3 278.17,366.3 278.25,369.1 278.33,364.5 278.42,359.7 278.50,361.7 278.58,365.5 278.67,362.1 278.75,363.8 278.83,363.4 278.92,368.8 279.00,355.4 279.08,359.7 279.17,364.5 279.25,363.1 279.33,370.8 279.42,367.1 279.50,364.8 279.58,362.1 279.67,364.5 279.75,363.5 279.83,359.0 279.92,361.0 280.00,365.9 280.08,365.2 280.17,364.3 280.25,369.7 280.33,360.9 280.42,362.9 280.50,366.7 280.58,368.0 280.67,361.6 280.75,365.2 280.83,363.0 280.92,360.8 281.00,364.3 281.08,361.7 281.17,367.2 281.25,365.4 281.33,363.3 281.42,368.0 281.50,368.8 281.58,361.9 281.67,358.7 281.75,361.7 281.83,364.4 281.92,356.2 282.00,357.0 282.08,367.8 282.17,363.9 282.25,365.7 282.33,364.1 282.42,362.2 282.50,365.0 282.58,363.2 282.67,367.4 282.75,363.9 282.83,364.9 282.92,363.2 283.00,360.1 283.08,361.7 283.17,366.1 283.25,360.9 283.33,364.0 283.42,362.1 283.50,362.8 283.58,368.4 283.67,359.8 283.75,360.6 283.83,360.8 283.92,367.9 284.00,365.6 284.08,358.8 284.17,360.9 284.25,362.9 284.33,362.6 284.42,361.6 284.50,366.7 284.58,360.8 284.67,365.1 284.75,363.7 284.83,363.3 284.92,357.8 285.00,360.7 285.08,368.1 285.17,365.4 285.25,358.9 285.33,364.6 285.42,358.2 285.50,366.4 285.58,361.5 285.67,369.3 285.75,368.0 285.83,366.4 285.92,360.2 286.00,364.1 286.08,360.5 286.17,362.1 286.25,361.2 286.33,363.3 286.42,365.8 286.50,366.3 286.58,356.9 286.67,360.5 286.75,359.9 286.83,367.1 286.92,360.5 287.00,365.8 287.08,364.3 287.17,366.6 287.25,362.9 287.33,362.2 287.42,366.6 287.50,367.5 287.58,363.5 287.67,362.7 287.75,362.3 287.83,363.1 287.92,367.1 288.00,361.4 288.08,368.0 288.17,359.7 288.25,364.5 288.33,361.3 288.42,365.1 288.50,371.8 288.58,361.7 288.67,367.9 288.75,359.6 288.83,365.6 288.92,371.8 289.00,365.2 289.08,358.8 289.17,362.4 289.25,364.5 289.33,360.5 289.42,369.3 289.50,366.5 289.58,361.6 289.67,366.5 289.75,365.1 289.83,358.5 289.92,369.6 290.00,367.7 290.08,357.6 290.17,368.2 290.25,363.8 290.33,366.5 290.42,363.7 290.50,359.9 290.58,364.3 290.67,368.9 290.75,357.8 290.83,363.6 290.92,361.6 291.00,365.8 291.08,359.4 291.17,365.4 291.25,362.8 291.33,365.9 291.42,363.8 291.50,360.6 291.58,363.7 291.67,365.1 291.75,364.6 291.83,369.1 291.92,363.0 292.00,365.2 292.08,367.0 292.17,369.2 292.25,362.5 292.33,362.9 292.42,363.5 292.50,361.1 292.58,360.3 292.67,367.0 292.75,365.9 292.83,367.9 292.92,368.8 293.00,361.8 293.08,363.5 293.17,361.7 293.25,363.4 293.33,368.6 293.42,359.8 293.50,368.4 293.58,361.8 293.67,365.9 293.75,370.9 293.83,368.1 293.92,359.8 294.00,364.5 294.08,368.3 294.17,359.9 294.25,357.1 294.33,364.5 294.42,359.8 294.50,359.8 294.58,363.6 294.67,367.7 294.75,365.0 294.83,367.6 294.92,365.2 295.00,365.1 295.08,366.8 295.17,362.4 295.25,363.5 295.33,363.4 295.42,363.0 295.50,360.8 295.58,363.0 295.67,362.9 295.75,367.3 295.83,361.7 295.92,366.6 296.00,362.2 296.08,369.8 296.17,360.8 296.25,355.6 296.33,366.1 296.42,365.5 296.50,365.4 296.58,366.1 296.67,367.7 296.75,362.4 296.83,361.2 296.92,364.5 297.00,361.8 297.08,362.3 297.17,362.4 297.25,367.3 297.33,367.6 297.42,364.5 297.50,367.3 297.58,361.9 297.67,363.7 297.75,366.5 297.83,362.0 297.92,368.7 298.00,363.6 298.08,364.5 298.17,366.8 298.25,359.4 298.33,365.5 298.42,362.8 298.50,358.6 298.58,363.0 298.67,366.1 298.75,357.1 298.83,365.1 298.92,357.3 299.00,361.7 299.08,363.3 299.17,369.0 299.25,364.7 299.33,364.5 299.42,365.9 299.50,366.6 299.58,364.0 299.67,364.6 299.75,365.3 299.83,362.8 299.92,367.4 300.00,359.9 300.08,366.8 300.17,367.2 300.25,361.7 300.33,362.9 300.42,365.0 300.50,362.9 300.58,363.1 300.67,363.2 300.75,363.5 300.83,366.7 300.92,357.3 301.00,366.0 301.08,360.6 301.17,369.3 301.25,365.2 301.33,367.1 301.42,366.0 301.50,364.5 301.58,362.3 301.67,364.4 301.75,367.7 301.83,362.4 301.92,363.0 302.00,362.7 302.08,364.6 302.17,363.2 302.25,367.0 302.33,360.4 302.42,360.8 302.50,363.0 302.58,367.1 302.67,366.0 302.75,369.9 302.83,367.5 302.92,361.8 303.00,360.7 303.08,362.9 303.17,362.6 303.25,365.1 303.33,362.7 303.42,362.8 303.50,363.3 303.58,364.7 303.67,366.1 303.75,365.2 303.83,368.0 303.92,365.7 304.00,365.3 304.08,368.2 304.17,371.4 304.25,364.1 304.33,361.4 304.42,360.4 304.50,367.3 304.58,359.0 304.67,365.0 304.75,368.3 304.83,357.8 304.92,365.1 305.00,366.8 305.08,365.5 305.17,365.1 305.25,358.0 305.33,364.3 305.42,359.7 305.50,362.0 305.58,364.7 305.67,366.7 305.75,365.6 305.83,368.3 305.92,361.0 306.00,366.5 306.08,364.5 306.17,362.7 306.25,363.4 306.33,366.8 306.42,368.1 306.50,360.2 306.58,369.4 306.67,361.8 306.75,364.7 306.83,365.4 306.92,363.6 307.00,358.0 307.08,363.2 307.17,366.2 307.25,363.4 307.33,366.4 307.42,364.7 307.50,366.2 307.58,367.2 307.67,371.7 307.75,366.7 307.83,368.9 307.92,364.1 308.00,366.8 308.08,361.0 308.17,367.2 308.25,367.7 308.33,361.2 308.42,366.9 308.50,365.9 308.58,367.6 308.67,365.8 308.75,364.2 308.83,361.4 308.92,364.4 309.00,365.8 309.08,361.2 309.17,362.1 309.25,357.4 309.33,364.1 309.42,366.2 309.50,367.3 309.58,358.7 309.67,364.9 309.75,360.7 309.83,368.6 309.92,361.0 310.00,359.9 310.08,367.7 310.17,361.6 310.25,363.8 310.33,359.0 310.42,370.7 310.50,359.7 310.58,361.4 310.67,361.2 310.75,364.2 310.83,360.0 310.92,363.6 311.00,365.5 311.08,371.5 311.17,370.4 311.25,362.5 311.33,365.3 311.42,363.2 311.50,358.5 311.58,361.3 311.67,363.7 311.75,362.8 311.83,363.9 311.92,367.3 312.00,366.4 312.08,365.3 312.17,362.0 312.25,363.8 312.33,367.5 312.42,366.0 312.50,359.4 312.58,365.7 312.67,363.8 312.75,362.9 312.83,367.0 312.92,364.1 313.00,362.5 313.08,365.1 313.17,361.8 313.25,364.6 313.33,360.5 313.42,366.7 313.50,359.7 313.58,364.8 313.67,360.5 313.75,367.0 313.83,365.9 313.92,362.1 314.00,364.7 314.08,366.6 314.17,361.3 314.25,362.6 314.33,365.9 314.42,357.9 314.50,357.2 314.58,364.4 314.67,362.5 314.75,358.3 314.83,361.3 314.92,365.6 315.00,364.7 315.08,359.7 315.17,367.3 315.25,365.2 315.33,362.9 315.42,366.9 315.50,366.8 315.58,363.3 315.67,361.1 315.75,367.1 315.83,368.4 315.92,365.0 316.00,360.2 316.08,361.9 316.17,370.4 316.25,361.4 316.33,363.4 316.42,364.4 316.50,362.2 316.58,366.2 316.67,366.1 316.75,362.3 316.83,365.7 316.92,366.0 317.00,369.7 317.08,370.8 317.17,360.8 317.25,363.6 317.33,365.6 317.42,367.6 317.50,361.7 317.58,358.9 317.67,367.3 317.75,362.3 317.83,362.8 317.92,363.2 318.00,362.9 318.08,367.7 318.17,357.8 318.25,366.9 318.33,367.9 318.42,364.8 318.50,365.8 318.58,360.6 318.67,365.3 318.75,364.1 318.83,360.7 318.92,363.3 319.00,363.7 319.08,365.6 319.17,363.2 319.25,361.2 319.33,363.4 319.42,361.0 319.50,366.3 319.58,365.6 319.67,366.2 319.75,369.5 319.83,367.8 319.92,364.3 320.00,361.8 320.08,364.7 320.17,371.6 320.25,364.4 320.33,365.6 320.42,363.1 320.50,367.4 320.58,365.3 320.67,367.6 320.75,364.9 320.83,363.2 320.92,371.2 321.00,365.8 321.08,365.6 321.17,365.0 321.25,362.2 321.33,361.4 321.42,366.1 321.50,361.4 321.58,360.8 321.67,361.2 321.75,363.5 321.83,355.9 321.92,364.5 322.00,362.7 322.08,369.6 322.17,365.7 322.25,358.7 322.33,370.3 322.42,364.4 322.50,360.7 322.58,366.3 322.67,360.9 322.75,368.4 322.83,358.5 322.92,360.4 323.00,362.8 323.08,365.2 323.17,366.9 323.25,361.7 323.33,360.1 323.42,360.6 323.50,365.1 323.58,366.7 323.67,357.1 323.75,364.6 323.83,360.6 323.92,364.0 324.00,362.5 324.08,365.7 324.17,367.0 324.25,364.3 324.33,360.6 324.42,366.2 324.50,371.6 324.58,367.1 324.67,366.4 324.75,359.1 324.83,362.1 324.92,365.5 325.00,365.2 325.08,363.5 325.17,357.2 325.25,362.6 325.33,365.9 325.42,371.6 325.50,365.1 325.58,364.5 325.67,368.4 325.75,363.3 325.83,363.7 325.92,365.9 326.00,366.0 326.08,366.7 326.17,367.1 326.25,365.5 326.33,362.8 326.42,363.7 326.50,366.1 326.58,363.0 326.67,361.6 326.75,365.2 326.83,356.0 326.92,366.9 327.00,364.5 327.08,362.2 327.17,362.4 327.25,362.4 327.33,366.6 327.42,361.8 327.50,366.2 327.58,364.7 327.67,356.3 327.75,366.1 327.83,362.1 327.92,371.6 328.00,365.8 328.08,363.4 328.17,359.3 328.25,362.9 328.33,361.9 328.42,362.1 328.50,363.0 328.58,370.1 328.67,366.5 328.75,367.6 328.83,364.9 328.92,360.7 329.00,363.4 329.08,361.4 329.17,364.9 329.25,365.2 329.33,370.2 329.42,360.7 329.50,367.5 329.58,363.6 329.67,365.6 329.75,361.5 329.83,370.4 329.92,365.3 330.00,366.9 330.08,370.4 330.17,364.7 330.25,364.0 330.33,365.8 330.42,362.9 330.50,360.8 330.58,366.8 330.67,365.4 330.75,360.7 330.83,366.6 330.92,361.7 331.00,360.2 331.08,358.1 331.17,364.7 331.25,363.2 331.33,363.3 331.42,367.2 331.50,367.4 331.58,364.6 331.67,358.3 331.75,362.7 331.83,356.2 331.92,358.7 332.00,363.4 332.08,366.0 332.17,368.1 332.25,365.3 332.33,368.7 332.42,368.8 332.50,361.3 332.58,362.7 332.67,364.8 332.75,360.8 332.83,364.4 332.92,362.1 333.00,361.2 333.08,364.1 333.17,368.4 333.25,359.5 333.33,362.3 333.42,363.4 333.50,366.2 333.58,363.9 333.67,359.7 333.75,365.4 333.83,365.8 333.92,366.4 334.00,367.0 334.08,365.6 334.17,357.3 334.25,360.2 334.33,363.4 334.42,364.8 334.50,365.6 334.58,366.1 334.67,361.6 334.75,365.0 334.83,363.4 334.92,365.7 335.00,369.7 335.08,361.9 335.17,366.0 335.25,362.7 335.33,363.8 335.42,362.1 335.50,364.3 335.58,365.7 335.67,358.0 335.75,369.7 335.83,368.4 335.92,370.2 336.00,366.3 336.08,367.2 336.17,363.1 336.25,366.0 336.33,362.4 336.42,369.3 336.50,364.1 336.58,367.5 336.67,364.9 336.75,368.1 336.83,366.2 336.92,360.3 337.00,358.3 337.08,362.9 337.17,363.7 337.25,360.2 337.33,366.9 337.42,367.3 337.50,366.4 337.58,366.3 337.67,365.3 337.75,362.0 337.83,365.9 337.92,358.7 338.00,364.8 338.08,366.8 338.17,358.6 338.25,370.3 338.33,361.2 338.42,367.6 338.50,363.2 338.58,355.9 338.67,362.0 338.75,364.2 338.83,364.0 338.92,362.3 339.00,367.5 339.08,366.1 339.17,365.2 339.25,360.8 339.33,366.0 339.42,368.3 339.50,367.6 339.58,367.8 339.67,365.8 339.75,366.2 339.83,360.3 339.92,366.4 340.00,363.3 340.08,361.1 340.17,365.3 340.25,365.2 340.33,365.9 340.42,361.5 340.50,365.0 340.58,368.3 340.67,366.3 340.75,365.3 340.83,365.5 340.92,363.0 341.00,366.2 341.08,358.3 341.17,361.0 341.25,359.8 341.33,357.1 341.42,366.0 341.50,363.0 341.58,364.1 341.67,364.1 341.75,362.3 341.83,366.1 341.92,361.9 342.00,365.0 342.08,363.3 342.17,361.1 342.25,365.3 342.33,369.2 342.42,367.5 342.50,368.9 342.58,362.1 342.67,369.2 342.75,358.5 342.83,365.0 342.92,365.6 343.00,366.2 343.08,365.8 343.17,363.6 343.25,362.7 343.33,365.3 343.42,363.3 343.50,359.0 343.58,371.0 343.67,363.1 343.75,368.0 343.83,364.3 343.92,362.7 344.00,363.9 344.08,363.4 344.17,362.5 344.25,363.2 344.33,361.9 344.42,365.1 344.50,364.7 344.58,364.9 344.67,359.6 344.75,365.2 344.83,369.3 344.92,360.7 345.00,364.6 345.08,368.2 345.17,364.0 345.25,368.0 345.33,363.1 345.42,357.1 345.50,370.8 345.58,366.9 345.67,359.8 345.75,364.0 345.83,364.2 345.92,360.8 346.00,357.1 346.08,362.0 346.17,365.1 346.25,359.8 346.33,358.5 346.42,367.6 346.50,365.0 346.58,362.9 346.67,366.8 346.75,364.2 346.83,360.2 346.92,364.3 347.00,371.3 347.08,361.8 347.17,366.8 347.25,363.7 347.33,365.7 347.42,365.4 347.50,366.9 347.58,367.8 347.67,363.7 347.75,368.9 347.83,365.5 347.92,360.6 348.00,371.6 348.08,365.3 348.17,362.0 348.25,366.5 348.33,366.0 348.42,369.5 348.50,369.1 348.58,366.3 348.67,366.0 348.75,367.1 348.83,367.2 348.92,367.0 349.00,366.9 349.08,362.4 349.17,367.7 349.25,368.0 349.33,367.6 349.42,362.5 349.50,364.4 349.58,356.5 349.67,357.4 349.75,364.7 349.83,365.9 349.92,364.1 350.00,365.1 350.08,366.6 350.17,362.0 350.25,366.5 350.33,367.2 350.42,362.4 350.50,367.3 350.58,362.8 350.67,364.8 350.75,364.5 350.83,364.2 350.92,357.5 351.00,369.5 351.08,360.2 351.17,365.2 351.25,363.8 351.33,364.4 351.42,361.6 351.50,363.8 351.58,364.7 351.67,366.3 351.75,367.8 351.83,364.9 351.92,362.8 352.00,365.8 352.08,365.5 352.17,366.9 352.25,362.1 352.33,366.0 352.42,358.2 352.50,367.0 352.58,364.1 352.67,367.9 352.75,365.1 352.83,367.4 352.92,368.5 353.00,360.6 353.08,360.2 353.17,366.9 353.25,365.7 353.33,361.5 353.42,362.4 353.50,362.2 353.58,366.0 353.67,360.7 353.75,356.4 353.83,362.8 353.92,359.4 354.00,365.8 354.08,365.4 354.17,360.9 354.25,366.1 354.33,366.4 354.42,363.4 354.50,361.7 354.58,359.9 354.67,365.1 354.75,360.0 354.83,367.5 354.92,365.4 355.00,371.6 355.08,360.5 355.17,366.6 355.25,362.2 355.33,365.6 355.42,362.3 355.50,363.3 355.58,366.4 355.67,360.2 355.75,362.5 355.83,360.9 355.92,365.0 356.00,365.7 356.08,366.2 356.17,359.4 356.25,359.7 356.33,365.0 356.42,364.7 356.50,361.3 356.58,364.7 356.67,365.0 356.75,362.8 356.83,371.6 356.92,361.6 357.00,367.5 357.08,364.4 357.17,364.5 357.25,361.4 357.33,363.0 357.42,363.4 357.50,362.8 357.58,365.8 357.67,366.4 357.75,364.6 357.83,366.4 357.92,363.5 358.00,361.9 358.08,362.0 358.17,361.5 358.25,362.8 358.33,363.1 358.42,365.3 358.50,363.0 358.58,364.1 358.67,366.7 358.75,363.8 358.83,360.5 358.92,364.3 359.00,364.9 359.08,366.3 359.17,366.5 359.25,365.8 359.33,365.7 359.42,366.6 359.50,369.7 359.58,364.6 359.67,363.2 359.75,369.9 359.83,366.4 359.92,361.8 360.00,364.4 360.08,362.8 360.17,368.5 360.25,361.7 360.33,362.6 360.42,361.2 360.50,359.5 360.58,366.8 360.67,357.4 360.75,366.0 360.83,363.0 360.92,367.7 361.00,363.8 361.08,368.3 361.17,368.7 361.25,369.2 361.33,366.3 361.42,366.3 361.50,366.6 361.58,358.0 361.67,370.5 361.75,364.1 361.83,363.8 361.92,365.3 362.00,366.2 362.08,364.5 362.17,361.9 362.25,362.8 362.33,368.1 362.42,364.8 362.50,363.2 362.58,361.8 362.67,361.2 362.75,362.8 362.83,365.3 362.92,364.2 363.00,359.8 363.08,361.4 363.17,358.3 363.25,364.0 363.33,366.2 363.42,365.4 363.50,369.2 363.58,362.9 363.67,369.6 363.75,360.8 363.83,364.9 363.92,363.0 364.00,364.5 364.08,366.1 364.17,361.9 364.25,358.2 364.33,361.3 364.42,362.5 364.50,361.5 364.58,369.2 364.67,362.9 364.75,361.8 364.83,366.3 364.92,365.1 365.00,363.0 365.08,362.6 365.17,365.6 365.25,365.1 365.33,366.3 365.42,365.7 365.50,360.7 365.58,366.6 365.67,359.0 365.75,359.3 365.83,358.9 365.92,362.7 366.00,370.0 366.08,363.9 366.17,364.2 366.25,363.2 366.33,368.0 366.42,358.3 366.50,365.2 366.58,366.1 366.67,368.8 366.75,364.3 366.83,363.4 366.92,363.1 367.00,359.1 367.08,363.3 367.17,364.4 367.25,365.6 367.33,366.5 367.42,359.9 367.50,361.0 367.58,365.3 367.67,360.2 367.75,369.9 367.83,359.7 367.92,363.6 368.00,361.6 368.08,366.3 368.17,361.9 368.25,364.9 368.33,363.4 368.42,362.8 368.50,364.9 368.58,367.7 368.67,365.7 368.75,363.5 368.83,360.2 368.92,361.8 369.00,359.1 369.08,367.3 369.17,360.9 369.25,365.9 369.33,367.9 369.42,370.4 369.50,367.5 369.58,361.8 369.67,364.6 369.75,363.4 369.83,360.3 369.92,358.1 370.00,367.6 370.08,363.2 370.17,366.0 370.25,365.6 370.33,363.3 370.42,363.7 370.50,367.7 370.58,368.2 370.67,368.0 370.75,364.9 370.83,366.0 370.92,363.7 371.00,359.3 371.08,367.5 371.17,360.7 371.25,362.9 371.33,360.7 371.42,365.2 371.50,369.4 371.58,368.4 371.67,363.2 371.75,368.2 371.83,359.5 371.92,363.7 372.00,361.3 372.08,363.0 372.17,365.8 372.25,359.4 372.33,368.4 372.42,367.6 372.50,366.5 372.58,364.4 372.67,366.9 372.75,367.8 372.83,363.5 372.92,359.2 373.00,362.8 373.08,364.2 373.17,358.5 373.25,365.8 373.33,363.1 373.42,363.1 373.50,365.7 373.58,362.0 373.67,361.4 373.75,365.5 373.83,361.6 373.92,367.0 374.00,362.2 374.08,359.9 374.17,366.6 374.25,362.9 374.33,361.5 374.42,367.1 374.50,359.3 374.58,361.4 374.67,366.4 374.75,363.9 374.83,366.8 374.92,362.1 375.00,365.5 375.08,363.2 375.17,368.7 375.25,367.7 375.33,368.6 375.42,367.0 375.50,365.3 375.58,365.0 375.67,363.3 375.75,365.4 375.83,362.2 375.92,364.0 376.00,359.1 376.08,365.9 376.17,364.6 376.25,363.8 376.33,363.2 376.42,364.6 376.50,361.9 376.58,362.1 376.67,368.4 376.75,357.3 376.83,366.4 376.92,361.3 377.00,365.4 377.08,360.6 377.17,362.9 377.25,369.4 377.33,361.2 377.42,362.1 377.50,365.2 377.58,363.6 377.67,362.2 377.75,358.0 377.83,362.1 377.92,362.0 378.00,365.8 378.08,364.9 378.17,358.9 378.25,364.6 378.33,366.8 378.42,366.9 378.50,365.0 378.58,369.7 378.67,359.6 378.75,359.2 378.83,369.4 378.92,363.9 379.00,365.6 379.08,363.0 379.17,363.8 379.25,371.4 379.33,369.4 379.42,368.4 379.50,363.8 379.58,364.5 379.67,358.0 379.75,360.2 379.83,364.1 379.92,364.8 380.00,363.8 380.08,365.6 380.17,368.7 380.25,365.5 380.33,361.6 380.42,365.6 380.50,364.2 380.58,367.1 380.67,365.3 380.75,362.2 380.83,365.0 380.92,369.6 381.00,371.5 381.08,369.0 381.17,362.9 381.25,364.9 381.33,365.7 381.42,362.1 381.50,364.9 381.58,361.9 381.67,357.9 381.75,364.3 381.83,363.1 381.92,370.6 382.00,367.0 382.08,362.7 382.17,362.2 382.25,362.3 382.33,371.5 382.42,368.1 382.50,355.9 382.58,360.4 382.67,368.4 382.75,362.9 382.83,360.2 382.92,365.9 383.00,364.9 383.08,365.4 383.17,365.1 383.25,364.1 383.33,364.9 383.42,362.8 383.50,367.9 383.58,360.5 383.67,367.4 383.75,364.6 383.83,360.4 383.92,367.2 384.00,364.5 384.08,367.5 384.17,371.5 384.25,363.8 384.33,363.0 384.42,360.6 384.50,360.0 384.58,361.5 384.67,367.3 384.75,367.7 384.83,361.4 384.92,368.1 385.00,367.8 385.08,362.5 385.17,362.2 385.25,363.7 385.33,360.9 385.42,360.2 385.50,364.9 385.58,363.1 385.67,357.6 385.75,361.0 385.83,363.1 385.92,371.3 386.00,366.3 386.08,364.8 386.17,363.7 386.25,365.9 386.33,363.1 386.42,361.7 386.50,371.1 386.58,359.6 386.67,364.2 386.75,371.5 386.83,367.6 386.92,369.2 387.00,358.1 387.08,369.7 387.17,367.1 387.25,360.0 387.33,371.5 387.42,369.9 387.50,362.0 387.58,364.0 387.67,365.6 387.75,360.0 387.83,363.1 387.92,367.3 388.00,364.4 388.08,364.1 388.17,364.9 388.25,365.2 388.33,365.5 388.42,361.4 388.50,371.3 388.58,366.3 388.67,365.5 388.75,362.7 388.83,361.5 388.92,366.5 389.00,357.4 389.08,360.8 389.17,363.0 389.25,368.6 389.33,363.9 389.42,366.6 389.50,361.8 389.58,362.7 389.67,361.8 389.75,364.8 389.83,360.0 389.92,363.3 390.00,360.3 390.08,366.6 390.17,366.5 390.25,365.8 390.33,361.3 390.42,361.0 390.50,360.7 390.58,366.5 390.67,363.4 390.75,364.8 390.83,367.1 390.92,370.5 391.00,364.8 391.08,364.2 391.17,362.5 391.25,367.7 391.33,362.0 391.42,370.1 391.50,363.5 391.58,363.4 391.67,365.3 391.75,366.6 391.83,364.2 391.92,365.3 392.00,360.4 392.08,366.0 392.17,362.3 392.25,364.0 392.33,363.3 392.42,365.6 392.50,365.7 392.58,360.0 392.67,367.9 392.75,360.2 392.83,356.7 392.92,363.7 393.00,370.7 393.08,358.1 393.17,362.8 393.25,364.0 393.33,363.5 393.42,364.2 393.50,364.3 393.58,364.5 393.67,363.4 393.75,365.9 393.83,362.1 393.92,361.6 394.00,360.3 394.08,361.4 394.17,358.1 394.25,363.9 394.33,364.1 394.42,366.1 394.50,361.8 394.58,366.1 394.67,363.7 394.75,368.3 394.83,365.1 394.92,365.1 395.00,362.3 395.08,366.9 395.17,363.0 395.25,368.6 395.33,366.7 395.42,361.8 395.50,364.3 395.58,365.5 395.67,368.8 395.75,365.6 395.83,364.8 395.92,368.1 396.00,361.9 396.08,361.2 396.17,361.0 396.25,365.3 396.33,360.4 396.42,369.9 396.50,364.9 396.58,366.7 396.67,365.4 396.75,362.2 396.83,362.4 396.92,362.0 397.00,366.6 397.08,364.0 397.17,356.8 397.25,365.1 397.33,367.8 397.42,366.4 397.50,364.8 397.58,369.2 397.67,364.8 397.75,366.9 397.83,364.8 397.92,365.7 398.00,364.9 398.08,359.9 398.17,364.8 398.25,365.5 398.33,364.7 398.42,367.0 398.50,367.1 398.58,360.3 398.67,366.4 398.75,371.0 398.83,365.4 398.92,365.5 399.00,360.5 399.08,365.7 399.17,367.2 399.25,371.5 399.33,368.7 399.42,368.1 399.50,364.2 399.58,363.6 399.67,365.5 399.75,362.6 399.83,366.2 399.92,368.3 400.00,363.5 400.08,366.7 400.17,364.4 400.25,366.3 400.33,363.0 400.42,362.1 400.50,366.2 400.58,363.0 400.67,366.2 400.75,365.9 400.83,361.2 400.92,364.2 401.00,366.8 401.08,369.0 401.17,366.7 401.25,364.8 401.33,362.7 401.42,361.0 401.50,365.6 401.58,366.0 401.67,366.1 401.75,366.0 401.83,368.0 401.92,363.0 402.00,365.5 402.08,368.3 402.17,362.0 402.25,365.0 402.33,365.3 402.42,360.5 402.50,359.4 402.58,360.2 402.67,366.4 402.75,363.9 402.83,361.2 402.92,361.3 403.00,363.6 403.08,368.4 403.17,370.0 403.25,365.3 403.33,363.5 403.42,365.5 403.50,363.1 403.58,362.5 403.67,360.5 403.75,361.1 403.83,365.0 403.92,363.3 404.00,364.3 404.08,368.0 404.17,361.3 404.25,366.3 404.33,362.2 404.42,360.8 404.50,369.7 404.58,362.0 404.67,363.3 404.75,364.1 404.83,367.1 404.92,364.2 405.00,367.7 405.08,360.3 405.17,364.9 405.25,361.7 405.33,364.9 405.42,364.5 405.50,361.7 405.58,366.2 405.67,364.3 405.75,367.0 405.83,364.0 405.92,362.9 406.00,361.3 406.08,360.9 406.17,352.9 406.25,364.8 406.33,364.3 406.42,361.8 406.50,365.4 406.58,364.4 406.67,361.4 406.75,366.2 406.83,366.1 406.92,366.2 407.00,365.7 407.08,368.3 407.17,364.9 407.25,368.8 407.33,368.8 407.42,367.4 407.50,366.2 407.58,360.3 407.67,366.7 407.75,364.4 407.83,370.2 407.92,366.4 408.00,364.1 408.08,354.4 408.17,360.8 408.25,362.6 408.33,363.6 408.42,366.4 408.50,366.4 408.58,362.7 408.67,358.2 408.75,362.1 408.83,366.9 408.92,365.9 409.00,367.0 409.08,363.9 409.17,365.5 409.25,368.9 409.33,371.4 409.42,362.4 409.50,364.8 409.58,371.4 409.67,363.1 409.75,368.5 409.83,365.5 409.92,359.8 410.00,361.3 410.08,365.6 410.17,366.3 410.25,365.8 410.33,364.2 410.42,364.5 410.50,363.6 410.58,359.5 410.67,370.5 410.75,366.4 410.83,369.9 410.92,361.2 411.00,365.6 411.08,360.1 411.17,362.6 411.25,370.3 411.33,361.1 411.42,361.0 411.50,366.9 411.58,367.8 411.67,363.2 411.75,364.0 411.83,363.4 411.92,357.8 412.00,364.5 412.08,362.7 412.17,366.1 412.25,365.5 412.33,359.1 412.42,363.5 412.50,362.8 412.58,366.5 412.67,365.8 412.75,364.9 412.83,363.9 412.92,365.2 413.00,365.7 413.08,362.3 413.17,363.2 413.25,360.6 413.33,361.5 413.42,368.9 413.50,365.3 413.58,365.5 413.67,364.6 413.75,358.1 413.83,362.9 413.92,368.1 414.00,366.2 414.08,363.0 414.17,365.3 414.25,362.8 414.33,368.4 414.42,363.6 414.50,369.1 414.58,362.5 414.67,360.8 414.75,364.3 414.83,365.1 414.92,357.1 415.00,362.8 415.08,362.3 415.17,362.0 415.25,363.4 415.33,361.5 415.42,362.6 415.50,364.8 415.58,362.5 415.67,369.1 415.75,360.7 415.83,360.9 415.92,359.8 416.00,365.5 416.08,360.3 416.17,370.7 416.25,367.1 416.33,364.4 416.42,362.0 416.50,364.9 416.58,362.4 416.67,363.7 416.75,369.0 416.83,364.4 416.92,366.6 417.00,365.9 417.08,368.4 417.17,363.1 417.25,369.2 417.33,371.4 417.42,362.8 417.50,367.0 417.58,363.9 417.67,365.4 417.75,363.3 417.83,363.0 417.92,364.5 418.00,363.3 418.08,364.1 418.17,362.2 418.25,358.8 418.33,369.1 418.42,364.3 418.50,362.7 418.58,360.4 418.67,367.7 418.75,362.1 418.83,363.7 418.92,363.7 419.00,370.5 419.08,363.6 419.17,366.9 419.25,362.5 419.33,364.6 419.42,371.2 419.50,363.7 419.58,365.4 419.67,360.6 419.75,361.2 419.83,365.0 419.92,366.5 420.00,366.0 420.08,363.2 420.17,364.2 420.25,367.4 420.33,363.1 420.42,365.0 420.50,364.9 420.58,362.5 420.67,362.0 420.75,365.5 420.83,366.4 420.92,368.0 421.00,363.2 421.08,365.6 421.17,368.5 421.25,366.9 421.33,361.0 421.42,363.2 421.50,362.5 421.58,366.7 421.67,362.5 421.75,367.8 421.83,366.0 421.92,360.7 422.00,361.6 422.08,366.6 422.17,364.9 422.25,364.9 422.33,362.5 422.42,363.6 422.50,364.1 422.58,365.5 422.67,367.4 422.75,361.9 422.83,368.1 422.92,365.7 423.00,362.1 423.08,368.2 423.17,363.4 423.25,368.9 423.33,365.6 423.42,367.0 423.50,365.8 423.58,366.7 423.67,359.4 423.75,365.5 423.83,366.2 423.92,365.0 424.00,357.5 424.08,370.3 424.17,370.5 424.25,362.5 424.33,362.6 424.42,361.6 424.50,368.2 424.58,362.6 424.67,361.7 424.75,360.5 424.83,362.0 424.92,363.4 425.00,359.5 425.08,363.4 425.17,365.6 425.25,361.5 425.33,363.9 425.42,366.1 425.50,366.3 425.58,366.3 425.67,361.6 425.75,366.3 425.83,363.1 425.92,364.4 426.00,366.4 426.08,365.3 426.17,365.1 426.25,365.7 426.33,362.6 426.42,359.5 426.50,367.8 426.58,362.7 426.67,365.1 426.75,359.5 426.83,370.8 426.92,365.1 427.00,363.5 427.08,366.8 427.17,365.4 427.25,363.1 427.33,356.9 427.42,369.3 427.50,368.7 427.58,362.5 427.67,368.0 427.75,368.6 427.83,363.6 427.92,368.6 428.00,359.4 428.08,363.9 428.17,363.7 428.25,363.1 428.33,366.7 428.42,365.0 428.50,362.4 428.58,362.0 428.67,362.3 428.75,363.4 428.83,360.1 428.92,363.9 429.00,366.9 429.08,365.7 429.17,358.8 429.25,360.4 429.33,364.0 429.42,366.4 429.50,371.4 429.58,364.2 429.67,366.2 429.75,360.6 429.83,364.6 429.92,361.7 430.00,364.5 430.08,367.9 430.17,363.2 430.25,369.9 430.33,365.8 430.42,365.9 430.50,365.6 430.58,363.1 430.67,367.5 430.75,362.4 430.83,364.8 430.92,365.6 431.00,362.5 431.08,367.3 431.17,364.3 431.25,367.8 431.33,365.8 431.42,359.2 431.50,363.1 431.58,363.3 431.67,361.1 431.75,366.3 431.83,361.1 431.92,366.5 432.00,366.9 432.08,363.7 432.17,362.7 432.25,362.6 432.33,361.0 432.42,365.2 432.50,361.8 432.58,368.8 432.67,366.0 432.75,369.3 432.83,362.5 432.92,362.9 433.00,365.8 433.08,370.2 433.17,364.7 433.25,359.2 433.33,362.9 433.42,362.5 433.50,359.2 433.58,361.1 433.67,365.6 433.75,365.2 433.83,357.2 433.92,365.7 434.00,361.0 434.08,365.2 434.17,367.0 434.25,360.8 434.33,363.3 434.42,369.0 434.50,365.3 434.58,366.3 434.67,363.1 434.75,367.5 434.83,358.6 434.92,365.0 435.00,358.6 435.08,365.0 435.17,364.4 435.25,365.6 435.33,362.4 435.42,365.7 435.50,365.4 435.58,366.0 435.67,362.6 435.75,362.6 435.83,363.5 435.92,362.4 436.00,365.6 436.08,364.0 436.17,365.7 436.25,366.6 436.33,364.3 436.42,367.0 436.50,365.5 436.58,358.2 436.67,370.9 436.75,367.5 436.83,362.1 436.92,370.6 437.00,361.8 437.08,364.5 437.17,366.6 437.25,364.4 437.33,364.0 437.42,367.3 437.50,366.2 437.58,368.7 437.67,366.1 437.75,361.6 437.83,365.5 437.92,369.8 438.00,364.8 438.08,369.1 438.17,368.3 438.25,364.4 438.33,360.0 438.42,362.8 438.50,361.6 438.58,365.2 438.67,363.6 438.75,363.8 438.83,366.8 438.92,368.5 439.00,365.1 439.08,370.8 439.17,359.6 439.25,365.7 439.33,371.4 439.42,364.4 439.50,362.6 439.58,362.0 439.67,364.9 439.75,365.9 439.83,367.9 439.92,359.0 440.00,362.5 440.08,363.9 440.17,364.8 440.25,362.9 440.33,368.0 440.42,364.9 440.50,361.9 440.58,363.8 440.67,366.6 440.75,366.7 440.83,367.1 440.92,365.1 441.00,366.0 441.08,361.5 441.17,364.2 441.25,363.9 441.33,367.1 441.42,357.2 441.50,362.9 441.58,365.0 441.67,361.0 441.75,360.7 441.83,365.2 441.92,365.5 442.00,361.7 442.08,366.9 442.17,365.6 442.25,364.3 442.33,363.9 442.42,357.6 442.50,370.5 442.58,367.3 442.67,366.3 442.75,364.2 442.83,367.0 442.92,362.0 443.00,361.7 443.08,363.7 443.17,369.5 443.25,363.4 443.33,365.3 443.42,361.2 443.50,367.7 443.58,362.0 443.67,362.9 443.75,364.2 443.83,360.5 443.92,362.2 444.00,364.8 444.08,363.8 444.17,367.6 444.25,360.5 444.33,362.9 444.42,366.4 444.50,367.9 444.58,367.9 444.67,366.0 444.75,365.6 444.83,366.9 444.92,369.2 445.00,358.6 445.08,364.6 445.17,359.9 445.25,360.1 445.33,358.0 445.42,363.1 445.50,371.0 445.58,364.4 445.67,363.6 445.75,361.8 445.83,364.5 445.92,368.1 446.00,360.6 446.08,364.3 446.17,365.9 446.25,366.3 446.33,361.7 446.42,362.9 446.50,365.0 446.58,361.9 446.67,366.3 446.75,365.5 446.83,369.8 446.92,362.9 447.00,367.1 447.08,360.7 447.17,363.5 447.25,359.1 447.33,364.6 447.42,362.4 447.50,368.4 447.58,364.0 447.67,364.9 447.75,359.9 447.83,363.6 447.92,366.1 448.00,363.9 448.08,366.1 448.17,361.5 448.25,359.9 448.33,363.9 448.42,370.7 448.50,364.4 448.58,366.5 448.67,362.5 448.75,362.0 448.83,358.9 448.92,363.2 449.00,367.2 449.08,362.4 449.17,364.1 449.25,368.4 449.33,368.0 449.42,365.3 449.50,366.3 449.58,369.1 449.67,363.1 449.75,360.0 449.83,364.4 449.92,365.5 450.00,366.8 450.08,359.5 450.17,362.6 450.25,363.1 450.33,364.3 450.42,369.9 450.50,365.1 450.58,363.8 450.67,362.2 450.75,369.9 450.83,363.5 450.92,359.2 451.00,361.3 451.08,364.6 451.17,362.0 451.25,364.8 451.33,364.0 451.42,365.4 451.50,364.0 451.58,363.3 451.67,367.9 451.75,362.3 451.83,361.7 451.92,365.5 452.00,367.8 452.08,358.6 452.17,366.2 452.25,367.8 452.33,363.8 452.42,363.2 452.50,364.0 452.58,366.1 452.67,363.7 452.75,363.9 452.83,364.2 452.92,365.3 453.00,365.2 453.08,367.8 453.17,364.8 453.25,362.3 453.33,357.3 453.42,359.6 453.50,366.4 453.58,361.6 453.67,363.8 453.75,364.6 453.83,367.3 453.92,360.1 454.00,369.4 454.08,361.5 454.17,360.9 454.25,368.9 454.33,364.2 454.42,366.9 454.50,362.9 454.58,366.9 454.67,363.1 454.75,365.9 454.83,365.7 454.92,363.1 455.00,369.0 455.08,365.9 455.17,366.1 455.25,366.9 455.33,362.7 455.42,364.4 455.50,367.1 455.58,358.8 455.67,367.0 455.75,367.0 455.83,364.6 455.92,364.6 456.00,361.2 456.08,367.0 456.17,360.4 456.25,366.5 456.33,360.2 456.42,364.3 456.50,359.5 456.58,366.6 456.67,364.3 456.75,363.7 456.83,362.5 456.92,360.7 457.00,361.4 457.08,364.2 457.17,365.4 457.25,367.2 457.33,363.2 457.42,358.8 457.50,363.6 457.58,360.3 457.67,367.8 457.75,363.8 457.83,362.9 457.92,358.9 458.00,366.0 458.08,366.2 458.17,359.2 458.25,368.2 458.33,362.0 458.42,362.4 458.50,365.1 458.58,357.0 458.67,368.0 458.75,367.1 458.83,366.7 458.92,363.3 459.00,368.8 459.08,360.5 459.17,362.8 459.25,358.8 459.33,367.0 459.42,362.3 459.50,365.9 459.58,360.5 459.67,368.3 459.75,363.0 459.83,367.5 459.92,366.9 460.00,362.6 460.08,363.4 460.17,364.3 460.25,367.1 460.33,362.2 460.42,359.9 460.50,368.4 460.58,367.5 460.67,359.2 460.75,363.8 460.83,364.5 460.92,365.4 461.00,363.2 461.08,366.3 461.17,366.1 461.25,366.1 461.33,368.8 461.42,367.2 461.50,365.9 461.58,363.6 461.67,363.5 461.75,364.8 461.83,365.2 461.92,365.7 462.00,368.5 462.08,363.8 462.17,364.4 462.25,367.0 462.33,366.5 462.42,362.6 462.50,369.4 462.58,366.1 462.67,364.1 462.75,362.2 462.83,366.5 462.92,361.3 463.00,364.8 463.08,368.7 463.17,366.3 463.25,367.4 463.33,369.3 463.42,363.4 463.50,364.3 463.58,365.5 463.67,365.3 463.75,365.0 463.83,367.9 463.92,362.0 464.00,363.3 464.08,364.3 464.17,364.0 464.25,358.1 464.33,362.5 464.42,370.3 464.50,363.7 464.58,371.3 464.67,357.8 464.75,365.2 464.83,363.4 464.92,366.4 465.00,368.0 465.08,369.2 465.17,365.0 465.25,363.2 465.33,367.0 465.42,363.6 465.50,362.6 465.58,363.1 465.67,361.4 465.75,361.3 465.83,368.7 465.92,365.3 466.00,366.3 466.08,362.9 466.17,365.6 466.25,366.0 466.33,365.4 466.42,362.8 466.50,363.9 466.58,366.6 466.67,357.5 466.75,362.2 466.83,366.2 466.92,364.0 467.00,361.6 467.08,364.5 467.17,362.2 467.25,364.3 467.33,365.4 467.42,360.9 467.50,367.1 467.58,369.2 467.67,362.6 467.75,360.3 467.83,364.7 467.92,363.6 468.00,363.6 468.08,364.0 468.17,365.7 468.25,359.1 468.33,366.2 468.42,367.5 468.50,364.4 468.58,362.6 468.67,359.0 468.75,365.8 468.83,363.9 468.92,361.7 469.00,367.4 469.08,365.8 469.17,361.9 469.25,365.8 469.33,366.0 469.42,367.2 469.50,368.7 469.58,367.0 469.67,370.2 469.75,363.8 469.83,363.9 469.92,364.6 470.00,366.1 470.08,364.8 470.17,360.4 470.25,360.7 470.33,363.8 470.42,362.4 470.50,366.1 470.58,369.9 470.67,364.4 470.75,361.2 470.83,363.7 470.92,367.9 471.00,363.8 471.08,366.1 471.17,367.8 471.25,364.0 471.33,369.3 471.42,362.4 471.50,362.1 471.58,364.9 471.67,366.5 471.75,358.8 471.83,364.6 471.92,365.0 472.00,366.8 472.08,363.3 472.17,366.2 472.25,361.3 472.33,362.3 472.42,364.2 472.50,364.1 472.58,370.0 472.67,364.3 472.75,368.6 472.83,361.8 472.92,362.8 473.00,363.4 473.08,366.6 473.17,365.5 473.25,367.7 473.33,361.5 473.42,364.8 473.50,363.1 473.58,362.8 473.67,362.9 473.75,368.9 473.83,362.8 473.92,365.2 474.00,364.0 474.08,364.2 474.17,366.7 474.25,371.3 474.33,360.8 474.42,363.4 474.50,362.1 474.58,366.7 474.67,365.4 474.75,366.4 474.83,365.1 474.92,363.6 475.00,357.6 475.08,364.3 475.17,361.9 475.25,366.1 475.33,367.7 475.42,360.9 475.50,365.6 475.58,362.0 475.67,358.7 475.75,364.4 475.83,368.1 475.92,367.3 476.00,365.4 476.08,361.8 476.17,368.6 476.25,363.2 476.33,360.3 476.42,362.3 476.50,365.8 476.58,362.5 476.67,365.2 476.75,363.9 476.83,367.7 476.92,364.6 477.00,364.5 477.08,360.3 477.17,367.4 477.25,367.5 477.33,361.0 477.42,365.4 477.50,363.5 477.58,363.4 477.67,366.0 477.75,365.3 477.83,363.1 477.92,361.8 478.00,363.3 478.08,366.2 478.17,362.9 478.25,370.7 478.33,364.8 478.42,361.6 478.50,365.5 478.58,371.3 478.67,368.6 478.75,364.2 478.83,361.8 478.92,368.0 479.00,362.1 479.08,365.3 479.17,366.3 479.25,362.0 479.33,363.8 479.42,362.5 479.50,362.3 479.58,358.8 479.67,368.6 479.75,364.2 479.83,361.0 479.92,365.3 480.00,364.9 480.08,365.8 480.17,363.4 480.25,367.6 480.33,359.7 480.42,365.5 480.50,371.1 480.58,366.3 480.67,361.7 480.75,363.4 480.83,365.7 480.92,361.9 481.00,359.3 481.08,362.9 481.17,360.3 481.25,365.1 481.33,358.3 481.42,362.5 481.50,370.4 481.58,364.8 481.67,367.9 481.75,365.8 481.83,359.0 481.92,363.4 482.00,362.6 482.08,366.3 482.17,360.1 482.25,365.8 482.33,361.4 482.42,367.4 482.50,365.9 482.58,366.3 482.67,370.0 482.75,364.1 482.83,365.1 482.92,361.9 483.00,363.8 483.08,362.1 483.17,365.7 483.25,362.2 483.33,364.9 483.42,369.6 483.50,363.3 483.58,364.8 483.67,362.0 483.75,367.7 483.83,367.6 483.92,366.5 484.00,366.9 484.08,368.3 484.17,364.9 484.25,362.8 484.33,365.4 484.42,359.5 484.50,361.9 484.58,361.4 484.67,362.6 484.75,366.5 484.83,359.2 484.92,367.4 485.00,360.5 485.08,366.8 485.17,360.9 485.25,364.7 485.33,355.2 485.42,366.6 485.50,364.5 485.58,358.4 485.67,367.7 485.75,363.6 485.83,359.4 485.92,360.4 486.00,366.4 486.08,363.9 486.17,360.6 486.25,364.9 486.33,363.9 486.42,362.3 486.50,365.4 486.58,359.3 486.67,364.8 486.75,364.0 486.83,365.8 486.92,362.9 487.00,363.6 487.08,365.9 487.17,366.4 487.25,367.1 487.33,365.0 487.42,367.5 487.50,361.3 487.58,368.3 487.67,370.4 487.75,362.7 487.83,361.6 487.92,362.4 488.00,366.9 488.08,365.7 488.17,359.6 488.25,360.3 488.33,366.3 488.42,363.5 488.50,361.9 488.58,362.3 488.67,362.7 488.75,359.2 488.83,361.6 488.92,363.9 489.00,366.3 489.08,366.5 489.17,360.7 489.25,366.4 489.33,361.2 489.42,368.9 489.50,366.7 489.58,369.2 489.67,365.2 489.75,361.6 489.83,366.7 489.92,364.7 490.00,364.4 490.08,361.6 490.17,369.4 490.25,365.7 490.33,367.5 490.42,367.5 490.50,363.9 490.58,368.4 490.67,365.2 490.75,366.5 490.83,362.9 490.92,366.9 491.00,362.9 491.08,369.2 491.17,364.3 491.25,360.0 491.33,369.1 491.42,361.8 491.50,363.9 491.58,365.0 491.67,365.4 491.75,365.4 491.83,366.1 491.92,368.5 492.00,362.0 492.08,365.3 492.17,366.3 492.25,365.2 492.33,363.0 492.42,367.6 492.50,363.1 492.58,365.3 492.67,365.4 492.75,367.0 492.83,363.3 492.92,364.4 493.00,366.3 493.08,363.4 493.17,367.4 493.25,365.9 493.33,364.1 493.42,361.9 493.50,364.8 493.58,365.9 493.67,362.9 493.75,366.8 493.83,364.6 493.92,367.7 494.00,364.5 494.08,360.4 494.17,364.6 494.25,361.3 494.33,365.8 494.42,365.5 494.50,359.0 494.58,363.1 494.67,365.4 494.75,366.7 494.83,366.6 494.92,365.8 495.00,361.2 495.08,361.0 495.17,369.6 495.25,361.6 495.33,367.2 495.42,367.1 495.50,362.9 495.58,364.8 495.67,365.0 495.75,365.5 495.83,362.7 495.92,363.7 496.00,361.9 496.08,365.4 496.17,366.4 496.25,364.5 496.33,368.1 496.42,366.6 496.50,362.8 496.58,361.7 496.67,364.3 496.75,365.6 496.83,363.3 496.92,365.2 497.00,366.0 497.08,362.5 497.17,364.0 497.25,367.0 497.33,362.5 497.42,364.4 497.50,366.1 497.58,366.9 497.67,363.2 497.75,358.3 497.83,358.5 497.92,365.0 498.00,365.7 498.08,360.9 498.17,366.0 498.25,364.7 498.33,361.3 498.42,362.5 498.50,367.8 498.58,365.0 498.67,367.0 498.75,364.0 498.83,365.7 498.92,366.2 499.00,370.2 499.08,368.6 499.17,362.7 499.25,366.4 499.33,363.7 499.42,364.9 499.50,364.3 499.58,366.2 499.67,365.2 499.75,360.7 499.83,364.7 499.92,365.8 500.00,363.0 500.08,364.4 500.17,365.8 500.25,363.4 500.33,370.7 500.42,363.9 500.50,362.7 500.58,359.8 500.67,369.0 500.75,368.2 500.83,371.3 500.92,363.0 501.00,364.5 501.08,364.5 501.17,368.4 501.25,360.6 501.33,364.3 501.42,360.6 501.50,362.0 501.58,360.3 501.67,365.9 501.75,362.2 501.83,364.0 501.92,357.9 502.00,367.8 502.08,364.2 502.17,365.8 502.25,364.8 502.33,363.6 502.42,364.7 502.50,367.8 502.58,365.5 502.67,362.0 502.75,366.9 502.83,358.7 502.92,367.1 503.00,360.2 503.08,366.4 503.17,366.8 503.25,361.0 503.33,360.6 503.42,367.9 503.50,362.1 503.58,362.1 503.67,363.8 503.75,362.7 503.83,363.2 503.92,363.0 504.00,361.3 504.08,365.2 504.17,364.8 504.25,362.5 504.33,367.3 504.42,366.3 504.50,366.9 504.58,364.9 504.67,367.0 504.75,369.5 504.83,363.5 504.92,365.1 505.00,365.1 505.08,365.8 505.17,367.7 505.25,360.9 505.33,367.2 505.42,363.7 505.50,365.1 505.58,364.7 505.67,362.4 505.75,364.1 505.83,366.3 505.92,364.3 506.00,365.9 506.08,364.9 506.17,367.1 506.25,366.5 506.33,368.6 506.42,364.4 506.50,359.5 506.58,362.4 506.67,364.4 506.75,366.3 506.83,364.4 506.92,369.2 507.00,364.3 507.08,364.6 507.17,365.1 507.25,365.1 507.33,366.5 507.42,361.7 507.50,360.7 507.58,364.8 507.67,364.3 507.75,364.9 507.83,360.3 507.92,368.1 508.00,371.3 508.08,365.9 508.17,360.0 508.25,366.4 508.33,366.6 508.42,365.6 508.50,366.1 508.58,365.7 508.67,365.8 508.75,364.7 508.83,369.3 508.92,364.4 509.00,363.2 509.08,366.7 509.17,369.9 509.25,366.8 509.33,361.3 509.42,367.6 509.50,361.2 509.58,362.0 509.67,363.4 509.75,365.3 509.83,362.6 509.92,367.5 510.00,360.1 510.08,363.0 510.17,363.8 510.25,361.3 510.33,360.6 510.42,364.9 510.50,362.9 510.58,370.4 510.67,364.7 510.75,361.6 510.83,365.4 510.92,369.9 511.00,364.2 511.08,364.0 511.17,365.6 511.25,367.0 511.33,364.7 511.42,366.1 511.50,367.5 511.58,363.8 511.67,359.2 511.75,367.7 511.83,363.8 511.92,366.1 512.00,364.4 512.08,365.4 512.17,367.5 512.25,361.1 512.33,369.9 512.42,365.6 512.50,360.9 512.58,364.0 512.67,360.8 512.75,367.8 512.83,362.3 512.92,365.8 513.00,366.4 513.08,364.6 513.17,359.8 513.25,364.9 513.33,367.1 513.42,363.4 513.50,364.7 513.58,364.4 513.67,362.6 513.75,362.6 513.83,366.3 513.92,366.7 514.00,366.3 514.08,363.5 514.17,364.6 514.25,366.3 514.33,359.6 514.42,363.5 514.50,364.1 514.58,361.7 514.67,363.6 514.75,361.9 514.83,367.1 514.92,361.1 515.00,364.6 515.08,365.3 515.17,368.5 515.25,367.1 515.33,362.4 515.42,370.1 515.50,367.7 515.58,366.7 515.67,359.4 515.75,363.9 515.83,362.4 515.92,367.4 516.00,364.6 516.08,365.6 516.17,365.2 516.25,363.4 516.33,358.6 516.42,367.4 516.50,362.8 516.58,365.0 516.67,368.7 516.75,364.5 516.83,365.4 516.92,361.1 517.00,365.5 517.08,366.0 517.17,366.7 517.25,359.0 517.33,364.7 517.42,363.9 517.50,360.1 517.58,363.2 517.67,358.2 517.75,362.0 517.83,364.5 517.92,365.6 518.00,367.6 518.08,365.5 518.17,366.4 518.25,367.6 518.33,364.4 518.42,369.1 518.50,364.8 518.58,364.9 518.67,367.9 518.75,363.3 518.83,365.1 518.92,360.6 519.00,358.6 519.08,365.3 519.17,364.3 519.25,365.4 519.33,360.9 519.42,367.3 519.50,369.0 519.58,367.4 519.67,362.3 519.75,367.6 519.83,362.6 519.92,368.6 520.00,363.1 520.08,367.4 520.17,366.4 520.25,366.0 520.33,365.6 520.42,362.8 520.50,360.0 520.58,365.2 520.67,366.4 520.75,363.7 520.83,365.6 520.92,369.0 521.00,364.1 521.08,367.0 521.17,364.5 521.25,365.0 521.33,361.5 521.42,365.9 521.50,359.3 521.58,361.7 521.67,366.7 521.75,362.0 521.83,361.4 521.92,365.3 522.00,366.7 522.08,362.3 522.17,367.4 522.25,365.0 522.33,361.7 522.42,362.7 522.50,370.8 522.58,365.4 522.67,367.3 522.75,366.7 522.83,365.3 522.92,365.8 523.00,367.5 523.08,363.9 523.17,369.6 523.25,367.6 523.33,365.4 523.42,364.3 523.50,366.0 523.58,364.0 523.67,368.6 523.75,368.8 523.83,362.9 523.92,361.7 524.00,366.6 524.08,363.8 524.17,361.6 524.25,358.9 524.33,365.7 524.42,362.9 524.50,368.9 524.58,364.0 524.67,363.0 524.75,364.3 524.83,367.1 524.92,366.5 525.00,366.5 525.08,365.3 525.17,360.6 525.25,365.1 525.33,363.8 525.42,366.3 525.50,363.4 525.58,365.3 525.67,363.1 525.75,362.5 525.83,366.1 525.92,368.7 526.00,361.7 526.08,363.2 526.17,363.7 526.25,359.6 526.33,364.4 526.42,366.6 526.50,365.1 526.58,367.1 526.67,365.1 526.75,368.4 526.83,366.0 526.92,366.5 527.00,362.0 527.08,361.1 527.17,366.1 527.25,361.3 527.33,362.7 527.42,365.4 527.50,367.6 527.58,362.1 527.67,364.6 527.75,366.4 527.83,361.1 527.92,367.7 528.00,368.8 528.08,365.9 528.17,364.7 528.25,369.0 528.33,363.2 528.42,365.0 528.50,363.8 528.58,366.5 528.67,365.4 528.75,364.9 528.83,364.8 528.92,359.8 529.00,367.5 529.08,361.7 529.17,362.7 529.25,369.7 529.33,367.9 529.42,365.2 529.50,362.7 529.58,365.1 529.67,368.7 529.75,369.1 529.83,367.3 529.92,364.2 530.00,359.3 530.08,366.0 530.17,362.4 530.25,363.4 530.33,362.1 530.42,367.8 530.50,364.4 530.58,366.8 530.67,365.9 530.75,362.5 530.83,369.0 530.92,358.7 531.00,364.1 531.08,365.7 531.17,369.0 531.25,366.8 531.33,363.6 531.42,365.8 531.50,365.5 531.58,365.2 531.67,371.2 531.75,362.2 531.83,366.4 531.92,364.9 532.00,362.9 532.08,362.2 532.17,367.3 532.25,366.4 532.33,359.9 532.42,369.6 532.50,362.4 532.58,366.6 532.67,362.1 532.75,369.1 532.83,365.9 532.92,366.1 533.00,363.8 533.08,365.9 533.17,361.8 533.25,363.7 533.33,361.5 533.42,365.5 533.50,367.4 533.58,364.8 533.67,368.4 533.75,362.5 533.83,369.0 533.92,369.5 534.00,363.0 534.08,366.3 534.17,366.7 534.25,360.9 534.33,362.4 534.42,362.5 534.50,367.8 534.58,364.6 534.67,363.3 534.75,371.0 534.83,362.1 534.92,366.9 535.00,364.1 535.08,364.1 535.17,365.9 535.25,365.0 535.33,367.0 535.42,366.1 535.50,363.5 535.58,361.7 535.67,358.2 535.75,362.7 535.83,363.9 535.92,362.9 536.00,366.7 536.08,363.5 536.17,371.0 536.25,367.9 536.33,367.5 536.42,366.8 536.50,361.2 536.58,362.7 536.67,364.0 536.75,364.9 536.83,365.5 536.92,365.9 537.00,364.2 537.08,365.7 537.17,361.7 537.25,359.6 537.33,365.2 537.42,368.3 537.50,365.7 537.58,363.6 537.67,367.9 537.75,369.2 537.83,364.3 537.92,362.9 538.00,362.5 538.08,361.6 538.17,369.4 538.25,362.9 538.33,365.0 538.42,364.8 538.50,363.3 538.58,370.0 538.67,366.0 538.75,361.6 538.83,365.3 538.92,370.8 539.00,363.9 539.08,366.8 539.17,368.6 539.25,365.2 539.33,363.9 539.42,365.1 539.50,362.1 539.58,366.3" stroke="#666666" stroke-width="0.6" fill="none" stroke-linejoin="round"/>
<g stroke="#000" fill="none">
<path d="M8,399.1H540" stroke-width="1.9"/>
<path d="M40.3,399V402.8M165.1,399V402.8M289.8,399V402.8M414.6,399V402.8M539.1,398.2V402.8" stroke-width="1.5"/>
<path d="M102.7,399V406.8M227.4,399V406.8M352.2,399V406.8M476.9,399V406.8" stroke-width="1.5"/>
</g>
<g font-size="10.9" text-anchor="middle" letter-spacing="-0.6">
<text x="102.65" y="419.4">20</text>
<text x="227.35" y="419.4">40</text>
<text x="352.45" y="419.4">60</text>
<text x="477.35" y="419.4">80</text>
</g>
<g class="lab" font-size="14.7">
<text transform="translate(0 84.00) scale(1 1.06) translate(0 -84.00)"><tspan x="465.14" y="84.00">M</tspan><tspan x="478.63" y="84.00">o</tspan><tspan x="485.95" y="84.00">O</tspan><tspan x="497.73" y="88.10" font-size="10.4">2</tspan><tspan x="507.74" y="84.00">(</tspan><tspan x="513.17" y="84.00">r</tspan><tspan x="518.73" y="84.00">e</tspan><tspan x="525.74" y="84.00">f</tspan><tspan x="529.81" y="84.00">.</tspan><tspan x="534.56" y="84.00">)</tspan></text>
<text transform="translate(0 143.80) scale(1 1.06) translate(0 -143.80)"><tspan x="380.94" y="143.80">M</tspan><tspan x="394.73" y="143.80">o</tspan><tspan x="402.35" y="143.80">/</tspan><tspan x="409.28" y="143.80">S</tspan><tspan x="417.27" y="143.80">i</tspan><tspan x="421.45" y="143.80">O</tspan><tspan x="432.43" y="147.90" font-size="10.4">2</tspan><tspan x="442.14" y="143.80">(</tspan><tspan x="447.63" y="143.80">a</tspan><tspan x="456.04" y="143.80">f</tspan><tspan x="460.53" y="143.80">t</tspan><tspan x="465.53" y="143.80">e</tspan><tspan x="471.77" y="143.80">r</tspan><tspan x="482.67" y="143.80">r</tspan><tspan x="487.83" y="143.80">e</tspan><tspan x="494.43" y="143.80">a</tspan><tspan x="501.23" y="143.80">c</tspan><tspan x="508.93" y="143.80">t</tspan><tspan x="514.27" y="143.80">i</tspan><tspan x="518.73" y="143.80">o</tspan><tspan x="526.17" y="143.80">n</tspan><tspan x="534.36" y="143.80">)</tspan></text>
<text transform="translate(0 269.40) scale(1 1.06) translate(0 -269.40)"><tspan x="465.14" y="269.40">M</tspan><tspan x="478.63" y="269.40">o</tspan><tspan x="485.95" y="269.40">O</tspan><tspan x="497.85" y="273.50" font-size="10.4">3</tspan><tspan x="507.74" y="269.40">(</tspan><tspan x="513.17" y="269.40">r</tspan><tspan x="518.73" y="269.40">e</tspan><tspan x="525.74" y="269.40">f</tspan><tspan x="529.81" y="269.40">.</tspan><tspan x="534.56" y="269.40">)</tspan></text>
<text transform="translate(0 341.80) scale(1 1.06) translate(0 -341.80)"><tspan x="438.14" y="341.80">M</tspan><tspan x="451.93" y="341.80">o</tspan><tspan x="459.45" y="341.80">/</tspan><tspan x="466.48" y="341.80">S</tspan><tspan x="474.47" y="341.80">i</tspan><tspan x="478.65" y="341.80">O</tspan><tspan x="489.63" y="345.90" font-size="10.4">2</tspan><tspan x="500.14" y="341.80">(</tspan><tspan x="505.73" y="341.80">c</tspan><tspan x="512.13" y="341.80">a</tspan><tspan x="519.26" y="341.80">l</tspan><tspan x="522.53" y="341.80">c</tspan><tspan x="529.51" y="341.80">.</tspan><tspan x="534.26" y="341.80">)</tspan></text>
</g>
<text font-size="14.3"><tspan x="253.73" y="447.5">2</tspan><tspan x="261.48" y="447.5" style="font-family:'Liberation Serif',serif">θ</tspan><tspan x="273.19" y="447.5">in</tspan><tspan x="290.00" y="447.5">°</tspan></text>
</svg>
</body></html>
